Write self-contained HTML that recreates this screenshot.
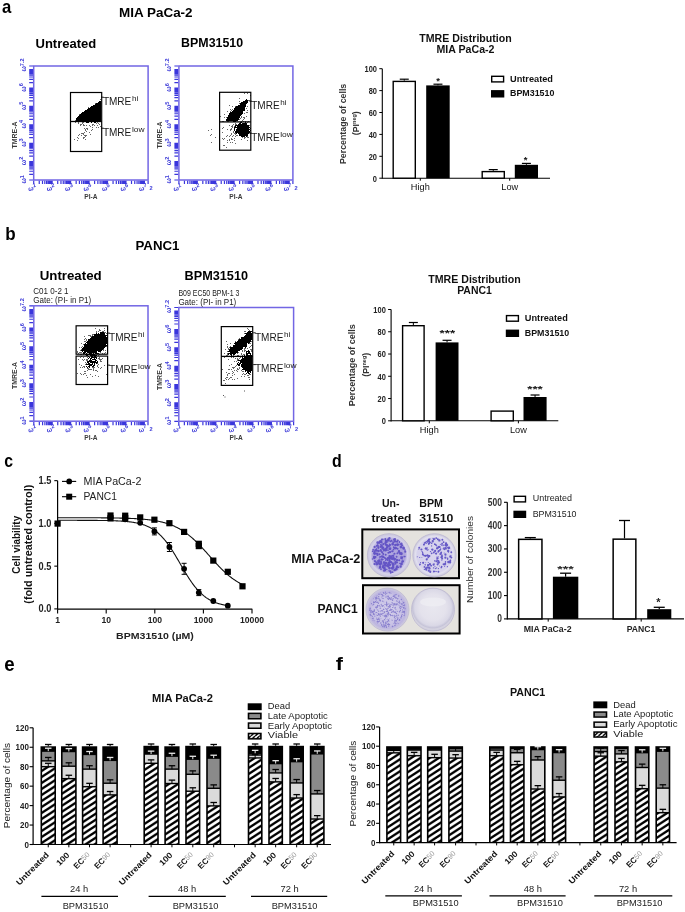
<!DOCTYPE html>
<html><head><meta charset="utf-8"><style>
html,body{margin:0;padding:0;background:#fff;}
svg{display:block;font-family:"Liberation Sans",sans-serif;filter:blur(0.3px);}
</style></head><body>
<svg width="685" height="912" viewBox="0 0 685 912">
<rect width="685" height="912" fill="#fff"/>
<text x="2" y="12.6" font-size="17.7" font-weight="bold" textLength="9.3" lengthAdjust="spacingAndGlyphs">a</text>
<text x="119.1" y="17.4" font-size="12.2" font-weight="bold" textLength="73.5" lengthAdjust="spacingAndGlyphs">MIA PaCa-2</text>
<text x="35.5" y="47.6" font-size="12.5" font-weight="bold" textLength="60.8" lengthAdjust="spacingAndGlyphs">Untreated</text>
<text x="181.1" y="47.4" font-size="12.5" font-weight="bold" textLength="62" lengthAdjust="spacingAndGlyphs">BPM31510</text>
<text x="5.3" y="239.7" font-size="18.6" font-weight="bold" textLength="10.4" lengthAdjust="spacingAndGlyphs">b</text>
<text x="135.5" y="249.7" font-size="12.5" font-weight="bold" textLength="44" lengthAdjust="spacingAndGlyphs">PANC1</text>
<text x="39.7" y="280" font-size="12.5" font-weight="bold" textLength="62" lengthAdjust="spacingAndGlyphs">Untreated</text>
<text x="4.2" y="466.7" font-size="19" font-weight="bold" textLength="8.8" lengthAdjust="spacingAndGlyphs">c</text>
<text x="332" y="467.3" font-size="18" font-weight="bold" textLength="9.7" lengthAdjust="spacingAndGlyphs">d</text>
<text x="4.2" y="670.6" font-size="19.5" font-weight="bold" textLength="10.4" lengthAdjust="spacingAndGlyphs">e</text>
<text x="335.8" y="670.4" font-size="18.8" font-weight="bold" textLength="7.2" lengthAdjust="spacingAndGlyphs">f</text>
<path d="M33.7 180.6v3.4M39.25 180.6v3.4M42.5 180.6v3.4M44.81 180.6v3.4M46.6 180.6v3.4M48.06 180.6v3.4M49.29 180.6v3.4M50.36 180.6v3.4M51.31 180.6v3.4M52.15 180.6v3.4M57.71 180.6v3.4M60.96 180.6v3.4M63.26 180.6v3.4M65.05 180.6v3.4M66.51 180.6v3.4M67.75 180.6v3.4M68.82 180.6v3.4M69.76 180.6v3.4M70.6 180.6v3.4M76.16 180.6v3.4M79.41 180.6v3.4M81.71 180.6v3.4M83.5 180.6v3.4M84.96 180.6v3.4M86.2 180.6v3.4M87.27 180.6v3.4M88.21 180.6v3.4M89.05 180.6v3.4M94.61 180.6v3.4M97.86 180.6v3.4M100.16 180.6v3.4M101.95 180.6v3.4M103.41 180.6v3.4M104.65 180.6v3.4M105.72 180.6v3.4M106.66 180.6v3.4M107.51 180.6v3.4M113.06 180.6v3.4M116.31 180.6v3.4M118.62 180.6v3.4M120.4 180.6v3.4M121.86 180.6v3.4M123.1 180.6v3.4M124.17 180.6v3.4M125.11 180.6v3.4M125.96 180.6v3.4M131.51 180.6v3.4M134.76 180.6v3.4M137.07 180.6v3.4M138.86 180.6v3.4M140.32 180.6v3.4M141.55 180.6v3.4M142.62 180.6v3.4M143.57 180.6v3.4M144.41 180.6v3.4M148.1 180.6v3.4M33.1 180h-3.9M33.1 174.46h-3.9M33.1 171.23h-3.9M33.1 168.93h-3.9M33.1 167.15h-3.9M33.1 165.69h-3.9M33.1 164.46h-3.9M33.1 163.39h-3.9M33.1 162.45h-3.9M33.1 161.61h-3.9M33.1 156.08h-3.9M33.1 152.84h-3.9M33.1 150.54h-3.9M33.1 148.76h-3.9M33.1 147.3h-3.9M33.1 146.07h-3.9M33.1 145.01h-3.9M33.1 144.07h-3.9M33.1 143.23h-3.9M33.1 137.69h-3.9M33.1 134.45h-3.9M33.1 132.16h-3.9M33.1 130.37h-3.9M33.1 128.92h-3.9M33.1 127.69h-3.9M33.1 126.62h-3.9M33.1 125.68h-3.9M33.1 124.84h-3.9M33.1 119.3h-3.9M33.1 116.07h-3.9M33.1 113.77h-3.9M33.1 111.99h-3.9M33.1 110.53h-3.9M33.1 109.3h-3.9M33.1 108.23h-3.9M33.1 107.29h-3.9M33.1 106.45h-3.9M33.1 100.92h-3.9M33.1 97.68h-3.9M33.1 95.38h-3.9M33.1 93.6h-3.9M33.1 92.14h-3.9M33.1 90.91h-3.9M33.1 89.85h-3.9M33.1 88.91h-3.9M33.1 88.06h-3.9M33.1 82.53h-3.9M33.1 79.29h-3.9M33.1 76.99h-3.9M33.1 75.21h-3.9M33.1 73.76h-3.9M33.1 72.53h-3.9M33.1 71.46h-3.9M33.1 70.52h-3.9M33.1 69.68h-3.9M33.1 66h-3.9" fill="none" stroke="#3a36dc" stroke-width="1.2"/>
<rect x="33.7" y="66" width="114.4" height="114" fill="none" stroke="#7266e4" stroke-width="1.5"/>
<text x="28.7" y="191.3" font-size="6.4" font-weight="bold" fill="#3c3ad8" transform="rotate(-15 28.7 191.3)">&#969;<tspan dy="-2.6" font-size="5.6">1</tspan></text>
<text x="26.1" y="183.6" font-size="6.4" font-weight="bold" fill="#3c3ad8" transform="rotate(-90 26.1 183.6)">&#969;<tspan dy="-2.6" font-size="5.6">1</tspan></text>
<text x="47.15" y="191.3" font-size="6.4" font-weight="bold" fill="#3c3ad8" transform="rotate(-15 47.15 191.3)">&#969;<tspan dy="-2.6" font-size="5.6">2</tspan></text>
<text x="26.1" y="165.21" font-size="6.4" font-weight="bold" fill="#3c3ad8" transform="rotate(-90 26.1 165.21)">&#969;<tspan dy="-2.6" font-size="5.6">2</tspan></text>
<text x="65.6" y="191.3" font-size="6.4" font-weight="bold" fill="#3c3ad8" transform="rotate(-15 65.6 191.3)">&#969;<tspan dy="-2.6" font-size="5.6">3</tspan></text>
<text x="26.1" y="146.83" font-size="6.4" font-weight="bold" fill="#3c3ad8" transform="rotate(-90 26.1 146.83)">&#969;<tspan dy="-2.6" font-size="5.6">3</tspan></text>
<text x="84.05" y="191.3" font-size="6.4" font-weight="bold" fill="#3c3ad8" transform="rotate(-15 84.05 191.3)">&#969;<tspan dy="-2.6" font-size="5.6">4</tspan></text>
<text x="26.1" y="128.44" font-size="6.4" font-weight="bold" fill="#3c3ad8" transform="rotate(-90 26.1 128.44)">&#969;<tspan dy="-2.6" font-size="5.6">4</tspan></text>
<text x="102.51" y="191.3" font-size="6.4" font-weight="bold" fill="#3c3ad8" transform="rotate(-15 102.51 191.3)">&#969;<tspan dy="-2.6" font-size="5.6">5</tspan></text>
<text x="26.1" y="110.05" font-size="6.4" font-weight="bold" fill="#3c3ad8" transform="rotate(-90 26.1 110.05)">&#969;<tspan dy="-2.6" font-size="5.6">5</tspan></text>
<text x="120.96" y="191.3" font-size="6.4" font-weight="bold" fill="#3c3ad8" transform="rotate(-15 120.96 191.3)">&#969;<tspan dy="-2.6" font-size="5.6">6</tspan></text>
<text x="26.1" y="91.66" font-size="6.4" font-weight="bold" fill="#3c3ad8" transform="rotate(-90 26.1 91.66)">&#969;<tspan dy="-2.6" font-size="5.6">6</tspan></text>
<text x="139.41" y="191.3" font-size="6.4" font-weight="bold" fill="#3c3ad8" transform="rotate(-15 139.41 191.3)">&#969;<tspan dy="-2.6" font-size="5.6">7</tspan></text>
<text x="149.6" y="189.8" font-size="5.6" font-weight="bold" fill="#3c3ad8">2</text>
<text x="26.1" y="71.6" font-size="6.4" font-weight="bold" fill="#3c3ad8" transform="rotate(-90 26.1 71.6)">&#969;<tspan dy="-2.6" font-size="5.6">7.2</tspan></text>
<text x="90.9" y="198.8" font-size="7.2" font-weight="bold" text-anchor="middle" fill="#3a3a3a" textLength="13.2" lengthAdjust="spacingAndGlyphs">PI-A</text>
<text x="17.2" y="135" font-size="7.2" font-weight="bold" text-anchor="middle" fill="#3a3a3a" textLength="27" lengthAdjust="spacingAndGlyphs" transform="rotate(-90 17.2 135)">TMRE-A</text>
<path d="M99 101.5h2M98 102.5h3M96 103.5h5M95 104.5h6M93 105.5h8M91 106.5h10M90 107.5h11M88 108.5h13M87 109.5h14M85 110.5h16M84 111.5h17M82 112.5h19M81 113.5h20M80 114.5h21M79 115.5h22M78 116.5h23M77 117.5h24M76 118.5h25M76 119.5h25M76 120.5h25M76 121.5h25M86 122.5h3M91 122.5h1M94 122.5h2" fill="none" stroke="#000" stroke-width="1"/>
<path d="M100 99.5h1M95 103.5h1M88 107.5h1M79 114.5h1M75 120.5h1M75 122.5h1M78 122.5h1M82 122.5h2M97 122.5h1M78 123.5h1M82 123.5h1M96 123.5h1M98 123.5h1M80 124.5h2M83 124.5h1M92 124.5h2M99 124.5h1M80 125.5h1M83 125.5h2M86 125.5h1M89 125.5h1M92 125.5h1M94 125.5h1M97 125.5h1M90 126.5h1M100 126.5h1M92 127.5h1M96 127.5h1M98 127.5h1M84 128.5h1M86 128.5h2M85 129.5h1M87 129.5h1M92 129.5h1M85 130.5h1M91 130.5h1M86 131.5h1M84 132.5h1M89 132.5h1M81 133.5h3M79 134.5h1M83 134.5h1M90 134.5h1M78 135.5h1M81 135.5h1M84 135.5h3M85 136.5h1M77 137.5h1M83 137.5h2M78 138.5h1M83 138.5h1M74 139.5h1M85 139.5h1M77 140.5h1" fill="none" stroke="#666" stroke-width="1"/>
<rect x="70.5" y="92.5" width="31.2" height="59" fill="none" stroke="#000" stroke-width="1.2"/>
<line x1="70.5" y1="121.5" x2="101.7" y2="121.5" stroke="#000" stroke-width="1.3"/>
<text x="102.9" y="105.1" font-size="11" fill="#1a1a1a" textLength="28.4" lengthAdjust="spacingAndGlyphs">TMRE</text>
<text x="131.9" y="101" font-size="8" fill="#1a1a1a" textLength="6.3" lengthAdjust="spacingAndGlyphs">hi</text>
<text x="102.9" y="135.6" font-size="11" fill="#1a1a1a" textLength="28.4" lengthAdjust="spacingAndGlyphs">TMRE</text>
<text x="131.9" y="131.7" font-size="8" fill="#1a1a1a" textLength="12.6" lengthAdjust="spacingAndGlyphs">low</text>
<line x1="101.1" y1="97.2" x2="103.6" y2="97.2" stroke="#000" stroke-width="0.9"/>
<line x1="101.1" y1="128.2" x2="103.6" y2="128.2" stroke="#000" stroke-width="0.9"/>
<path d="M178.9 180.6v3.4M184.44 180.6v3.4M187.67 180.6v3.4M189.97 180.6v3.4M191.75 180.6v3.4M193.21 180.6v3.4M194.44 180.6v3.4M195.51 180.6v3.4M196.45 180.6v3.4M197.29 180.6v3.4M202.82 180.6v3.4M206.06 180.6v3.4M208.36 180.6v3.4M210.14 180.6v3.4M211.6 180.6v3.4M212.83 180.6v3.4M213.89 180.6v3.4M214.83 180.6v3.4M215.67 180.6v3.4M221.21 180.6v3.4M224.45 180.6v3.4M226.74 180.6v3.4M228.53 180.6v3.4M229.98 180.6v3.4M231.21 180.6v3.4M232.28 180.6v3.4M233.22 180.6v3.4M234.06 180.6v3.4M239.6 180.6v3.4M242.83 180.6v3.4M245.13 180.6v3.4M246.91 180.6v3.4M248.37 180.6v3.4M249.6 180.6v3.4M250.67 180.6v3.4M251.61 180.6v3.4M252.45 180.6v3.4M257.98 180.6v3.4M261.22 180.6v3.4M263.52 180.6v3.4M265.3 180.6v3.4M266.76 180.6v3.4M267.99 180.6v3.4M269.05 180.6v3.4M269.99 180.6v3.4M270.84 180.6v3.4M276.37 180.6v3.4M279.61 180.6v3.4M281.91 180.6v3.4M283.69 180.6v3.4M285.14 180.6v3.4M286.37 180.6v3.4M287.44 180.6v3.4M288.38 180.6v3.4M289.22 180.6v3.4M292.9 180.6v3.4M178.3 180h-3.9M178.3 174.46h-3.9M178.3 171.23h-3.9M178.3 168.93h-3.9M178.3 167.15h-3.9M178.3 165.69h-3.9M178.3 164.46h-3.9M178.3 163.39h-3.9M178.3 162.45h-3.9M178.3 161.61h-3.9M178.3 156.08h-3.9M178.3 152.84h-3.9M178.3 150.54h-3.9M178.3 148.76h-3.9M178.3 147.3h-3.9M178.3 146.07h-3.9M178.3 145.01h-3.9M178.3 144.07h-3.9M178.3 143.23h-3.9M178.3 137.69h-3.9M178.3 134.45h-3.9M178.3 132.16h-3.9M178.3 130.37h-3.9M178.3 128.92h-3.9M178.3 127.69h-3.9M178.3 126.62h-3.9M178.3 125.68h-3.9M178.3 124.84h-3.9M178.3 119.3h-3.9M178.3 116.07h-3.9M178.3 113.77h-3.9M178.3 111.99h-3.9M178.3 110.53h-3.9M178.3 109.3h-3.9M178.3 108.23h-3.9M178.3 107.29h-3.9M178.3 106.45h-3.9M178.3 100.92h-3.9M178.3 97.68h-3.9M178.3 95.38h-3.9M178.3 93.6h-3.9M178.3 92.14h-3.9M178.3 90.91h-3.9M178.3 89.85h-3.9M178.3 88.91h-3.9M178.3 88.06h-3.9M178.3 82.53h-3.9M178.3 79.29h-3.9M178.3 76.99h-3.9M178.3 75.21h-3.9M178.3 73.76h-3.9M178.3 72.53h-3.9M178.3 71.46h-3.9M178.3 70.52h-3.9M178.3 69.68h-3.9M178.3 66h-3.9" fill="none" stroke="#3a36dc" stroke-width="1.2"/>
<rect x="178.9" y="66" width="114" height="114" fill="none" stroke="#7266e4" stroke-width="1.5"/>
<text x="173.9" y="191.3" font-size="6.4" font-weight="bold" fill="#3c3ad8" transform="rotate(-15 173.9 191.3)">&#969;<tspan dy="-2.6" font-size="5.6">1</tspan></text>
<text x="171.3" y="183.6" font-size="6.4" font-weight="bold" fill="#3c3ad8" transform="rotate(-90 171.3 183.6)">&#969;<tspan dy="-2.6" font-size="5.6">1</tspan></text>
<text x="192.29" y="191.3" font-size="6.4" font-weight="bold" fill="#3c3ad8" transform="rotate(-15 192.29 191.3)">&#969;<tspan dy="-2.6" font-size="5.6">2</tspan></text>
<text x="171.3" y="165.21" font-size="6.4" font-weight="bold" fill="#3c3ad8" transform="rotate(-90 171.3 165.21)">&#969;<tspan dy="-2.6" font-size="5.6">2</tspan></text>
<text x="210.67" y="191.3" font-size="6.4" font-weight="bold" fill="#3c3ad8" transform="rotate(-15 210.67 191.3)">&#969;<tspan dy="-2.6" font-size="5.6">3</tspan></text>
<text x="171.3" y="146.83" font-size="6.4" font-weight="bold" fill="#3c3ad8" transform="rotate(-90 171.3 146.83)">&#969;<tspan dy="-2.6" font-size="5.6">3</tspan></text>
<text x="229.06" y="191.3" font-size="6.4" font-weight="bold" fill="#3c3ad8" transform="rotate(-15 229.06 191.3)">&#969;<tspan dy="-2.6" font-size="5.6">4</tspan></text>
<text x="171.3" y="128.44" font-size="6.4" font-weight="bold" fill="#3c3ad8" transform="rotate(-90 171.3 128.44)">&#969;<tspan dy="-2.6" font-size="5.6">4</tspan></text>
<text x="247.45" y="191.3" font-size="6.4" font-weight="bold" fill="#3c3ad8" transform="rotate(-15 247.45 191.3)">&#969;<tspan dy="-2.6" font-size="5.6">5</tspan></text>
<text x="171.3" y="110.05" font-size="6.4" font-weight="bold" fill="#3c3ad8" transform="rotate(-90 171.3 110.05)">&#969;<tspan dy="-2.6" font-size="5.6">5</tspan></text>
<text x="265.84" y="191.3" font-size="6.4" font-weight="bold" fill="#3c3ad8" transform="rotate(-15 265.84 191.3)">&#969;<tspan dy="-2.6" font-size="5.6">6</tspan></text>
<text x="171.3" y="91.66" font-size="6.4" font-weight="bold" fill="#3c3ad8" transform="rotate(-90 171.3 91.66)">&#969;<tspan dy="-2.6" font-size="5.6">6</tspan></text>
<text x="284.22" y="191.3" font-size="6.4" font-weight="bold" fill="#3c3ad8" transform="rotate(-15 284.22 191.3)">&#969;<tspan dy="-2.6" font-size="5.6">7</tspan></text>
<text x="294.4" y="189.8" font-size="5.6" font-weight="bold" fill="#3c3ad8">2</text>
<text x="171.3" y="71.6" font-size="6.4" font-weight="bold" fill="#3c3ad8" transform="rotate(-90 171.3 71.6)">&#969;<tspan dy="-2.6" font-size="5.6">7.2</tspan></text>
<text x="235.9" y="198.8" font-size="7.2" font-weight="bold" text-anchor="middle" fill="#3a3a3a" textLength="13.2" lengthAdjust="spacingAndGlyphs">PI-A</text>
<text x="162.4" y="135" font-size="7.2" font-weight="bold" text-anchor="middle" fill="#3a3a3a" textLength="27" lengthAdjust="spacingAndGlyphs" transform="rotate(-90 162.4 135)">TMRE-A</text>
<path d="M246 99.5h1M245 100.5h3M243 101.5h5M241 102.5h7M240 103.5h7M240 104.5h6M238 105.5h8M236 106.5h10M235 107.5h10M234 108.5h11M234 109.5h11M233 110.5h12M232 111.5h11M230 112.5h13M229 113.5h14M229 114.5h13M228 115.5h13M228 116.5h12M227 117.5h13M227 118.5h12M226 119.5h13M226 120.5h12M233 121.5h3M240 122.5h2M245 122.5h1M239 123.5h2M242 123.5h5M238 124.5h9M235 125.5h14M235 126.5h1M237 126.5h12M234 127.5h16M234 128.5h1M237 128.5h12M250 128.5h1M234 129.5h1M236 129.5h14M234 130.5h1M236 130.5h13M250 130.5h1M235 131.5h15M235 132.5h15M236 133.5h1M238 133.5h11M239 134.5h9M239 135.5h9M241 136.5h4M246 136.5h1" fill="none" stroke="#000" stroke-width="1"/>
<path d="M244 93.5h1M247 93.5h1M250 95.5h1M239 98.5h1M248 100.5h2M239 101.5h1M239 103.5h1M229 105.5h1M232 106.5h1M235 106.5h1M247 106.5h1M246 108.5h1M230 109.5h1M232 109.5h1M231 110.5h1M247 110.5h1M227 111.5h1M230 111.5h1M246 112.5h2M244 113.5h1M224 114.5h1M220 116.5h1M241 116.5h1M246 116.5h1M224 117.5h1M226 117.5h1M241 117.5h1M243 117.5h2M240 118.5h1M244 118.5h1M239 119.5h1M243 119.5h1M242 120.5h1M222 121.5h2M227 121.5h2M241 121.5h1M243 121.5h1M245 121.5h1M248 121.5h1M247 122.5h1M235 123.5h1M233 124.5h1M235 124.5h2M229 125.5h1M232 125.5h1M249 125.5h1M231 126.5h2M234 126.5h1M223 127.5h1M232 127.5h1M222 128.5h1M231 128.5h1M211 129.5h1M227 129.5h1M230 129.5h2M208 130.5h1M230 130.5h1M233 131.5h1M222 132.5h1M233 132.5h1M231 133.5h1M234 133.5h2M250 133.5h1M211 134.5h1M231 134.5h1M235 134.5h1M210 135.5h1M227 135.5h1M230 135.5h1M233 135.5h1M236 135.5h2M226 136.5h1M229 136.5h1M232 136.5h1M235 136.5h1M247 136.5h1M215 137.5h1M242 137.5h1M244 137.5h2M247 137.5h2M222 138.5h1M224 138.5h1M231 138.5h1M234 138.5h1M244 138.5h1M223 139.5h1M229 139.5h1M231 139.5h2M241 139.5h1M227 140.5h1M229 140.5h1M234 140.5h1M247 140.5h1M211 142.5h1M227 142.5h1M230 142.5h1M232 142.5h1M235 143.5h1M223 145.5h2M226 147.5h1" fill="none" stroke="#666" stroke-width="1"/>
<rect x="219.6" y="92.3" width="31.2" height="57.9" fill="none" stroke="#000" stroke-width="1.2"/>
<line x1="219.6" y1="121.9" x2="250.8" y2="121.9" stroke="#000" stroke-width="1.3"/>
<text x="251.2" y="109.1" font-size="11" fill="#1a1a1a" textLength="28.4" lengthAdjust="spacingAndGlyphs">TMRE</text>
<text x="280.2" y="105" font-size="8" fill="#1a1a1a" textLength="6.3" lengthAdjust="spacingAndGlyphs">hi</text>
<text x="251.2" y="140.6" font-size="11" fill="#1a1a1a" textLength="28.4" lengthAdjust="spacingAndGlyphs">TMRE</text>
<text x="280.2" y="136.7" font-size="8" fill="#1a1a1a" textLength="12.6" lengthAdjust="spacingAndGlyphs">low</text>
<line x1="249.4" y1="101.2" x2="251.9" y2="101.2" stroke="#000" stroke-width="0.9"/>
<line x1="249.4" y1="133.2" x2="251.9" y2="133.2" stroke="#000" stroke-width="0.9"/>
<path d="M33.8 421.8v3.4M39.34 421.8v3.4M42.59 421.8v3.4M44.89 421.8v3.4M46.67 421.8v3.4M48.13 421.8v3.4M49.37 421.8v3.4M50.43 421.8v3.4M51.38 421.8v3.4M52.22 421.8v3.4M57.76 421.8v3.4M61.01 421.8v3.4M63.31 421.8v3.4M65.09 421.8v3.4M66.55 421.8v3.4M67.79 421.8v3.4M68.85 421.8v3.4M69.8 421.8v3.4M70.64 421.8v3.4M76.18 421.8v3.4M79.43 421.8v3.4M81.73 421.8v3.4M83.51 421.8v3.4M84.97 421.8v3.4M86.2 421.8v3.4M87.27 421.8v3.4M88.22 421.8v3.4M89.06 421.8v3.4M94.6 421.8v3.4M97.85 421.8v3.4M100.15 421.8v3.4M101.93 421.8v3.4M103.39 421.8v3.4M104.62 421.8v3.4M105.69 421.8v3.4M106.63 421.8v3.4M107.48 421.8v3.4M113.02 421.8v3.4M116.27 421.8v3.4M118.57 421.8v3.4M120.35 421.8v3.4M121.81 421.8v3.4M123.04 421.8v3.4M124.11 421.8v3.4M125.05 421.8v3.4M125.9 421.8v3.4M131.44 421.8v3.4M134.69 421.8v3.4M136.99 421.8v3.4M138.77 421.8v3.4M140.23 421.8v3.4M141.46 421.8v3.4M142.53 421.8v3.4M143.47 421.8v3.4M144.32 421.8v3.4M148 421.8v3.4M33.2 421.2h-3.9M33.2 415.6h-3.9M33.2 412.32h-3.9M33.2 409.99h-3.9M33.2 408.19h-3.9M33.2 406.72h-3.9M33.2 405.47h-3.9M33.2 404.39h-3.9M33.2 403.44h-3.9M33.2 402.59h-3.9M33.2 396.98h-3.9M33.2 393.71h-3.9M33.2 391.38h-3.9M33.2 389.58h-3.9M33.2 388.1h-3.9M33.2 386.86h-3.9M33.2 385.78h-3.9M33.2 384.83h-3.9M33.2 383.97h-3.9M33.2 378.37h-3.9M33.2 375.09h-3.9M33.2 372.77h-3.9M33.2 370.96h-3.9M33.2 369.49h-3.9M33.2 368.24h-3.9M33.2 367.17h-3.9M33.2 366.21h-3.9M33.2 365.36h-3.9M33.2 359.76h-3.9M33.2 356.48h-3.9M33.2 354.16h-3.9M33.2 352.35h-3.9M33.2 350.88h-3.9M33.2 349.63h-3.9M33.2 348.55h-3.9M33.2 347.6h-3.9M33.2 346.75h-3.9M33.2 341.15h-3.9M33.2 337.87h-3.9M33.2 335.54h-3.9M33.2 333.74h-3.9M33.2 332.26h-3.9M33.2 331.02h-3.9M33.2 329.94h-3.9M33.2 328.99h-3.9M33.2 328.14h-3.9M33.2 322.53h-3.9M33.2 319.25h-3.9M33.2 316.93h-3.9M33.2 315.13h-3.9M33.2 313.65h-3.9M33.2 312.41h-3.9M33.2 311.33h-3.9M33.2 310.37h-3.9M33.2 309.52h-3.9M33.2 305.8h-3.9" fill="none" stroke="#3a36dc" stroke-width="1.2"/>
<rect x="33.8" y="305.8" width="114.2" height="115.4" fill="none" stroke="#7266e4" stroke-width="1.5"/>
<text x="28.8" y="432.5" font-size="6.4" font-weight="bold" fill="#3c3ad8" transform="rotate(-15 28.8 432.5)">&#969;<tspan dy="-2.6" font-size="5.6">1</tspan></text>
<text x="26.2" y="424.8" font-size="6.4" font-weight="bold" fill="#3c3ad8" transform="rotate(-90 26.2 424.8)">&#969;<tspan dy="-2.6" font-size="5.6">1</tspan></text>
<text x="47.22" y="432.5" font-size="6.4" font-weight="bold" fill="#3c3ad8" transform="rotate(-15 47.22 432.5)">&#969;<tspan dy="-2.6" font-size="5.6">2</tspan></text>
<text x="26.2" y="406.19" font-size="6.4" font-weight="bold" fill="#3c3ad8" transform="rotate(-90 26.2 406.19)">&#969;<tspan dy="-2.6" font-size="5.6">2</tspan></text>
<text x="65.64" y="432.5" font-size="6.4" font-weight="bold" fill="#3c3ad8" transform="rotate(-15 65.64 432.5)">&#969;<tspan dy="-2.6" font-size="5.6">3</tspan></text>
<text x="26.2" y="387.57" font-size="6.4" font-weight="bold" fill="#3c3ad8" transform="rotate(-90 26.2 387.57)">&#969;<tspan dy="-2.6" font-size="5.6">3</tspan></text>
<text x="84.06" y="432.5" font-size="6.4" font-weight="bold" fill="#3c3ad8" transform="rotate(-15 84.06 432.5)">&#969;<tspan dy="-2.6" font-size="5.6">4</tspan></text>
<text x="26.2" y="368.96" font-size="6.4" font-weight="bold" fill="#3c3ad8" transform="rotate(-90 26.2 368.96)">&#969;<tspan dy="-2.6" font-size="5.6">4</tspan></text>
<text x="102.48" y="432.5" font-size="6.4" font-weight="bold" fill="#3c3ad8" transform="rotate(-15 102.48 432.5)">&#969;<tspan dy="-2.6" font-size="5.6">5</tspan></text>
<text x="26.2" y="350.35" font-size="6.4" font-weight="bold" fill="#3c3ad8" transform="rotate(-90 26.2 350.35)">&#969;<tspan dy="-2.6" font-size="5.6">5</tspan></text>
<text x="120.9" y="432.5" font-size="6.4" font-weight="bold" fill="#3c3ad8" transform="rotate(-15 120.9 432.5)">&#969;<tspan dy="-2.6" font-size="5.6">6</tspan></text>
<text x="26.2" y="331.74" font-size="6.4" font-weight="bold" fill="#3c3ad8" transform="rotate(-90 26.2 331.74)">&#969;<tspan dy="-2.6" font-size="5.6">6</tspan></text>
<text x="139.32" y="432.5" font-size="6.4" font-weight="bold" fill="#3c3ad8" transform="rotate(-15 139.32 432.5)">&#969;<tspan dy="-2.6" font-size="5.6">7</tspan></text>
<text x="149.5" y="431" font-size="5.6" font-weight="bold" fill="#3c3ad8">2</text>
<text x="26.2" y="311.4" font-size="6.4" font-weight="bold" fill="#3c3ad8" transform="rotate(-90 26.2 311.4)">&#969;<tspan dy="-2.6" font-size="5.6">7.2</tspan></text>
<text x="90.9" y="440" font-size="7.2" font-weight="bold" text-anchor="middle" fill="#3a3a3a" textLength="13.2" lengthAdjust="spacingAndGlyphs">PI-A</text>
<text x="17.3" y="375.5" font-size="7.2" font-weight="bold" text-anchor="middle" fill="#3a3a3a" textLength="27" lengthAdjust="spacingAndGlyphs" transform="rotate(-90 17.3 375.5)">TMRE-A</text>
<path d="M100 332.5h4M96 333.5h1M98 333.5h1M100 333.5h5M94 334.5h11M94 335.5h13M92 336.5h14M91 337.5h16M90 338.5h17M88 339.5h19M88 340.5h19M87 341.5h20M86 342.5h21M85 343.5h1M87 343.5h20M84 344.5h22M84 345.5h23M84 346.5h22M83 347.5h22M82 348.5h22M82 349.5h21M81 350.5h21M82 351.5h1M84 351.5h13M98 351.5h3M83 352.5h3M87 352.5h10M83 353.5h2M86 353.5h1M89 353.5h3M93 353.5h1M95 353.5h4M85 354.5h10M86 355.5h2M90 355.5h7M88 356.5h1M91 356.5h2M94 356.5h2M89 357.5h1M91 357.5h6M88 358.5h1M90 358.5h2M94 358.5h1M96 358.5h1M90 359.5h1M92 359.5h4M89 360.5h3M95 360.5h2M87 361.5h9M97 361.5h1M87 362.5h2M90 362.5h8M88 363.5h2M92 363.5h1M94 363.5h1M96 363.5h1M86 364.5h7M94 364.5h1M89 365.5h3M93 365.5h2M86 366.5h1M88 366.5h2M92 366.5h2M87 367.5h1M89 367.5h1" fill="none" stroke="#000" stroke-width="1"/>
<path d="M95 328.5h1M104 328.5h1M99 329.5h1M99 330.5h2M104 330.5h1M96 331.5h1M98 331.5h1M102 331.5h2M96 332.5h1M104 332.5h2M106 333.5h1M92 334.5h2M88 335.5h3M92 335.5h1M84 336.5h1M90 336.5h2M85 338.5h1M84 339.5h1M86 339.5h1M86 340.5h1M84 341.5h2M81 343.5h1M83 344.5h1M82 346.5h1M106 346.5h1M79 347.5h1M81 347.5h1M81 349.5h1M103 349.5h1M80 350.5h1M103 350.5h1M105 350.5h1M77 351.5h1M77 352.5h1M79 352.5h3M100 352.5h1M105 352.5h1M78 353.5h1M102 353.5h1M104 353.5h1M80 354.5h2M83 354.5h1M99 354.5h1M98 355.5h1M81 356.5h1M80 357.5h1M83 357.5h1M87 357.5h1M99 357.5h1M98 358.5h2M102 358.5h1M78 359.5h1M82 359.5h1M84 359.5h1M86 359.5h2M99 359.5h3M83 360.5h1M86 360.5h2M100 360.5h1M100 361.5h2M85 362.5h1M86 363.5h1M97 363.5h1M79 364.5h1M85 364.5h1M98 364.5h1M81 365.5h1M97 365.5h1M104 365.5h1M83 366.5h2M97 366.5h1M80 367.5h1M82 367.5h1M84 367.5h1M92 367.5h3M98 367.5h1M101 367.5h1M87 368.5h2M93 368.5h1M100 368.5h1M88 369.5h4M93 369.5h1M87 370.5h1M93 370.5h1M95 370.5h2M84 371.5h2M97 371.5h1M77 373.5h1M80 373.5h1M84 373.5h2M81 374.5h1M83 374.5h1M90 374.5h1M106 374.5h1M86 375.5h1M95 375.5h1M92 376.5h1M98 376.5h1M87 377.5h1" fill="none" stroke="#666" stroke-width="1"/>
<rect x="76.1" y="325.8" width="31.5" height="28.4" fill="none" stroke="#000" stroke-width="1.2"/>
<rect x="76.1" y="356.1" width="31.5" height="28.4" fill="none" stroke="#000" stroke-width="1.2"/>
<text x="109.1" y="341" font-size="11" fill="#1a1a1a" textLength="28.4" lengthAdjust="spacingAndGlyphs">TMRE</text>
<text x="138.1" y="336.9" font-size="8" fill="#1a1a1a" textLength="6.3" lengthAdjust="spacingAndGlyphs">hi</text>
<text x="109.1" y="372.5" font-size="11" fill="#1a1a1a" textLength="28.4" lengthAdjust="spacingAndGlyphs">TMRE</text>
<text x="138.1" y="368.6" font-size="8" fill="#1a1a1a" textLength="12.6" lengthAdjust="spacingAndGlyphs">low</text>
<line x1="107.3" y1="333.1" x2="109.8" y2="333.1" stroke="#000" stroke-width="0.9"/>
<line x1="107.3" y1="365.1" x2="109.8" y2="365.1" stroke="#000" stroke-width="0.9"/>
<path d="M178.8 421.9v3.4M184.37 421.9v3.4M187.63 421.9v3.4M189.95 421.9v3.4M191.74 421.9v3.4M193.21 421.9v3.4M194.45 421.9v3.4M195.52 421.9v3.4M196.47 421.9v3.4M197.32 421.9v3.4M202.89 421.9v3.4M206.15 421.9v3.4M208.46 421.9v3.4M210.26 421.9v3.4M211.72 421.9v3.4M212.96 421.9v3.4M214.04 421.9v3.4M214.99 421.9v3.4M215.83 421.9v3.4M221.41 421.9v3.4M224.67 421.9v3.4M226.98 421.9v3.4M228.77 421.9v3.4M230.24 421.9v3.4M231.48 421.9v3.4M232.55 421.9v3.4M233.5 421.9v3.4M234.35 421.9v3.4M239.92 421.9v3.4M243.18 421.9v3.4M245.5 421.9v3.4M247.29 421.9v3.4M248.76 421.9v3.4M250 421.9v3.4M251.07 421.9v3.4M252.02 421.9v3.4M252.86 421.9v3.4M258.44 421.9v3.4M261.7 421.9v3.4M264.01 421.9v3.4M265.81 421.9v3.4M267.27 421.9v3.4M268.51 421.9v3.4M269.59 421.9v3.4M270.53 421.9v3.4M271.38 421.9v3.4M276.95 421.9v3.4M280.22 421.9v3.4M282.53 421.9v3.4M284.32 421.9v3.4M285.79 421.9v3.4M287.03 421.9v3.4M288.1 421.9v3.4M289.05 421.9v3.4M289.9 421.9v3.4M293.6 421.9v3.4M178.2 421.3h-3.9M178.2 415.77h-3.9M178.2 412.54h-3.9M178.2 410.25h-3.9M178.2 408.47h-3.9M178.2 407.02h-3.9M178.2 405.79h-3.9M178.2 404.72h-3.9M178.2 403.79h-3.9M178.2 402.95h-3.9M178.2 397.42h-3.9M178.2 394.19h-3.9M178.2 391.89h-3.9M178.2 390.12h-3.9M178.2 388.66h-3.9M178.2 387.43h-3.9M178.2 386.37h-3.9M178.2 385.43h-3.9M178.2 384.59h-3.9M178.2 379.06h-3.9M178.2 375.83h-3.9M178.2 373.54h-3.9M178.2 371.76h-3.9M178.2 370.31h-3.9M178.2 369.08h-3.9M178.2 368.01h-3.9M178.2 367.08h-3.9M178.2 366.24h-3.9M178.2 360.71h-3.9M178.2 357.48h-3.9M178.2 355.18h-3.9M178.2 353.41h-3.9M178.2 351.95h-3.9M178.2 350.72h-3.9M178.2 349.66h-3.9M178.2 348.72h-3.9M178.2 347.88h-3.9M178.2 342.36h-3.9M178.2 339.12h-3.9M178.2 336.83h-3.9M178.2 335.05h-3.9M178.2 333.6h-3.9M178.2 332.37h-3.9M178.2 331.3h-3.9M178.2 330.37h-3.9M178.2 329.53h-3.9M178.2 324h-3.9M178.2 320.77h-3.9M178.2 318.48h-3.9M178.2 316.7h-3.9M178.2 315.24h-3.9M178.2 314.01h-3.9M178.2 312.95h-3.9M178.2 312.01h-3.9M178.2 311.17h-3.9M178.2 307.5h-3.9" fill="none" stroke="#3a36dc" stroke-width="1.2"/>
<rect x="178.8" y="307.5" width="114.8" height="113.8" fill="none" stroke="#7266e4" stroke-width="1.5"/>
<text x="173.8" y="432.6" font-size="6.4" font-weight="bold" fill="#3c3ad8" transform="rotate(-15 173.8 432.6)">&#969;<tspan dy="-2.6" font-size="5.6">1</tspan></text>
<text x="171.2" y="424.9" font-size="6.4" font-weight="bold" fill="#3c3ad8" transform="rotate(-90 171.2 424.9)">&#969;<tspan dy="-2.6" font-size="5.6">1</tspan></text>
<text x="192.32" y="432.6" font-size="6.4" font-weight="bold" fill="#3c3ad8" transform="rotate(-15 192.32 432.6)">&#969;<tspan dy="-2.6" font-size="5.6">2</tspan></text>
<text x="171.2" y="406.55" font-size="6.4" font-weight="bold" fill="#3c3ad8" transform="rotate(-90 171.2 406.55)">&#969;<tspan dy="-2.6" font-size="5.6">2</tspan></text>
<text x="210.83" y="432.6" font-size="6.4" font-weight="bold" fill="#3c3ad8" transform="rotate(-15 210.83 432.6)">&#969;<tspan dy="-2.6" font-size="5.6">3</tspan></text>
<text x="171.2" y="388.19" font-size="6.4" font-weight="bold" fill="#3c3ad8" transform="rotate(-90 171.2 388.19)">&#969;<tspan dy="-2.6" font-size="5.6">3</tspan></text>
<text x="229.35" y="432.6" font-size="6.4" font-weight="bold" fill="#3c3ad8" transform="rotate(-15 229.35 432.6)">&#969;<tspan dy="-2.6" font-size="5.6">4</tspan></text>
<text x="171.2" y="369.84" font-size="6.4" font-weight="bold" fill="#3c3ad8" transform="rotate(-90 171.2 369.84)">&#969;<tspan dy="-2.6" font-size="5.6">4</tspan></text>
<text x="247.86" y="432.6" font-size="6.4" font-weight="bold" fill="#3c3ad8" transform="rotate(-15 247.86 432.6)">&#969;<tspan dy="-2.6" font-size="5.6">5</tspan></text>
<text x="171.2" y="351.48" font-size="6.4" font-weight="bold" fill="#3c3ad8" transform="rotate(-90 171.2 351.48)">&#969;<tspan dy="-2.6" font-size="5.6">5</tspan></text>
<text x="266.38" y="432.6" font-size="6.4" font-weight="bold" fill="#3c3ad8" transform="rotate(-15 266.38 432.6)">&#969;<tspan dy="-2.6" font-size="5.6">6</tspan></text>
<text x="171.2" y="333.13" font-size="6.4" font-weight="bold" fill="#3c3ad8" transform="rotate(-90 171.2 333.13)">&#969;<tspan dy="-2.6" font-size="5.6">6</tspan></text>
<text x="284.9" y="432.6" font-size="6.4" font-weight="bold" fill="#3c3ad8" transform="rotate(-15 284.9 432.6)">&#969;<tspan dy="-2.6" font-size="5.6">7</tspan></text>
<text x="295.1" y="431.1" font-size="5.6" font-weight="bold" fill="#3c3ad8">2</text>
<text x="171.2" y="313.1" font-size="6.4" font-weight="bold" fill="#3c3ad8" transform="rotate(-90 171.2 313.1)">&#969;<tspan dy="-2.6" font-size="5.6">7.2</tspan></text>
<text x="236.2" y="440.1" font-size="7.2" font-weight="bold" text-anchor="middle" fill="#3a3a3a" textLength="13.2" lengthAdjust="spacingAndGlyphs">PI-A</text>
<text x="162.3" y="376.4" font-size="7.2" font-weight="bold" text-anchor="middle" fill="#3a3a3a" textLength="27" lengthAdjust="spacingAndGlyphs" transform="rotate(-90 162.3 376.4)">TMRE-A</text>
<path d="M248 331.5h4M247 332.5h4M245 333.5h7M246 334.5h6M245 335.5h7M244 336.5h8M241 337.5h11M241 338.5h11M239 339.5h13M238 340.5h13M237 341.5h14M235 342.5h15M234 343.5h13M248 343.5h1M235 344.5h12M233 345.5h14M233 346.5h14M230 347.5h13M245 347.5h1M230 348.5h13M229 349.5h13M229 350.5h11M248 350.5h1M228 351.5h10M246 351.5h4M230 352.5h8M246 352.5h1M248 352.5h2M228 353.5h8M246 353.5h5M228 354.5h1M230 354.5h2M233 354.5h2M246 354.5h2M250 354.5h1M231 355.5h1M244 355.5h1M246 355.5h6M243 356.5h8M242 357.5h1M244 357.5h8M242 358.5h10M241 359.5h11M238 360.5h14M240 361.5h12M238 362.5h1M240 362.5h12M237 363.5h1M239 363.5h2M242 363.5h10M237 364.5h3M241 364.5h11M238 365.5h2M241 365.5h11M241 366.5h11M242 367.5h10M243 368.5h9M242 369.5h10M245 370.5h7M245 371.5h1M247 371.5h4M247 372.5h2M250 372.5h1M246 373.5h1M248 373.5h2" fill="none" stroke="#000" stroke-width="1"/>
<path d="M247 328.5h1M248 329.5h1M249 330.5h1M244 331.5h2M244 333.5h1M239 338.5h1M238 339.5h1M226 341.5h1M235 341.5h1M251 341.5h1M230 343.5h1M249 343.5h2M227 344.5h1M251 345.5h1M227 346.5h1M230 346.5h1M250 346.5h1M227 347.5h1M229 347.5h1M249 347.5h1M228 348.5h1M244 348.5h2M247 348.5h1M225 349.5h1M228 349.5h1M244 349.5h1M250 349.5h2M242 350.5h1M244 350.5h2M251 350.5h1M227 351.5h1M242 351.5h1M244 351.5h1M251 351.5h1M238 352.5h1M224 353.5h1M227 353.5h1M237 353.5h1M241 353.5h1M227 354.5h1M241 354.5h1M243 354.5h2M226 355.5h2M233 355.5h1M237 355.5h2M242 355.5h1M226 356.5h1M229 356.5h2M238 356.5h1M241 356.5h1M224 357.5h1M231 357.5h1M233 357.5h1M240 357.5h1M235 358.5h1M237 358.5h1M239 358.5h1M228 359.5h1M237 359.5h2M237 360.5h1M234 361.5h1M236 361.5h1M231 364.5h1M229 365.5h1M236 365.5h1M235 366.5h1M232 367.5h3M239 367.5h1M233 368.5h1M237 368.5h1M239 368.5h1M222 369.5h1M228 369.5h2M231 369.5h1M237 369.5h2M234 370.5h1M236 370.5h1M241 370.5h1M232 371.5h1M237 371.5h1M242 371.5h2M226 372.5h1M233 372.5h1M228 373.5h2M232 373.5h1M243 373.5h1M227 374.5h1M234 374.5h1M242 374.5h1M244 374.5h2M249 374.5h2M227 375.5h1M232 375.5h1M247 375.5h2M241 376.5h1M244 376.5h1M226 377.5h2M230 377.5h2M248 377.5h2M225 378.5h1M229 378.5h1M237 378.5h1M226 379.5h1M228 379.5h1M232 379.5h1M234 379.5h1M249 379.5h1M223 380.5h2M225 383.5h1" fill="none" stroke="#666" stroke-width="1"/>
<path d="M223 395.5h1M224.5 397h1M244 391h1" stroke="#555" stroke-width="1"/>
<rect x="221.3" y="326.6" width="31.4" height="58.8" fill="none" stroke="#000" stroke-width="1.2"/>
<line x1="221.3" y1="356.4" x2="252.7" y2="356.4" stroke="#000" stroke-width="1.3"/>
<text x="255" y="340.7" font-size="11" fill="#1a1a1a" textLength="28.4" lengthAdjust="spacingAndGlyphs">TMRE</text>
<text x="284" y="336.6" font-size="8" fill="#1a1a1a" textLength="6.3" lengthAdjust="spacingAndGlyphs">hi</text>
<text x="255" y="372" font-size="11" fill="#1a1a1a" textLength="28.4" lengthAdjust="spacingAndGlyphs">TMRE</text>
<text x="284" y="368.1" font-size="8" fill="#1a1a1a" textLength="12.6" lengthAdjust="spacingAndGlyphs">low</text>
<line x1="253.2" y1="332.8" x2="255.7" y2="332.8" stroke="#000" stroke-width="0.9"/>
<line x1="253.2" y1="364.6" x2="255.7" y2="364.6" stroke="#000" stroke-width="0.9"/>
<text x="33.3" y="294.3" font-size="8.2" fill="#222" textLength="35.3" lengthAdjust="spacingAndGlyphs">C01 0-2 1</text>
<text x="33.3" y="303.4" font-size="8.2" fill="#222" textLength="57.9" lengthAdjust="spacingAndGlyphs">Gate: (PI- in P1)</text>
<text x="178.4" y="296.3" font-size="8.2" fill="#222" textLength="61" lengthAdjust="spacingAndGlyphs">B09 EC50 BPM-1 3</text>
<text x="178.4" y="304.8" font-size="8.2" fill="#222" textLength="57.9" lengthAdjust="spacingAndGlyphs">Gate: (PI- in P1)</text>
<text x="184.6" y="280" font-size="12.5" font-weight="bold" textLength="63.4" lengthAdjust="spacingAndGlyphs">BPM31510</text>
<line x1="382.3" y1="68.7" x2="382.3" y2="178.8" stroke="#000" stroke-width="1.1"/>
<line x1="382.3" y1="178.2" x2="550" y2="178.2" stroke="#000" stroke-width="1.1"/>
<line x1="379.3" y1="178.2" x2="382.3" y2="178.2" stroke="#000" stroke-width="1"/>
<text x="377" y="181.6" font-size="9.6" font-weight="bold" text-anchor="end" fill="#222" textLength="4.15" lengthAdjust="spacingAndGlyphs">0</text>
<line x1="379.3" y1="156.3" x2="382.3" y2="156.3" stroke="#000" stroke-width="1"/>
<text x="377" y="159.7" font-size="9.6" font-weight="bold" text-anchor="end" fill="#222" textLength="8.3" lengthAdjust="spacingAndGlyphs">20</text>
<line x1="379.3" y1="134.4" x2="382.3" y2="134.4" stroke="#000" stroke-width="1"/>
<text x="377" y="137.8" font-size="9.6" font-weight="bold" text-anchor="end" fill="#222" textLength="8.3" lengthAdjust="spacingAndGlyphs">40</text>
<line x1="379.3" y1="112.5" x2="382.3" y2="112.5" stroke="#000" stroke-width="1"/>
<text x="377" y="115.9" font-size="9.6" font-weight="bold" text-anchor="end" fill="#222" textLength="8.3" lengthAdjust="spacingAndGlyphs">60</text>
<line x1="379.3" y1="90.6" x2="382.3" y2="90.6" stroke="#000" stroke-width="1"/>
<text x="377" y="94" font-size="9.6" font-weight="bold" text-anchor="end" fill="#222" textLength="8.3" lengthAdjust="spacingAndGlyphs">80</text>
<line x1="379.3" y1="68.7" x2="382.3" y2="68.7" stroke="#000" stroke-width="1"/>
<text x="377" y="72.1" font-size="9.6" font-weight="bold" text-anchor="end" fill="#222" textLength="12.45" lengthAdjust="spacingAndGlyphs">100</text>
<line x1="404.25" y1="79.2" x2="404.25" y2="80.7" stroke="#000" stroke-width="1"/>
<line x1="399.75" y1="79.2" x2="408.75" y2="79.2" stroke="#000" stroke-width="1.2"/>
<rect x="393.2" y="81.4" width="22.1" height="96.8" fill="#fff" stroke="#000" stroke-width="1.4"/>
<line x1="437.95" y1="84.2" x2="437.95" y2="85.4" stroke="#000" stroke-width="1"/>
<line x1="433.45" y1="84.2" x2="442.45" y2="84.2" stroke="#000" stroke-width="1.2"/>
<rect x="426.2" y="85.4" width="23.5" height="92.8" fill="#000"/>
<line x1="493.25" y1="169.6" x2="493.25" y2="170.9" stroke="#000" stroke-width="1"/>
<line x1="488.75" y1="169.6" x2="497.75" y2="169.6" stroke="#000" stroke-width="1.2"/>
<rect x="482.2" y="171.6" width="22.1" height="6.6" fill="#fff" stroke="#000" stroke-width="1.4"/>
<line x1="526.4" y1="163.4" x2="526.4" y2="164.8" stroke="#000" stroke-width="1"/>
<line x1="521.9" y1="163.4" x2="530.9" y2="163.4" stroke="#000" stroke-width="1.2"/>
<rect x="514.8" y="164.8" width="23.2" height="13.4" fill="#000"/>
<text x="438.2" y="83.6" font-size="9.5" font-weight="bold" text-anchor="middle" fill="#111">*</text>
<text x="525.6" y="162.6" font-size="9.5" font-weight="bold" text-anchor="middle" fill="#111">*</text>
<line x1="420.3" y1="178.2" x2="420.3" y2="180.7" stroke="#000" stroke-width="1"/>
<text x="420.3" y="190.2" font-size="9.2" text-anchor="middle" fill="#111">High</text>
<line x1="509.7" y1="178.2" x2="509.7" y2="180.7" stroke="#000" stroke-width="1"/>
<text x="509.7" y="190.2" font-size="9.2" text-anchor="middle" fill="#111">Low</text>
<text x="465.5" y="41.5" font-size="10.6" font-weight="bold" text-anchor="middle" fill="#111" textLength="92.4" lengthAdjust="spacingAndGlyphs">TMRE Distribution</text>
<text x="465.5" y="53.2" font-size="10.6" font-weight="bold" text-anchor="middle" fill="#111" textLength="58" lengthAdjust="spacingAndGlyphs">MIA PaCa-2</text>
<rect x="491.7" y="76.3" width="11.9" height="5.6" fill="#fff" stroke="#000" stroke-width="1.4"/>
<rect x="491" y="90.1" width="13.3" height="7.4" fill="#000"/>
<text x="510" y="81.5" font-size="8.5" font-weight="bold" fill="#111" textLength="43" lengthAdjust="spacingAndGlyphs">Untreated</text>
<text x="510" y="96.2" font-size="8.5" font-weight="bold" fill="#111" textLength="44.4" lengthAdjust="spacingAndGlyphs">BPM31510</text>
<text x="346.2" y="123.9" font-size="8.8" font-weight="bold" text-anchor="middle" fill="#333" textLength="80.3" lengthAdjust="spacingAndGlyphs" transform="rotate(-90 346.2 123.9)">Percentage of cells</text>
<text transform="translate(358.6 123.2) rotate(-90)" font-size="8.8" font-weight="bold" text-anchor="middle" fill="#333">(PI<tspan font-size="5.5" dy="-3">neg</tspan><tspan dy="3">)</tspan></text>
<line x1="391.1" y1="309.5" x2="391.1" y2="421.4" stroke="#000" stroke-width="1.1"/>
<line x1="391.1" y1="420.8" x2="558.3" y2="420.8" stroke="#000" stroke-width="1.1"/>
<line x1="388.1" y1="420.8" x2="391.1" y2="420.8" stroke="#000" stroke-width="1"/>
<text x="385.8" y="424.2" font-size="9.6" font-weight="bold" text-anchor="end" fill="#222" textLength="4.15" lengthAdjust="spacingAndGlyphs">0</text>
<line x1="388.1" y1="398.54" x2="391.1" y2="398.54" stroke="#000" stroke-width="1"/>
<text x="385.8" y="401.94" font-size="9.6" font-weight="bold" text-anchor="end" fill="#222" textLength="8.3" lengthAdjust="spacingAndGlyphs">20</text>
<line x1="388.1" y1="376.28" x2="391.1" y2="376.28" stroke="#000" stroke-width="1"/>
<text x="385.8" y="379.68" font-size="9.6" font-weight="bold" text-anchor="end" fill="#222" textLength="8.3" lengthAdjust="spacingAndGlyphs">40</text>
<line x1="388.1" y1="354.02" x2="391.1" y2="354.02" stroke="#000" stroke-width="1"/>
<text x="385.8" y="357.42" font-size="9.6" font-weight="bold" text-anchor="end" fill="#222" textLength="8.3" lengthAdjust="spacingAndGlyphs">60</text>
<line x1="388.1" y1="331.76" x2="391.1" y2="331.76" stroke="#000" stroke-width="1"/>
<text x="385.8" y="335.16" font-size="9.6" font-weight="bold" text-anchor="end" fill="#222" textLength="8.3" lengthAdjust="spacingAndGlyphs">80</text>
<line x1="388.1" y1="309.5" x2="391.1" y2="309.5" stroke="#000" stroke-width="1"/>
<text x="385.8" y="312.9" font-size="9.6" font-weight="bold" text-anchor="end" fill="#222" textLength="12.45" lengthAdjust="spacingAndGlyphs">100</text>
<line x1="413.35" y1="322.5" x2="413.35" y2="325" stroke="#000" stroke-width="1"/>
<line x1="408.85" y1="322.5" x2="417.85" y2="322.5" stroke="#000" stroke-width="1.2"/>
<rect x="402.6" y="325.7" width="21.5" height="95.1" fill="#fff" stroke="#000" stroke-width="1.4"/>
<line x1="447.05" y1="340.3" x2="447.05" y2="342.4" stroke="#000" stroke-width="1"/>
<line x1="442.55" y1="340.3" x2="451.55" y2="340.3" stroke="#000" stroke-width="1.2"/>
<rect x="435.6" y="342.4" width="22.9" height="78.4" fill="#000"/>
<rect x="491.1" y="411.1" width="22.2" height="9.7" fill="#fff" stroke="#000" stroke-width="1.4"/>
<line x1="535.05" y1="395" x2="535.05" y2="397" stroke="#000" stroke-width="1"/>
<line x1="530.55" y1="395" x2="539.55" y2="395" stroke="#000" stroke-width="1.2"/>
<rect x="523.5" y="397" width="23.1" height="23.8" fill="#000"/>
<text x="447.3" y="336.2" font-size="9.5" font-weight="bold" text-anchor="middle" fill="#111" textLength="15.5" lengthAdjust="spacingAndGlyphs">***</text>
<text x="535" y="392.1" font-size="9.5" font-weight="bold" text-anchor="middle" fill="#111" textLength="15.5" lengthAdjust="spacingAndGlyphs">***</text>
<line x1="429.3" y1="420.8" x2="429.3" y2="423.3" stroke="#000" stroke-width="1"/>
<text x="429.3" y="432.8" font-size="9.2" text-anchor="middle" fill="#111">High</text>
<line x1="518.4" y1="420.8" x2="518.4" y2="423.3" stroke="#000" stroke-width="1"/>
<text x="518.4" y="432.8" font-size="9.2" text-anchor="middle" fill="#111">Low</text>
<text x="474.5" y="282.5" font-size="10.6" font-weight="bold" text-anchor="middle" fill="#111" textLength="92.4" lengthAdjust="spacingAndGlyphs">TMRE Distribution</text>
<text x="474.5" y="294.2" font-size="10.6" font-weight="bold" text-anchor="middle" fill="#111" textLength="34.7" lengthAdjust="spacingAndGlyphs">PANC1</text>
<rect x="506.5" y="315.6" width="11.9" height="5.6" fill="#fff" stroke="#000" stroke-width="1.4"/>
<rect x="505.8" y="329.6" width="13.3" height="7.4" fill="#000"/>
<text x="524.8" y="320.8" font-size="8.5" font-weight="bold" fill="#111" textLength="43" lengthAdjust="spacingAndGlyphs">Untreated</text>
<text x="524.8" y="335.7" font-size="8.5" font-weight="bold" fill="#111" textLength="44.4" lengthAdjust="spacingAndGlyphs">BPM31510</text>
<text x="355.2" y="365.2" font-size="8.8" font-weight="bold" text-anchor="middle" fill="#333" textLength="82" lengthAdjust="spacingAndGlyphs" transform="rotate(-90 355.2 365.2)">Percentage of cells</text>
<text transform="translate(368.8 364.8) rotate(-90)" font-size="8.8" font-weight="bold" text-anchor="middle" fill="#333">(PI<tspan font-size="5.5" dy="-3">neg</tspan><tspan dy="3">)</tspan></text>
<path d="M57.6 520.31L58.17 520.31L58.73 520.31L59.3 520.31L59.87 520.31L60.44 520.31L61 520.31L61.57 520.31L62.14 520.31L62.7 520.31L63.27 520.31L63.84 520.31L64.4 520.31L64.97 520.31L65.54 520.31L66.11 520.31L66.67 520.31L67.24 520.31L67.81 520.31L68.37 520.31L68.94 520.31L69.51 520.31L70.07 520.31L70.64 520.31L71.21 520.32L71.78 520.32L72.34 520.32L72.91 520.32L73.48 520.32L74.04 520.32L74.61 520.32L75.18 520.32L75.74 520.32L76.31 520.32L76.88 520.32L77.44 520.33L78.01 520.33L78.58 520.33L79.15 520.33L79.71 520.33L80.28 520.33L80.85 520.33L81.41 520.33L81.98 520.34L82.55 520.34L83.12 520.34L83.68 520.34L84.25 520.34L84.82 520.35L85.38 520.35L85.95 520.35L86.52 520.35L87.08 520.35L87.65 520.36L88.22 520.36L88.78 520.36L89.35 520.37L89.92 520.37L90.49 520.37L91.05 520.37L91.62 520.38L92.19 520.38L92.75 520.39L93.32 520.39L93.89 520.39L94.46 520.4L95.02 520.4L95.59 520.41L96.16 520.41L96.72 520.42L97.29 520.42L97.86 520.43L98.42 520.43L98.99 520.44L99.56 520.45L100.12 520.45L100.69 520.46L101.26 520.47L101.83 520.47L102.39 520.48L102.96 520.49L103.53 520.5L104.09 520.51L104.66 520.52L105.23 520.53L105.8 520.54L106.36 520.55L106.93 520.56L107.5 520.57L108.06 520.59L108.63 520.6L109.2 520.61L109.76 520.63L110.33 520.64L110.9 520.66L111.47 520.67L112.03 520.69L112.6 520.71L113.17 520.73L113.73 520.75L114.3 520.77L114.87 520.79L115.43 520.81L116 520.83L116.57 520.86L117.14 520.88L117.7 520.91L118.27 520.94L118.84 520.97L119.4 521L119.97 521.03L120.54 521.06L121.1 521.1L121.67 521.13L122.24 521.17L122.81 521.21L123.37 521.25L123.94 521.29L124.51 521.34L125.07 521.39L125.64 521.44L126.21 521.49L126.77 521.54L127.34 521.6L127.91 521.66L128.48 521.72L129.04 521.78L129.61 521.85L130.18 521.92L130.74 521.99L131.31 522.07L131.88 522.15L132.44 522.23L133.01 522.31L133.58 522.4L134.15 522.5L134.71 522.6L135.28 522.7L135.85 522.81L136.41 522.92L136.98 523.03L137.55 523.16L138.11 523.28L138.68 523.41L139.25 523.55L139.81 523.7L140.38 523.85L140.95 524L141.52 524.16L142.08 524.33L142.65 524.51L143.22 524.69L143.78 524.88L144.35 525.08L144.92 525.29L145.49 525.5L146.05 525.73L146.62 525.96L147.19 526.2L147.75 526.46L148.32 526.72L148.89 526.99L149.45 527.27L150.02 527.57L150.59 527.87L151.16 528.19L151.72 528.51L152.29 528.85L152.86 529.21L153.42 529.57L153.99 529.95L154.56 530.34L155.12 530.75L155.69 531.17L156.26 531.6L156.83 532.05L157.39 532.52L157.96 532.99L158.53 533.49L159.09 534L159.66 534.53L160.23 535.07L160.79 535.63L161.36 536.2L161.93 536.8L162.5 537.4L163.06 538.03L163.63 538.67L164.2 539.33L164.76 540.01L165.33 540.7L165.9 541.41L166.46 542.14L167.03 542.88L167.6 543.64L168.16 544.42L168.73 545.21L169.3 546.01L169.87 546.84L170.43 547.67L171 548.52L171.57 549.39L172.13 550.26L172.7 551.15L173.27 552.05L173.84 552.97L174.4 553.89L174.97 554.82L175.54 555.76L176.1 556.71L176.67 557.67L177.24 558.63L177.8 559.6L178.37 560.57L178.94 561.55L179.5 562.52L180.07 563.5L180.64 564.48L181.21 565.46L181.77 566.44L182.34 567.41L182.91 568.39L183.47 569.35L184.04 570.32L184.61 571.27L185.18 572.22L185.74 573.16L186.31 574.09L186.88 575.01L187.44 575.93L188.01 576.83L188.58 577.71L189.14 578.59L189.71 579.45L190.28 580.3L190.84 581.14L191.41 581.96L191.98 582.77L192.55 583.56L193.11 584.33L193.68 585.09L194.25 585.83L194.81 586.56L195.38 587.27L195.95 587.96L196.52 588.63L197.08 589.29L197.65 589.93L198.22 590.56L198.78 591.17L199.35 591.76L199.92 592.33L200.48 592.89L201.05 593.43L201.62 593.96L202.19 594.47L202.75 594.96L203.32 595.44L203.89 595.9L204.45 596.35L205.02 596.78L205.59 597.2L206.15 597.61L206.72 598L207.29 598.38L207.86 598.74L208.42 599.09L208.99 599.43L209.56 599.76L210.12 600.07L210.69 600.38L211.26 600.67L211.82 600.95L212.39 601.22L212.96 601.48L213.53 601.74L214.09 601.98L214.66 602.21L215.23 602.43L215.79 602.65L216.36 602.86L216.93 603.05L217.49 603.24L218.06 603.43L218.63 603.6L219.2 603.77L219.76 603.93L220.33 604.09L220.9 604.24L221.46 604.38L222.03 604.52L222.6 604.65L223.16 604.78L223.73 604.9L224.3 605.01L224.87 605.13L225.43 605.23L226 605.33L226.57 605.43L227.13 605.53L227.7 605.62" fill="none" stroke="#111" stroke-width="1.1"/>
<path d="M57.6 517.71L58.22 517.71L58.83 517.71L59.45 517.71L60.06 517.71L60.68 517.71L61.29 517.71L61.91 517.71L62.52 517.71L63.14 517.71L63.76 517.71L64.37 517.71L64.99 517.72L65.6 517.72L66.22 517.72L66.83 517.72L67.45 517.72L68.07 517.72L68.68 517.72L69.3 517.72L69.91 517.72L70.53 517.72L71.14 517.72L71.76 517.72L72.37 517.72L72.99 517.72L73.61 517.73L74.22 517.73L74.84 517.73L75.45 517.73L76.07 517.73L76.68 517.73L77.3 517.73L77.91 517.73L78.53 517.73L79.15 517.73L79.76 517.74L80.38 517.74L80.99 517.74L81.61 517.74L82.22 517.74L82.84 517.74L83.46 517.74L84.07 517.75L84.69 517.75L85.3 517.75L85.92 517.75L86.53 517.75L87.15 517.76L87.76 517.76L88.38 517.76L89 517.76L89.61 517.76L90.23 517.77L90.84 517.77L91.46 517.77L92.07 517.77L92.69 517.78L93.3 517.78L93.92 517.78L94.54 517.79L95.15 517.79L95.77 517.79L96.38 517.8L97 517.8L97.61 517.8L98.23 517.81L98.85 517.81L99.46 517.82L100.08 517.82L100.69 517.82L101.31 517.83L101.92 517.83L102.54 517.84L103.15 517.84L103.77 517.85L104.39 517.85L105 517.86L105.62 517.87L106.23 517.87L106.85 517.88L107.46 517.88L108.08 517.89L108.69 517.9L109.31 517.91L109.93 517.91L110.54 517.92L111.16 517.93L111.77 517.94L112.39 517.95L113 517.96L113.62 517.97L114.24 517.98L114.85 517.99L115.47 518L116.08 518.01L116.7 518.02L117.31 518.03L117.93 518.04L118.54 518.05L119.16 518.07L119.78 518.08L120.39 518.1L121.01 518.11L121.62 518.13L122.24 518.14L122.85 518.16L123.47 518.17L124.08 518.19L124.7 518.21L125.32 518.23L125.93 518.25L126.55 518.27L127.16 518.29L127.78 518.31L128.39 518.33L129.01 518.36L129.63 518.38L130.24 518.4L130.86 518.43L131.47 518.46L132.09 518.49L132.7 518.51L133.32 518.54L133.93 518.57L134.55 518.61L135.17 518.64L135.78 518.67L136.4 518.71L137.01 518.75L137.63 518.78L138.24 518.82L138.86 518.87L139.47 518.91L140.09 518.95L140.71 519L141.32 519.04L141.94 519.09L142.55 519.14L143.17 519.2L143.78 519.25L144.4 519.31L145.02 519.37L145.63 519.43L146.25 519.49L146.86 519.55L147.48 519.62L148.09 519.69L148.71 519.76L149.32 519.83L149.94 519.91L150.56 519.99L151.17 520.07L151.79 520.16L152.4 520.25L153.02 520.34L153.63 520.43L154.25 520.53L154.86 520.63L155.48 520.73L156.1 520.84L156.71 520.95L157.33 521.07L157.94 521.19L158.56 521.31L159.17 521.44L159.79 521.57L160.41 521.7L161.02 521.84L161.64 521.99L162.25 522.14L162.87 522.29L163.48 522.45L164.1 522.62L164.71 522.79L165.33 522.96L165.95 523.14L166.56 523.33L167.18 523.52L167.79 523.72L168.41 523.92L169.02 524.13L169.64 524.35L170.25 524.58L170.87 524.81L171.49 525.04L172.1 525.29L172.72 525.54L173.33 525.8L173.95 526.07L174.56 526.34L175.18 526.63L175.8 526.92L176.41 527.22L177.03 527.52L177.64 527.84L178.26 528.16L178.87 528.49L179.49 528.84L180.1 529.19L180.72 529.54L181.34 529.91L181.95 530.29L182.57 530.68L183.18 531.07L183.8 531.48L184.41 531.89L185.03 532.32L185.64 532.75L186.26 533.2L186.88 533.65L187.49 534.12L188.11 534.59L188.72 535.07L189.34 535.57L189.95 536.07L190.57 536.58L191.19 537.1L191.8 537.63L192.42 538.17L193.03 538.72L193.65 539.28L194.26 539.85L194.88 540.42L195.49 541.01L196.11 541.6L196.73 542.2L197.34 542.81L197.96 543.43L198.57 544.05L199.19 544.68L199.8 545.32L200.42 545.96L201.03 546.61L201.65 547.27L202.27 547.93L202.88 548.59L203.5 549.27L204.11 549.94L204.73 550.62L205.34 551.3L205.96 551.99L206.58 552.68L207.19 553.37L207.81 554.06L208.42 554.75L209.04 555.44L209.65 556.14L210.27 556.83L210.88 557.52L211.5 558.22L212.12 558.91L212.73 559.6L213.35 560.28L213.96 560.96L214.58 561.64L215.19 562.32L215.81 562.99L216.42 563.66L217.04 564.32L217.66 564.98L218.27 565.63L218.89 566.28L219.5 566.92L220.12 567.55L220.73 568.17L221.35 568.79L221.97 569.4L222.58 570.01L223.2 570.6L223.81 571.19L224.43 571.76L225.04 572.33L225.66 572.89L226.27 573.45L226.89 573.99L227.51 574.52L228.12 575.04L228.74 575.56L229.35 576.06L229.97 576.56L230.58 577.04L231.2 577.52L231.81 577.99L232.43 578.44L233.05 578.89L233.66 579.33L234.28 579.75L234.89 580.17L235.51 580.58L236.12 580.98L236.74 581.37L237.36 581.75L237.97 582.12L238.59 582.48L239.2 582.83L239.82 583.17L240.43 583.51L241.05 583.83L241.66 584.15L242.28 584.46" fill="none" stroke="#111" stroke-width="1.1"/>
<line x1="57.6" y1="480.7" x2="57.6" y2="609.5" stroke="#000" stroke-width="1.2"/>
<line x1="57.6" y1="609.2" x2="252.3" y2="609.2" stroke="#000" stroke-width="1.2"/>
<line x1="54.3" y1="480.65" x2="57.6" y2="480.65" stroke="#000" stroke-width="1.1"/>
<text x="51.4" y="484.1" font-size="10" font-weight="bold" text-anchor="end" fill="#222" textLength="12.8" lengthAdjust="spacingAndGlyphs">1.5</text>
<line x1="54.3" y1="523.4" x2="57.6" y2="523.4" stroke="#000" stroke-width="1.1"/>
<text x="51.4" y="526.85" font-size="10" font-weight="bold" text-anchor="end" fill="#222" textLength="12.8" lengthAdjust="spacingAndGlyphs">1.0</text>
<line x1="54.3" y1="566.15" x2="57.6" y2="566.15" stroke="#000" stroke-width="1.1"/>
<text x="51.4" y="569.6" font-size="10" font-weight="bold" text-anchor="end" fill="#222" textLength="12.8" lengthAdjust="spacingAndGlyphs">0.5</text>
<line x1="54.3" y1="608.9" x2="57.6" y2="608.9" stroke="#000" stroke-width="1.1"/>
<text x="51.4" y="612.35" font-size="10" font-weight="bold" text-anchor="end" fill="#222" textLength="12.8" lengthAdjust="spacingAndGlyphs">0.0</text>
<line x1="57.6" y1="609.2" x2="57.6" y2="613.4" stroke="#000" stroke-width="1.1"/>
<text x="57.6" y="623.4" font-size="8.6" font-weight="bold" text-anchor="middle" fill="#222">1</text>
<line x1="106.2" y1="609.2" x2="106.2" y2="613.4" stroke="#000" stroke-width="1.1"/>
<text x="106.2" y="623.4" font-size="8.6" font-weight="bold" text-anchor="middle" fill="#222">10</text>
<line x1="154.8" y1="609.2" x2="154.8" y2="613.4" stroke="#000" stroke-width="1.1"/>
<text x="154.8" y="623.4" font-size="8.6" font-weight="bold" text-anchor="middle" fill="#222">100</text>
<line x1="203.4" y1="609.2" x2="203.4" y2="613.4" stroke="#000" stroke-width="1.1"/>
<text x="203.4" y="623.4" font-size="8.6" font-weight="bold" text-anchor="middle" fill="#222">1000</text>
<line x1="252" y1="609.2" x2="252" y2="613.4" stroke="#000" stroke-width="1.1"/>
<text x="252" y="623.4" font-size="8.6" font-weight="bold" text-anchor="middle" fill="#222">10000</text>
<text x="116.1" y="638.9" font-size="8.7" font-weight="bold" fill="#222" textLength="77.7" lengthAdjust="spacingAndGlyphs">BPM31510 (&#181;M)</text>
<text x="19.6" y="544.8" font-size="10.2" font-weight="bold" text-anchor="middle" fill="#111" textLength="58" lengthAdjust="spacingAndGlyphs" transform="rotate(-90 19.6 544.8)">Cell viability</text>
<text x="31.7" y="544.2" font-size="10.2" font-weight="bold" text-anchor="middle" fill="#111" textLength="119" lengthAdjust="spacingAndGlyphs" transform="rotate(-90 31.7 544.2)">(fold untreated control)</text>
<circle cx="110.5" cy="517.9" r="2.9" fill="#000"/>
<circle cx="125.2" cy="519.3" r="2.9" fill="#000"/>
<circle cx="140.2" cy="522.8" r="2.9" fill="#000"/>
<line x1="154.4" y1="527.9" x2="154.4" y2="534.9" stroke="#000" stroke-width="1"/>
<line x1="151.9" y1="527.9" x2="156.9" y2="527.9" stroke="#000" stroke-width="1"/>
<line x1="151.9" y1="534.9" x2="156.9" y2="534.9" stroke="#000" stroke-width="1"/>
<circle cx="154.4" cy="531.4" r="2.9" fill="#000"/>
<line x1="169.4" y1="542.5" x2="169.4" y2="551.5" stroke="#000" stroke-width="1"/>
<line x1="166.9" y1="542.5" x2="171.9" y2="542.5" stroke="#000" stroke-width="1"/>
<line x1="166.9" y1="551.5" x2="171.9" y2="551.5" stroke="#000" stroke-width="1"/>
<circle cx="169.4" cy="547" r="2.9" fill="#000"/>
<line x1="184.1" y1="563.3" x2="184.1" y2="574.3" stroke="#000" stroke-width="1"/>
<line x1="181.6" y1="563.3" x2="186.6" y2="563.3" stroke="#000" stroke-width="1"/>
<line x1="181.6" y1="574.3" x2="186.6" y2="574.3" stroke="#000" stroke-width="1"/>
<circle cx="184.1" cy="568.8" r="2.9" fill="#000"/>
<line x1="198.8" y1="589.6" x2="198.8" y2="595.6" stroke="#000" stroke-width="1"/>
<line x1="196.3" y1="589.6" x2="201.3" y2="589.6" stroke="#000" stroke-width="1"/>
<line x1="196.3" y1="595.6" x2="201.3" y2="595.6" stroke="#000" stroke-width="1"/>
<circle cx="198.8" cy="592.6" r="2.9" fill="#000"/>
<circle cx="213.3" cy="601" r="2.9" fill="#000"/>
<circle cx="227.8" cy="605.7" r="2.9" fill="#000"/>
<rect x="107.4" y="512.4" width="6.2" height="6.2" fill="#000"/>
<rect x="122.1" y="512.6" width="6.2" height="6.2" fill="#000"/>
<rect x="137.1" y="514.3" width="6.2" height="6.2" fill="#000"/>
<rect x="151.3" y="516.6" width="6.2" height="6.2" fill="#000"/>
<rect x="166.3" y="520.1" width="6.2" height="6.2" fill="#000"/>
<rect x="181" y="528.8" width="6.2" height="6.2" fill="#000"/>
<rect x="195.7" y="543" width="6.2" height="6.2" fill="#000"/>
<rect x="210.2" y="557.5" width="6.2" height="6.2" fill="#000"/>
<rect x="224.7" y="568.7" width="6.2" height="6.2" fill="#000"/>
<rect x="239.4" y="583.2" width="6.2" height="6.2" fill="#000"/>
<rect x="107.4" y="515.2" width="6.2" height="6.2" fill="#000"/>
<rect x="122.1" y="515.1" width="6.2" height="6.2" fill="#000"/>
<rect x="195.7" y="540.7" width="6.2" height="6.2" fill="#000"/>
<rect x="54.5" y="520.5" width="6.2" height="6.2" fill="#000"/>
<line x1="62" y1="481.4" x2="76.2" y2="481.4" stroke="#000" stroke-width="1.1"/>
<circle cx="69.2" cy="481.4" r="2.9" fill="#000"/>
<line x1="62" y1="496.7" x2="76.2" y2="496.7" stroke="#000" stroke-width="1.1"/>
<rect x="66.2" y="493.7" width="6" height="6" fill="#000"/>
<text x="83.5" y="484.6" font-size="10" fill="#222" textLength="57.9" lengthAdjust="spacingAndGlyphs">MIA PaCa-2</text>
<text x="83.5" y="499.9" font-size="10" fill="#222" textLength="33.5" lengthAdjust="spacingAndGlyphs">PANC1</text>
<text x="382" y="506.5" font-size="11" font-weight="bold" fill="#111" textLength="17.5" lengthAdjust="spacingAndGlyphs">Un-</text>
<text x="419.3" y="506.5" font-size="11" font-weight="bold" fill="#111" textLength="23.7" lengthAdjust="spacingAndGlyphs">BPM</text>
<text x="371.4" y="521.7" font-size="11" font-weight="bold" fill="#111" textLength="40" lengthAdjust="spacingAndGlyphs">treated</text>
<text x="419.3" y="521.7" font-size="11" font-weight="bold" fill="#111" textLength="34.1" lengthAdjust="spacingAndGlyphs">31510</text>
<text x="291.3" y="562.6" font-size="13" font-weight="bold" fill="#111" textLength="69.1" lengthAdjust="spacingAndGlyphs">MIA PaCa-2</text>
<text x="317.6" y="613.3" font-size="13" font-weight="bold" fill="#111" textLength="40.2" lengthAdjust="spacingAndGlyphs">PANC1</text>
<defs>
<radialGradient id="wb1" cx="50%" cy="50%" r="50%"><stop offset="0" stop-color="#b0a8e0"/><stop offset="0.75" stop-color="#ada4dc"/><stop offset="0.86" stop-color="#d6d2ea"/><stop offset="1" stop-color="#c9c5dd"/></radialGradient>
<radialGradient id="wb2" cx="50%" cy="50%" r="50%"><stop offset="0" stop-color="#d9d5ee"/><stop offset="0.8" stop-color="#d6d2ec"/><stop offset="0.88" stop-color="#e2e0ee"/><stop offset="1" stop-color="#c8c5dc"/></radialGradient>
<radialGradient id="wb3" cx="50%" cy="50%" r="50%"><stop offset="0" stop-color="#d4cfea"/><stop offset="0.7" stop-color="#c9c3e6"/><stop offset="0.86" stop-color="#bdb5e0"/><stop offset="1" stop-color="#d0cde0"/></radialGradient>
<radialGradient id="wb4" cx="50%" cy="45%" r="50%"><stop offset="0" stop-color="#e8e7ef"/><stop offset="0.6" stop-color="#e4e2ec"/><stop offset="0.85" stop-color="#dad8e6"/><stop offset="0.95" stop-color="#c6c4d8"/><stop offset="1" stop-color="#d4d2e0"/></radialGradient>
</defs>
<rect x="362.3" y="529.4" width="96.7" height="48.8" fill="#e4e2de" stroke="#000" stroke-width="2"/>
<circle cx="389" cy="555.3" r="21.6" fill="url(#wb1)" stroke="#bcb8d0" stroke-width="0.8"/>
<path d="M389.09 568.17a0.88 0.88 0 1 0 1.77 0a0.88 0.88 0 1 0 -1.77 0M377.4 546.89a0.61 0.61 0 1 0 1.22 0a0.61 0.61 0 1 0 -1.22 0M404.18 556.62a0.78 0.78 0 1 0 1.57 0a0.78 0.78 0 1 0 -1.57 0M389.74 572.68a0.97 0.97 0 1 0 1.95 0a0.97 0.97 0 1 0 -1.95 0M394.12 544.96a1.13 1.13 0 1 0 2.25 0a1.13 1.13 0 1 0 -2.25 0M395.82 566.61a1.33 1.33 0 1 0 2.66 0a1.33 1.33 0 1 0 -2.66 0M372.94 553.11a1.15 1.15 0 1 0 2.31 0a1.15 1.15 0 1 0 -2.31 0M401.94 561.27a1.08 1.08 0 1 0 2.16 0a1.08 1.08 0 1 0 -2.16 0M386.7 558.22a1.33 1.33 0 1 0 2.66 0a1.33 1.33 0 1 0 -2.66 0M373.04 557.83a1.34 1.34 0 1 0 2.68 0a1.34 1.34 0 1 0 -2.68 0M384.34 538.93a0.91 0.91 0 1 0 1.81 0a0.91 0.91 0 1 0 -1.81 0M391.28 544.22a1.39 1.39 0 1 0 2.78 0a1.39 1.39 0 1 0 -2.78 0M392.28 551.53a0.67 0.67 0 1 0 1.34 0a0.67 0.67 0 1 0 -1.34 0M391.6 572.13a0.94 0.94 0 1 0 1.89 0a0.94 0.94 0 1 0 -1.89 0M381.27 548.44a1.01 1.01 0 1 0 2.01 0a1.01 1.01 0 1 0 -2.01 0M380.11 562.11a1.08 1.08 0 1 0 2.15 0a1.08 1.08 0 1 0 -2.15 0M373.47 546.9a1.16 1.16 0 1 0 2.33 0a1.16 1.16 0 1 0 -2.33 0M402.17 548.31a1.44 1.44 0 1 0 2.88 0a1.44 1.44 0 1 0 -2.88 0M384.32 549.08a1.32 1.32 0 1 0 2.65 0a1.32 1.32 0 1 0 -2.65 0M404.17 551.63a1.06 1.06 0 1 0 2.12 0a1.06 1.06 0 1 0 -2.12 0M385.89 547.47a1.3 1.3 0 1 0 2.6 0a1.3 1.3 0 1 0 -2.6 0M380.03 551.14a0.61 0.61 0 1 0 1.21 0a0.61 0.61 0 1 0 -1.21 0M398.95 541.47a0.63 0.63 0 1 0 1.26 0a0.63 0.63 0 1 0 -1.26 0M391.82 544.65a0.69 0.69 0 1 0 1.37 0a0.69 0.69 0 1 0 -1.37 0M383.49 570.06a1.34 1.34 0 1 0 2.67 0a1.34 1.34 0 1 0 -2.67 0M401.6 559.06a0.59 0.59 0 1 0 1.18 0a0.59 0.59 0 1 0 -1.18 0M385.67 545.43a1.34 1.34 0 1 0 2.69 0a1.34 1.34 0 1 0 -2.69 0M399.9 553.79a1.45 1.45 0 1 0 2.9 0a1.45 1.45 0 1 0 -2.9 0M386.13 559.82a1.09 1.09 0 1 0 2.18 0a1.09 1.09 0 1 0 -2.18 0M395.71 556.82a0.92 0.92 0 1 0 1.83 0a0.92 0.92 0 1 0 -1.83 0M383.1 550.88a0.59 0.59 0 1 0 1.18 0a0.59 0.59 0 1 0 -1.18 0M394.2 548.06a1.41 1.41 0 1 0 2.83 0a1.41 1.41 0 1 0 -2.83 0M396.6 548.8a0.96 0.96 0 1 0 1.93 0a0.96 0.96 0 1 0 -1.93 0M373.98 553.53a1.09 1.09 0 1 0 2.17 0a1.09 1.09 0 1 0 -2.17 0M374.77 550.29a1.4 1.4 0 1 0 2.79 0a1.4 1.4 0 1 0 -2.79 0M376.32 554.79a1.2 1.2 0 1 0 2.4 0a1.2 1.2 0 1 0 -2.4 0M388.32 564.87a1.43 1.43 0 1 0 2.86 0a1.43 1.43 0 1 0 -2.86 0M375.59 553.58a0.56 0.56 0 1 0 1.12 0a0.56 0.56 0 1 0 -1.12 0M376.95 562.07a0.57 0.57 0 1 0 1.14 0a0.57 0.57 0 1 0 -1.14 0M378 546.05a0.6 0.6 0 1 0 1.21 0a0.6 0.6 0 1 0 -1.21 0M379.51 546.73a1.16 1.16 0 1 0 2.32 0a1.16 1.16 0 1 0 -2.32 0M378.95 567.06a1.21 1.21 0 1 0 2.43 0a1.21 1.21 0 1 0 -2.43 0M392.11 555.9a1.16 1.16 0 1 0 2.32 0a1.16 1.16 0 1 0 -2.32 0M396.58 553.3a0.96 0.96 0 1 0 1.92 0a0.96 0.96 0 1 0 -1.92 0M379.85 549.86a0.88 0.88 0 1 0 1.76 0a0.88 0.88 0 1 0 -1.76 0M383.83 565.12a1.09 1.09 0 1 0 2.17 0a1.09 1.09 0 1 0 -2.17 0M384.41 565.51a1.25 1.25 0 1 0 2.49 0a1.25 1.25 0 1 0 -2.49 0M400.8 557.52a1.21 1.21 0 1 0 2.42 0a1.21 1.21 0 1 0 -2.42 0M384.69 562.98a1.27 1.27 0 1 0 2.55 0a1.27 1.27 0 1 0 -2.55 0M388.6 562.86a0.94 0.94 0 1 0 1.88 0a0.94 0.94 0 1 0 -1.88 0M386.37 550.01a0.84 0.84 0 1 0 1.68 0a0.84 0.84 0 1 0 -1.68 0M380.03 569.12a0.94 0.94 0 1 0 1.89 0a0.94 0.94 0 1 0 -1.89 0M392.58 549.63a0.85 0.85 0 1 0 1.71 0a0.85 0.85 0 1 0 -1.71 0M378.39 541.97a0.96 0.96 0 1 0 1.91 0a0.96 0.96 0 1 0 -1.91 0M388.92 561.31a1.03 1.03 0 1 0 2.05 0a1.03 1.03 0 1 0 -2.05 0M393.41 569.94a1.3 1.3 0 1 0 2.61 0a1.3 1.3 0 1 0 -2.61 0M391.47 563.74a1.28 1.28 0 1 0 2.55 0a1.28 1.28 0 1 0 -2.55 0M378.27 543.07a0.86 0.86 0 1 0 1.72 0a0.86 0.86 0 1 0 -1.72 0M394.22 562.18a1.26 1.26 0 1 0 2.53 0a1.26 1.26 0 1 0 -2.53 0M386.71 565.51a0.93 0.93 0 1 0 1.85 0a0.93 0.93 0 1 0 -1.85 0M377.82 560.71a1.38 1.38 0 1 0 2.76 0a1.38 1.38 0 1 0 -2.76 0M388.27 556.29a1.4 1.4 0 1 0 2.8 0a1.4 1.4 0 1 0 -2.8 0M400.73 543.4a0.94 0.94 0 1 0 1.88 0a0.94 0.94 0 1 0 -1.88 0M404.28 550.11a0.75 0.75 0 1 0 1.5 0a0.75 0.75 0 1 0 -1.5 0M387.4 539.3a1.15 1.15 0 1 0 2.29 0a1.15 1.15 0 1 0 -2.29 0M378.8 554.18a0.86 0.86 0 1 0 1.71 0a0.86 0.86 0 1 0 -1.71 0M388.56 559.82a1.08 1.08 0 1 0 2.16 0a1.08 1.08 0 1 0 -2.16 0M384.78 570.63a0.59 0.59 0 1 0 1.18 0a0.59 0.59 0 1 0 -1.18 0M399.6 547a1.38 1.38 0 1 0 2.76 0a1.38 1.38 0 1 0 -2.76 0M401.15 545.26a1.07 1.07 0 1 0 2.14 0a1.07 1.07 0 1 0 -2.14 0M403.35 556.55a0.7 0.7 0 1 0 1.41 0a0.7 0.7 0 1 0 -1.41 0M383.58 568.85a1.02 1.02 0 1 0 2.04 0a1.02 1.02 0 1 0 -2.04 0M373.37 564.05a1.1 1.1 0 1 0 2.2 0a1.1 1.1 0 1 0 -2.2 0M382.9 562.68a1.33 1.33 0 1 0 2.65 0a1.33 1.33 0 1 0 -2.65 0M372.81 557.51a0.87 0.87 0 1 0 1.73 0a0.87 0.87 0 1 0 -1.73 0M391.87 567.4a1.29 1.29 0 1 0 2.57 0a1.29 1.29 0 1 0 -2.57 0M395.01 569.01a1.38 1.38 0 1 0 2.76 0a1.38 1.38 0 1 0 -2.76 0M393.92 540.39a0.56 0.56 0 1 0 1.11 0a0.56 0.56 0 1 0 -1.11 0M377.18 543.55a0.59 0.59 0 1 0 1.19 0a0.59 0.59 0 1 0 -1.19 0M386.76 564.29a1.02 1.02 0 1 0 2.05 0a1.02 1.02 0 1 0 -2.05 0M377.1 560.9a1.25 1.25 0 1 0 2.5 0a1.25 1.25 0 1 0 -2.5 0M392.43 555.35a0.66 0.66 0 1 0 1.33 0a0.66 0.66 0 1 0 -1.33 0M390.82 558.53a1.43 1.43 0 1 0 2.85 0a1.43 1.43 0 1 0 -2.85 0M391.13 551.23a1 1 0 1 0 2 0a1 1 0 1 0 -2 0M384.19 564.29a0.87 0.87 0 1 0 1.73 0a0.87 0.87 0 1 0 -1.73 0M380.04 544.61a0.87 0.87 0 1 0 1.75 0a0.87 0.87 0 1 0 -1.75 0M391.97 564.65a0.66 0.66 0 1 0 1.32 0a0.66 0.66 0 1 0 -1.32 0M374.19 550.24a0.89 0.89 0 1 0 1.78 0a0.89 0.89 0 1 0 -1.78 0M394.6 558.86a0.89 0.89 0 1 0 1.77 0a0.89 0.89 0 1 0 -1.77 0M375.84 545.85a0.89 0.89 0 1 0 1.78 0a0.89 0.89 0 1 0 -1.78 0M392.43 542.2a0.94 0.94 0 1 0 1.88 0a0.94 0.94 0 1 0 -1.88 0M379.24 564.16a1.18 1.18 0 1 0 2.37 0a1.18 1.18 0 1 0 -2.37 0M375.24 562.28a0.96 0.96 0 1 0 1.93 0a0.96 0.96 0 1 0 -1.93 0M388.22 568.1a1.18 1.18 0 1 0 2.35 0a1.18 1.18 0 1 0 -2.35 0M398.34 560.26a0.93 0.93 0 1 0 1.87 0a0.93 0.93 0 1 0 -1.87 0M400.43 543.68a0.89 0.89 0 1 0 1.77 0a0.89 0.89 0 1 0 -1.77 0M400.68 545.98a0.79 0.79 0 1 0 1.57 0a0.79 0.79 0 1 0 -1.57 0M381.73 556.67a1.28 1.28 0 1 0 2.56 0a1.28 1.28 0 1 0 -2.56 0M379.1 541.26a1.26 1.26 0 1 0 2.53 0a1.26 1.26 0 1 0 -2.53 0M380.52 542.28a1.06 1.06 0 1 0 2.11 0a1.06 1.06 0 1 0 -2.11 0M399.14 563.4a0.55 0.55 0 1 0 1.11 0a0.55 0.55 0 1 0 -1.11 0M397.96 567.38a0.59 0.59 0 1 0 1.18 0a0.59 0.59 0 1 0 -1.18 0M392.28 558.31a1.34 1.34 0 1 0 2.68 0a1.34 1.34 0 1 0 -2.68 0M388.85 557.72a1.31 1.31 0 1 0 2.61 0a1.31 1.31 0 1 0 -2.61 0M399.47 566.4a1.16 1.16 0 1 0 2.31 0a1.16 1.16 0 1 0 -2.31 0M396.73 540.66a1.07 1.07 0 1 0 2.14 0a1.07 1.07 0 1 0 -2.14 0M388.76 552.12a1.24 1.24 0 1 0 2.48 0a1.24 1.24 0 1 0 -2.48 0M373.59 554.25a0.65 0.65 0 1 0 1.29 0a0.65 0.65 0 1 0 -1.29 0M388.28 538.38a0.61 0.61 0 1 0 1.21 0a0.61 0.61 0 1 0 -1.21 0M381.79 567.04a1.3 1.3 0 1 0 2.59 0a1.3 1.3 0 1 0 -2.59 0M388.59 562.71a0.77 0.77 0 1 0 1.55 0a0.77 0.77 0 1 0 -1.55 0M376.76 545.18a0.9 0.9 0 1 0 1.81 0a0.9 0.9 0 1 0 -1.81 0M380.72 563.45a0.87 0.87 0 1 0 1.73 0a0.87 0.87 0 1 0 -1.73 0M383.6 557.78a1 1 0 1 0 2 0a1 1 0 1 0 -2 0M398.86 553.41a1.22 1.22 0 1 0 2.45 0a1.22 1.22 0 1 0 -2.45 0M395.52 567.61a1.23 1.23 0 1 0 2.46 0a1.23 1.23 0 1 0 -2.46 0M382.22 544.13a0.99 0.99 0 1 0 1.97 0a0.99 0.99 0 1 0 -1.97 0M377.99 542.33a0.68 0.68 0 1 0 1.37 0a0.68 0.68 0 1 0 -1.37 0M400.1 563.88a1.37 1.37 0 1 0 2.75 0a1.37 1.37 0 1 0 -2.75 0M376.22 554.04a1.2 1.2 0 1 0 2.39 0a1.2 1.2 0 1 0 -2.39 0M391.81 563.63a0.73 0.73 0 1 0 1.46 0a0.73 0.73 0 1 0 -1.46 0M379.81 550.27a0.76 0.76 0 1 0 1.52 0a0.76 0.76 0 1 0 -1.52 0M382.01 539.37a0.82 0.82 0 1 0 1.63 0a0.82 0.82 0 1 0 -1.63 0M384.57 544.49a1.32 1.32 0 1 0 2.64 0a1.32 1.32 0 1 0 -2.64 0M380.46 550.71a0.75 0.75 0 1 0 1.49 0a0.75 0.75 0 1 0 -1.49 0M400.1 557.05a0.89 0.89 0 1 0 1.79 0a0.89 0.89 0 1 0 -1.79 0M393.09 564.58a0.84 0.84 0 1 0 1.68 0a0.84 0.84 0 1 0 -1.68 0M388.56 548.74a1.44 1.44 0 1 0 2.88 0a1.44 1.44 0 1 0 -2.88 0M374.6 557.03a0.97 0.97 0 1 0 1.94 0a0.97 0.97 0 1 0 -1.94 0M395.99 541.63a1.05 1.05 0 1 0 2.1 0a1.05 1.05 0 1 0 -2.1 0M372.92 557.04a1.32 1.32 0 1 0 2.64 0a1.32 1.32 0 1 0 -2.64 0M375.45 564.09a1.41 1.41 0 1 0 2.83 0a1.41 1.41 0 1 0 -2.83 0M380.03 557.01a0.76 0.76 0 1 0 1.52 0a0.76 0.76 0 1 0 -1.52 0M384.69 541.21a1.41 1.41 0 1 0 2.83 0a1.41 1.41 0 1 0 -2.83 0M393.51 548.46a0.72 0.72 0 1 0 1.44 0a0.72 0.72 0 1 0 -1.44 0M387.41 562.86a1.18 1.18 0 1 0 2.37 0a1.18 1.18 0 1 0 -2.37 0M398.69 542.42a0.78 0.78 0 1 0 1.56 0a0.78 0.78 0 1 0 -1.56 0M394.55 547.96a0.93 0.93 0 1 0 1.86 0a0.93 0.93 0 1 0 -1.86 0M387.69 550.21a0.63 0.63 0 1 0 1.27 0a0.63 0.63 0 1 0 -1.27 0M392.89 547.13a0.87 0.87 0 1 0 1.74 0a0.87 0.87 0 1 0 -1.74 0M375.85 548.35a0.56 0.56 0 1 0 1.11 0a0.56 0.56 0 1 0 -1.11 0M382.14 565.26a0.99 0.99 0 1 0 1.97 0a0.99 0.99 0 1 0 -1.97 0M390.91 568.27a1.41 1.41 0 1 0 2.82 0a1.41 1.41 0 1 0 -2.82 0M378.35 563.47a0.66 0.66 0 1 0 1.31 0a0.66 0.66 0 1 0 -1.31 0M386.14 569.4a0.65 0.65 0 1 0 1.3 0a0.65 0.65 0 1 0 -1.3 0M401.03 544.44a0.64 0.64 0 1 0 1.27 0a0.64 0.64 0 1 0 -1.27 0M397.74 551.44a1.25 1.25 0 1 0 2.49 0a1.25 1.25 0 1 0 -2.49 0M388.28 545.8a1.16 1.16 0 1 0 2.32 0a1.16 1.16 0 1 0 -2.32 0M379.3 542.36a0.79 0.79 0 1 0 1.58 0a0.79 0.79 0 1 0 -1.58 0M388.3 538.15a1.16 1.16 0 1 0 2.31 0a1.16 1.16 0 1 0 -2.31 0M382.27 553.97a0.99 0.99 0 1 0 1.99 0a0.99 0.99 0 1 0 -1.99 0M378.96 567.18a1.16 1.16 0 1 0 2.32 0a1.16 1.16 0 1 0 -2.32 0M381.04 552.28a1.13 1.13 0 1 0 2.26 0a1.13 1.13 0 1 0 -2.26 0M382.61 549.87a1.35 1.35 0 1 0 2.7 0a1.35 1.35 0 1 0 -2.7 0M384.17 550.21a1.39 1.39 0 1 0 2.78 0a1.39 1.39 0 1 0 -2.78 0M394.16 563.12a1.2 1.2 0 1 0 2.4 0a1.2 1.2 0 1 0 -2.4 0M377.2 547.81a1.13 1.13 0 1 0 2.27 0a1.13 1.13 0 1 0 -2.27 0M378.85 557.87a0.71 0.71 0 1 0 1.42 0a0.71 0.71 0 1 0 -1.42 0M401.22 561.49a1.23 1.23 0 1 0 2.46 0a1.23 1.23 0 1 0 -2.46 0M373.63 551.27a0.87 0.87 0 1 0 1.75 0a0.87 0.87 0 1 0 -1.75 0M386.59 566.08a1.34 1.34 0 1 0 2.67 0a1.34 1.34 0 1 0 -2.67 0M400.23 558.55a0.77 0.77 0 1 0 1.54 0a0.77 0.77 0 1 0 -1.54 0M389.38 544.96a0.85 0.85 0 1 0 1.7 0a0.85 0.85 0 1 0 -1.7 0M377.18 562.65a1.24 1.24 0 1 0 2.49 0a1.24 1.24 0 1 0 -2.49 0M378.65 568.16a0.65 0.65 0 1 0 1.3 0a0.65 0.65 0 1 0 -1.3 0M387.64 560.78a0.65 0.65 0 1 0 1.3 0a0.65 0.65 0 1 0 -1.3 0M390.99 540.62a0.72 0.72 0 1 0 1.43 0a0.72 0.72 0 1 0 -1.43 0M391.99 565.78a1.22 1.22 0 1 0 2.44 0a1.22 1.22 0 1 0 -2.44 0M394 541.43a1.08 1.08 0 1 0 2.17 0a1.08 1.08 0 1 0 -2.17 0M394.96 564.09a0.72 0.72 0 1 0 1.45 0a0.72 0.72 0 1 0 -1.45 0M375.27 553.02a0.73 0.73 0 1 0 1.46 0a0.73 0.73 0 1 0 -1.46 0M388.41 570.77a0.58 0.58 0 1 0 1.15 0a0.58 0.58 0 1 0 -1.15 0M393.01 539.69a1.4 1.4 0 1 0 2.81 0a1.4 1.4 0 1 0 -2.81 0M378.27 564.02a1.07 1.07 0 1 0 2.15 0a1.07 1.07 0 1 0 -2.15 0M376.28 542.42a1.17 1.17 0 1 0 2.34 0a1.17 1.17 0 1 0 -2.34 0M383.06 570.75a0.99 0.99 0 1 0 1.97 0a0.99 0.99 0 1 0 -1.97 0M376.45 546.43a0.55 0.55 0 1 0 1.1 0a0.55 0.55 0 1 0 -1.1 0M389.83 541.18a0.99 0.99 0 1 0 1.99 0a0.99 0.99 0 1 0 -1.99 0M376.53 553.54a0.72 0.72 0 1 0 1.45 0a0.72 0.72 0 1 0 -1.45 0M384.69 554.68a1 1 0 1 0 2 0a1 1 0 1 0 -2 0M380.85 546.04a1.06 1.06 0 1 0 2.12 0a1.06 1.06 0 1 0 -2.12 0M404.31 551.09a0.67 0.67 0 1 0 1.34 0a0.67 0.67 0 1 0 -1.34 0M392.04 541.97a0.6 0.6 0 1 0 1.19 0a0.6 0.6 0 1 0 -1.19 0M382.99 561.82a0.62 0.62 0 1 0 1.24 0a0.62 0.62 0 1 0 -1.24 0M371.79 551.22a0.84 0.84 0 1 0 1.68 0a0.84 0.84 0 1 0 -1.68 0M398.35 544.7a0.67 0.67 0 1 0 1.34 0a0.67 0.67 0 1 0 -1.34 0M396.15 544.75a1.38 1.38 0 1 0 2.77 0a1.38 1.38 0 1 0 -2.77 0M384.95 540.59a0.86 0.86 0 1 0 1.72 0a0.86 0.86 0 1 0 -1.72 0M393.56 539.47a1.33 1.33 0 1 0 2.65 0a1.33 1.33 0 1 0 -2.65 0M373.97 561.17a0.99 0.99 0 1 0 1.97 0a0.99 0.99 0 1 0 -1.97 0M391.18 557.59a0.62 0.62 0 1 0 1.24 0a0.62 0.62 0 1 0 -1.24 0M390.16 561.98a1 1 0 1 0 1.99 0a1 1 0 1 0 -1.99 0M384.05 543.12a0.93 0.93 0 1 0 1.86 0a0.93 0.93 0 1 0 -1.86 0M382.32 547.51a0.97 0.97 0 1 0 1.94 0a0.97 0.97 0 1 0 -1.94 0M388.78 544.22a0.71 0.71 0 1 0 1.43 0a0.71 0.71 0 1 0 -1.43 0M400.1 546.53a0.88 0.88 0 1 0 1.76 0a0.88 0.88 0 1 0 -1.76 0M379.14 564.53a1.09 1.09 0 1 0 2.17 0a1.09 1.09 0 1 0 -2.17 0M388.41 556.2a0.74 0.74 0 1 0 1.48 0a0.74 0.74 0 1 0 -1.48 0M389.41 548.81a0.96 0.96 0 1 0 1.93 0a0.96 0.96 0 1 0 -1.93 0M390.99 562.84a0.7 0.7 0 1 0 1.41 0a0.7 0.7 0 1 0 -1.41 0M382.52 559.38a0.57 0.57 0 1 0 1.15 0a0.57 0.57 0 1 0 -1.15 0M393.54 559.88a0.99 0.99 0 1 0 1.98 0a0.99 0.99 0 1 0 -1.98 0M390.49 556.26a0.95 0.95 0 1 0 1.91 0a0.95 0.95 0 1 0 -1.91 0M376.12 563.34a0.6 0.6 0 1 0 1.19 0a0.6 0.6 0 1 0 -1.19 0M379.38 561.59a0.57 0.57 0 1 0 1.15 0a0.57 0.57 0 1 0 -1.15 0M396.36 553.54a0.63 0.63 0 1 0 1.27 0a0.63 0.63 0 1 0 -1.27 0M380.88 556.43a1.11 1.11 0 1 0 2.22 0a1.11 1.11 0 1 0 -2.22 0M384.9 560.37a0.6 0.6 0 1 0 1.19 0a0.6 0.6 0 1 0 -1.19 0M386.46 546.21a1.26 1.26 0 1 0 2.52 0a1.26 1.26 0 1 0 -2.52 0M371.67 558.95a0.82 0.82 0 1 0 1.64 0a0.82 0.82 0 1 0 -1.64 0M387.72 564.32a1.28 1.28 0 1 0 2.57 0a1.28 1.28 0 1 0 -2.57 0M381.29 547.85a0.63 0.63 0 1 0 1.27 0a0.63 0.63 0 1 0 -1.27 0M380.82 539.6a1.08 1.08 0 1 0 2.17 0a1.08 1.08 0 1 0 -2.17 0M391.41 555.37a0.63 0.63 0 1 0 1.26 0a0.63 0.63 0 1 0 -1.26 0M390.01 558.24a0.6 0.6 0 1 0 1.2 0a0.6 0.6 0 1 0 -1.2 0M378.88 541.61a0.73 0.73 0 1 0 1.46 0a0.73 0.73 0 1 0 -1.46 0M399.65 553.32a1.27 1.27 0 1 0 2.55 0a1.27 1.27 0 1 0 -2.55 0M403.15 546.88a0.58 0.58 0 1 0 1.16 0a0.58 0.58 0 1 0 -1.16 0M383 568.14a1.4 1.4 0 1 0 2.8 0a1.4 1.4 0 1 0 -2.8 0M395.76 560.27a1.31 1.31 0 1 0 2.63 0a1.31 1.31 0 1 0 -2.63 0M396.36 562.51a0.85 0.85 0 1 0 1.7 0a0.85 0.85 0 1 0 -1.7 0M381.12 540.04a0.71 0.71 0 1 0 1.41 0a0.71 0.71 0 1 0 -1.41 0M386.74 540.34a1.3 1.3 0 1 0 2.6 0a1.3 1.3 0 1 0 -2.6 0M372.24 549.77a0.88 0.88 0 1 0 1.75 0a0.88 0.88 0 1 0 -1.75 0M380.54 559.58a1.25 1.25 0 1 0 2.5 0a1.25 1.25 0 1 0 -2.5 0M379.28 556.4a0.7 0.7 0 1 0 1.41 0a0.7 0.7 0 1 0 -1.41 0M385.31 541.91a1.19 1.19 0 1 0 2.38 0a1.19 1.19 0 1 0 -2.38 0M379.06 563.27a0.69 0.69 0 1 0 1.38 0a0.69 0.69 0 1 0 -1.38 0M387.38 552.73a0.97 0.97 0 1 0 1.94 0a0.97 0.97 0 1 0 -1.94 0M389.13 540.92a0.64 0.64 0 1 0 1.27 0a0.64 0.64 0 1 0 -1.27 0M389.17 571.32a1.13 1.13 0 1 0 2.26 0a1.13 1.13 0 1 0 -2.26 0M399.86 544a0.95 0.95 0 1 0 1.91 0a0.95 0.95 0 1 0 -1.91 0M400.1 546.26a0.85 0.85 0 1 0 1.7 0a0.85 0.85 0 1 0 -1.7 0M384.87 558.72a0.91 0.91 0 1 0 1.82 0a0.91 0.91 0 1 0 -1.82 0M393.39 553.74a1.06 1.06 0 1 0 2.12 0a1.06 1.06 0 1 0 -2.12 0M391.7 558.48a1.13 1.13 0 1 0 2.27 0a1.13 1.13 0 1 0 -2.27 0M388.54 559.16a0.69 0.69 0 1 0 1.37 0a0.69 0.69 0 1 0 -1.37 0M380.2 544.74a0.56 0.56 0 1 0 1.12 0a0.56 0.56 0 1 0 -1.12 0M390.42 572.37a0.75 0.75 0 1 0 1.5 0a0.75 0.75 0 1 0 -1.5 0M377.27 550.97a1.25 1.25 0 1 0 2.51 0a1.25 1.25 0 1 0 -2.51 0" fill="#5141bf" fill-opacity="0.8"/>
<circle cx="434.4" cy="555.3" r="21.6" fill="url(#wb2)" stroke="#bcb8d0" stroke-width="0.8"/>
<path d="M434.16 560.9a0.73 0.73 0 1 0 1.45 0a0.73 0.73 0 1 0 -1.45 0M436.21 559.03a0.73 0.73 0 1 0 1.46 0a0.73 0.73 0 1 0 -1.46 0M447.04 547.58a0.99 0.99 0 1 0 1.97 0a0.99 0.99 0 1 0 -1.97 0M436.01 567.92a0.64 0.64 0 1 0 1.29 0a0.64 0.64 0 1 0 -1.29 0M436.46 560.34a0.6 0.6 0 1 0 1.2 0a0.6 0.6 0 1 0 -1.2 0M447.69 548.29a1.01 1.01 0 1 0 2.03 0a1.01 1.01 0 1 0 -2.03 0M436.13 547.99a0.67 0.67 0 1 0 1.33 0a0.67 0.67 0 1 0 -1.33 0M422.9 544.58a1.05 1.05 0 1 0 2.1 0a1.05 1.05 0 1 0 -2.1 0M437.28 551.77a0.87 0.87 0 1 0 1.75 0a0.87 0.87 0 1 0 -1.75 0M427.95 544.33a0.57 0.57 0 1 0 1.15 0a0.57 0.57 0 1 0 -1.15 0M428.14 556.16a1.1 1.1 0 1 0 2.21 0a1.1 1.1 0 1 0 -2.21 0M442.33 545.61a0.66 0.66 0 1 0 1.32 0a0.66 0.66 0 1 0 -1.32 0M444.46 548.13a1.07 1.07 0 1 0 2.14 0a1.07 1.07 0 1 0 -2.14 0M440.87 545.12a0.74 0.74 0 1 0 1.48 0a0.74 0.74 0 1 0 -1.48 0M424.5 548.61a0.56 0.56 0 1 0 1.13 0a0.56 0.56 0 1 0 -1.13 0M428.57 570.14a0.48 0.48 0 1 0 0.96 0a0.48 0.48 0 1 0 -0.96 0M447.02 559.27a0.65 0.65 0 1 0 1.29 0a0.65 0.65 0 1 0 -1.29 0M421.98 552.71a0.69 0.69 0 1 0 1.38 0a0.69 0.69 0 1 0 -1.38 0M441.4 555.17a0.74 0.74 0 1 0 1.48 0a0.74 0.74 0 1 0 -1.48 0M437.84 568.61a0.64 0.64 0 1 0 1.29 0a0.64 0.64 0 1 0 -1.29 0M424.39 567.2a0.67 0.67 0 1 0 1.35 0a0.67 0.67 0 1 0 -1.35 0M418.35 549.32a0.52 0.52 0 1 0 1.04 0a0.52 0.52 0 1 0 -1.04 0M441.17 558.46a0.99 0.99 0 1 0 1.97 0a0.99 0.99 0 1 0 -1.97 0M427.34 549.64a0.68 0.68 0 1 0 1.36 0a0.68 0.68 0 1 0 -1.36 0M439.13 565.95a0.48 0.48 0 1 0 0.96 0a0.48 0.48 0 1 0 -0.96 0M427.9 539.64a1.12 1.12 0 1 0 2.24 0a1.12 1.12 0 1 0 -2.24 0M432.31 538.23a0.46 0.46 0 1 0 0.93 0a0.46 0.46 0 1 0 -0.93 0M429.23 571.99a0.99 0.99 0 1 0 1.99 0a0.99 0.99 0 1 0 -1.99 0M419.14 564.37a0.88 0.88 0 1 0 1.77 0a0.88 0.88 0 1 0 -1.77 0M437.74 546.67a0.58 0.58 0 1 0 1.17 0a0.58 0.58 0 1 0 -1.17 0M427.61 557.52a0.72 0.72 0 1 0 1.43 0a0.72 0.72 0 1 0 -1.43 0M443.73 552.91a0.46 0.46 0 1 0 0.91 0a0.46 0.46 0 1 0 -0.91 0M440.32 557.3a1 1 0 1 0 2 0a1 1 0 1 0 -2 0M427.75 562.46a0.52 0.52 0 1 0 1.04 0a0.52 0.52 0 1 0 -1.04 0M445.12 554a0.6 0.6 0 1 0 1.19 0a0.6 0.6 0 1 0 -1.19 0M437.66 556.8a0.57 0.57 0 1 0 1.14 0a0.57 0.57 0 1 0 -1.14 0M430.92 549.23a0.48 0.48 0 1 0 0.96 0a0.48 0.48 0 1 0 -0.96 0M424.53 555.81a1.15 1.15 0 1 0 2.3 0a1.15 1.15 0 1 0 -2.3 0M442.56 564.15a0.99 0.99 0 1 0 1.98 0a0.99 0.99 0 1 0 -1.98 0M418.97 564.68a0.78 0.78 0 1 0 1.57 0a0.78 0.78 0 1 0 -1.57 0M434.5 566.5a0.48 0.48 0 1 0 0.95 0a0.48 0.48 0 1 0 -0.95 0M425.65 559.44a1.07 1.07 0 1 0 2.15 0a1.07 1.07 0 1 0 -2.15 0M439.95 544.51a0.47 0.47 0 1 0 0.94 0a0.47 0.47 0 1 0 -0.94 0M433.57 563.91a0.6 0.6 0 1 0 1.19 0a0.6 0.6 0 1 0 -1.19 0M435.75 571.51a0.55 0.55 0 1 0 1.1 0a0.55 0.55 0 1 0 -1.1 0M449.55 560.64a0.85 0.85 0 1 0 1.69 0a0.85 0.85 0 1 0 -1.69 0M444.41 554.64a1.08 1.08 0 1 0 2.16 0a1.08 1.08 0 1 0 -2.16 0M424.6 542.49a0.97 0.97 0 1 0 1.94 0a0.97 0.97 0 1 0 -1.94 0M428.47 555.49a0.6 0.6 0 1 0 1.2 0a0.6 0.6 0 1 0 -1.2 0M444.95 543.47a1.1 1.1 0 1 0 2.19 0a1.1 1.1 0 1 0 -2.19 0M426.05 567.44a1.01 1.01 0 1 0 2.02 0a1.01 1.01 0 1 0 -2.02 0M423.7 542.97a0.82 0.82 0 1 0 1.64 0a0.82 0.82 0 1 0 -1.64 0M425.6 543.33a0.64 0.64 0 1 0 1.28 0a0.64 0.64 0 1 0 -1.28 0M449.04 547.32a0.5 0.5 0 1 0 1 0a0.5 0.5 0 1 0 -1 0M450.36 552.2a0.92 0.92 0 1 0 1.84 0a0.92 0.92 0 1 0 -1.84 0M449.81 559.88a0.54 0.54 0 1 0 1.08 0a0.54 0.54 0 1 0 -1.08 0M447.92 552.49a0.49 0.49 0 1 0 0.98 0a0.49 0.49 0 1 0 -0.98 0M440.48 567.4a0.85 0.85 0 1 0 1.7 0a0.85 0.85 0 1 0 -1.7 0M433.43 538.45a0.6 0.6 0 1 0 1.21 0a0.6 0.6 0 1 0 -1.21 0M450.74 555.65a0.46 0.46 0 1 0 0.92 0a0.46 0.46 0 1 0 -0.92 0M437.63 551.13a1.02 1.02 0 1 0 2.03 0a1.02 1.02 0 1 0 -2.03 0M436.94 539.25a0.84 0.84 0 1 0 1.67 0a0.84 0.84 0 1 0 -1.67 0M439.16 549.87a0.92 0.92 0 1 0 1.84 0a0.92 0.92 0 1 0 -1.84 0M425.39 569.75a0.99 0.99 0 1 0 1.98 0a0.99 0.99 0 1 0 -1.98 0M421.44 557.56a0.47 0.47 0 1 0 0.94 0a0.47 0.47 0 1 0 -0.94 0M446.79 558.18a0.79 0.79 0 1 0 1.58 0a0.79 0.79 0 1 0 -1.58 0M442.86 545.05a0.55 0.55 0 1 0 1.09 0a0.55 0.55 0 1 0 -1.09 0M423.62 566.95a0.82 0.82 0 1 0 1.63 0a0.82 0.82 0 1 0 -1.63 0M449.35 556.36a1.03 1.03 0 1 0 2.06 0a1.03 1.03 0 1 0 -2.06 0M444.78 561.88a0.72 0.72 0 1 0 1.43 0a0.72 0.72 0 1 0 -1.43 0M436.06 545.81a0.61 0.61 0 1 0 1.23 0a0.61 0.61 0 1 0 -1.23 0M416.74 556.74a0.52 0.52 0 1 0 1.03 0a0.52 0.52 0 1 0 -1.03 0M443.71 564.38a1.07 1.07 0 1 0 2.14 0a1.07 1.07 0 1 0 -2.14 0M421.86 554.4a1.05 1.05 0 1 0 2.1 0a1.05 1.05 0 1 0 -2.1 0M434.09 550.84a1.07 1.07 0 1 0 2.13 0a1.07 1.07 0 1 0 -2.13 0M436.58 564.37a1.04 1.04 0 1 0 2.07 0a1.04 1.04 0 1 0 -2.07 0M420.02 562.62a0.57 0.57 0 1 0 1.13 0a0.57 0.57 0 1 0 -1.13 0M439.02 550.08a0.55 0.55 0 1 0 1.11 0a0.55 0.55 0 1 0 -1.11 0M423.39 555.67a0.83 0.83 0 1 0 1.66 0a0.83 0.83 0 1 0 -1.66 0M446.1 546.94a0.45 0.45 0 1 0 0.91 0a0.45 0.45 0 1 0 -0.91 0M428.72 567.26a0.79 0.79 0 1 0 1.58 0a0.79 0.79 0 1 0 -1.58 0M431.28 543.41a0.5 0.5 0 1 0 1.01 0a0.5 0.5 0 1 0 -1.01 0M434.16 571.4a0.7 0.7 0 1 0 1.4 0a0.7 0.7 0 1 0 -1.4 0M435.33 538.02a0.89 0.89 0 1 0 1.78 0a0.89 0.89 0 1 0 -1.78 0M427.66 543.06a0.67 0.67 0 1 0 1.34 0a0.67 0.67 0 1 0 -1.34 0M443.52 549.07a1.09 1.09 0 1 0 2.18 0a1.09 1.09 0 1 0 -2.18 0M427.82 570.61a1 1 0 1 0 2 0a1 1 0 1 0 -2 0M425.03 547.72a0.55 0.55 0 1 0 1.1 0a0.55 0.55 0 1 0 -1.1 0M434.87 544.86a0.91 0.91 0 1 0 1.83 0a0.91 0.91 0 1 0 -1.83 0M437.22 559.04a0.55 0.55 0 1 0 1.1 0a0.55 0.55 0 1 0 -1.1 0M435.99 548.43a1.08 1.08 0 1 0 2.16 0a1.08 1.08 0 1 0 -2.16 0M424.49 564.87a0.7 0.7 0 1 0 1.39 0a0.7 0.7 0 1 0 -1.39 0M429.79 551.62a0.73 0.73 0 1 0 1.46 0a0.73 0.73 0 1 0 -1.46 0M440.32 552.4a0.91 0.91 0 1 0 1.82 0a0.91 0.91 0 1 0 -1.82 0M429.49 563.8a0.47 0.47 0 1 0 0.93 0a0.47 0.47 0 1 0 -0.93 0M450.28 557.45a1.03 1.03 0 1 0 2.06 0a1.03 1.03 0 1 0 -2.06 0M438.25 540.38a1.12 1.12 0 1 0 2.23 0a1.12 1.12 0 1 0 -2.23 0M440.88 566.52a0.8 0.8 0 1 0 1.59 0a0.8 0.8 0 1 0 -1.59 0M418.26 547.71a0.98 0.98 0 1 0 1.96 0a0.98 0.98 0 1 0 -1.96 0M439.36 554.12a0.91 0.91 0 1 0 1.81 0a0.91 0.91 0 1 0 -1.81 0M426.69 541.82a0.88 0.88 0 1 0 1.77 0a0.88 0.88 0 1 0 -1.77 0M438.01 546.9a1.1 1.1 0 1 0 2.2 0a1.1 1.1 0 1 0 -2.2 0M422.07 562.83a1.08 1.08 0 1 0 2.16 0a1.08 1.08 0 1 0 -2.16 0M430.99 545.97a0.61 0.61 0 1 0 1.22 0a0.61 0.61 0 1 0 -1.22 0M426.84 567.58a1.15 1.15 0 1 0 2.3 0a1.15 1.15 0 1 0 -2.3 0M442.59 548.74a0.73 0.73 0 1 0 1.46 0a0.73 0.73 0 1 0 -1.46 0M437.5 546.8a0.74 0.74 0 1 0 1.48 0a0.74 0.74 0 1 0 -1.48 0M441.05 555.92a0.83 0.83 0 1 0 1.66 0a0.83 0.83 0 1 0 -1.66 0M428.91 542.44a0.71 0.71 0 1 0 1.41 0a0.71 0.71 0 1 0 -1.41 0M447.01 551.12a0.56 0.56 0 1 0 1.12 0a0.56 0.56 0 1 0 -1.12 0M448.99 562.43a1.14 1.14 0 1 0 2.28 0a1.14 1.14 0 1 0 -2.28 0M445.65 548.75a0.67 0.67 0 1 0 1.34 0a0.67 0.67 0 1 0 -1.34 0M441.26 560.12a0.61 0.61 0 1 0 1.21 0a0.61 0.61 0 1 0 -1.21 0M448.29 548.1a0.99 0.99 0 1 0 1.99 0a0.99 0.99 0 1 0 -1.99 0M438.82 562.17a0.66 0.66 0 1 0 1.32 0a0.66 0.66 0 1 0 -1.32 0M440.09 553.03a1 1 0 1 0 2.01 0a1 1 0 1 0 -2.01 0M427.82 543.56a1.12 1.12 0 1 0 2.24 0a1.12 1.12 0 1 0 -2.24 0M432.86 567.93a0.56 0.56 0 1 0 1.12 0a0.56 0.56 0 1 0 -1.12 0M436.29 557.08a0.67 0.67 0 1 0 1.34 0a0.67 0.67 0 1 0 -1.34 0M436.38 558.3a1.14 1.14 0 1 0 2.29 0a1.14 1.14 0 1 0 -2.29 0M429.45 571.32a0.94 0.94 0 1 0 1.88 0a0.94 0.94 0 1 0 -1.88 0M431.63 541.23a1.12 1.12 0 1 0 2.23 0a1.12 1.12 0 1 0 -2.23 0M444.28 545.04a0.84 0.84 0 1 0 1.68 0a0.84 0.84 0 1 0 -1.68 0M428.41 541.33a0.84 0.84 0 1 0 1.67 0a0.84 0.84 0 1 0 -1.67 0M426.49 555.19a1.04 1.04 0 1 0 2.08 0a1.04 1.04 0 1 0 -2.08 0M429.3 555.75a0.57 0.57 0 1 0 1.14 0a0.57 0.57 0 1 0 -1.14 0M439.93 549.03a0.72 0.72 0 1 0 1.45 0a0.72 0.72 0 1 0 -1.45 0M427 540.51a0.68 0.68 0 1 0 1.36 0a0.68 0.68 0 1 0 -1.36 0M425.31 562.73a0.47 0.47 0 1 0 0.94 0a0.47 0.47 0 1 0 -0.94 0M435 553.61a1.12 1.12 0 1 0 2.24 0a1.12 1.12 0 1 0 -2.24 0M437.34 560.97a1.04 1.04 0 1 0 2.09 0a1.04 1.04 0 1 0 -2.09 0M437.31 547.75a0.84 0.84 0 1 0 1.67 0a0.84 0.84 0 1 0 -1.67 0M419.14 557.46a0.58 0.58 0 1 0 1.16 0a0.58 0.58 0 1 0 -1.16 0M441.43 539.76a0.94 0.94 0 1 0 1.89 0a0.94 0.94 0 1 0 -1.89 0M448.59 547.25a0.72 0.72 0 1 0 1.43 0a0.72 0.72 0 1 0 -1.43 0M442.73 542.23a0.86 0.86 0 1 0 1.72 0a0.86 0.86 0 1 0 -1.72 0M444.08 563.89a1.09 1.09 0 1 0 2.18 0a1.09 1.09 0 1 0 -2.18 0M428.54 568.54a1.08 1.08 0 1 0 2.16 0a1.08 1.08 0 1 0 -2.16 0M430.78 553.31a0.89 0.89 0 1 0 1.78 0a0.89 0.89 0 1 0 -1.78 0M432.91 571.5a0.91 0.91 0 1 0 1.83 0a0.91 0.91 0 1 0 -1.83 0M427.67 570.8a0.89 0.89 0 1 0 1.78 0a0.89 0.89 0 1 0 -1.78 0M424.83 568.84a1.07 1.07 0 1 0 2.15 0a1.07 1.07 0 1 0 -2.15 0M446.37 545.07a0.91 0.91 0 1 0 1.82 0a0.91 0.91 0 1 0 -1.82 0M429.27 542.39a0.82 0.82 0 1 0 1.64 0a0.82 0.82 0 1 0 -1.64 0M444.26 554.48a0.51 0.51 0 1 0 1.01 0a0.51 0.51 0 1 0 -1.01 0M430.76 543.27a0.83 0.83 0 1 0 1.66 0a0.83 0.83 0 1 0 -1.66 0M426.66 550.25a0.59 0.59 0 1 0 1.18 0a0.59 0.59 0 1 0 -1.18 0M447.26 562.01a1.09 1.09 0 1 0 2.17 0a1.09 1.09 0 1 0 -2.17 0M431.3 549.65a1.13 1.13 0 1 0 2.27 0a1.13 1.13 0 1 0 -2.27 0M439.74 544.23a0.45 0.45 0 1 0 0.9 0a0.45 0.45 0 1 0 -0.9 0M441.2 543.82a0.89 0.89 0 1 0 1.77 0a0.89 0.89 0 1 0 -1.77 0M448.81 557.02a0.47 0.47 0 1 0 0.95 0a0.47 0.47 0 1 0 -0.95 0M427.1 556.21a0.7 0.7 0 1 0 1.4 0a0.7 0.7 0 1 0 -1.4 0M445.05 545.66a1.02 1.02 0 1 0 2.04 0a1.02 1.02 0 1 0 -2.04 0M430.28 565.71a0.87 0.87 0 1 0 1.75 0a0.87 0.87 0 1 0 -1.75 0M444.25 557.69a1.13 1.13 0 1 0 2.26 0a1.13 1.13 0 1 0 -2.26 0M434.15 539.05a0.66 0.66 0 1 0 1.32 0a0.66 0.66 0 1 0 -1.32 0M427.8 540.82a0.94 0.94 0 1 0 1.89 0a0.94 0.94 0 1 0 -1.89 0M427.18 558.1a0.46 0.46 0 1 0 0.93 0a0.46 0.46 0 1 0 -0.93 0M446.57 544.29a0.64 0.64 0 1 0 1.29 0a0.64 0.64 0 1 0 -1.29 0M433.92 544.14a0.89 0.89 0 1 0 1.78 0a0.89 0.89 0 1 0 -1.78 0M438.93 546.99a0.88 0.88 0 1 0 1.77 0a0.88 0.88 0 1 0 -1.77 0M433.46 567.8a0.47 0.47 0 1 0 0.94 0a0.47 0.47 0 1 0 -0.94 0M432.51 564.64a1.09 1.09 0 1 0 2.18 0a1.09 1.09 0 1 0 -2.18 0M444.15 566.56a0.51 0.51 0 1 0 1.02 0a0.51 0.51 0 1 0 -1.02 0M440.99 554.69a0.51 0.51 0 1 0 1.03 0a0.51 0.51 0 1 0 -1.03 0M437.52 571.71a0.92 0.92 0 1 0 1.84 0a0.92 0.92 0 1 0 -1.84 0M443.42 547.45a0.53 0.53 0 1 0 1.06 0a0.53 0.53 0 1 0 -1.06 0M426.9 565.25a1.14 1.14 0 1 0 2.29 0a1.14 1.14 0 1 0 -2.29 0M437.69 562.78a1.04 1.04 0 1 0 2.08 0a1.04 1.04 0 1 0 -2.08 0M446.75 566.63a0.66 0.66 0 1 0 1.32 0a0.66 0.66 0 1 0 -1.32 0M420.34 549.47a1.08 1.08 0 1 0 2.17 0a1.08 1.08 0 1 0 -2.17 0M448.14 562.68a0.58 0.58 0 1 0 1.15 0a0.58 0.58 0 1 0 -1.15 0M432.84 552.47a0.99 0.99 0 1 0 1.97 0a0.99 0.99 0 1 0 -1.97 0M437.26 562.51a0.47 0.47 0 1 0 0.95 0a0.47 0.47 0 1 0 -0.95 0M428.74 564.25a1.14 1.14 0 1 0 2.28 0a1.14 1.14 0 1 0 -2.28 0M424.99 548.73a1.14 1.14 0 1 0 2.29 0a1.14 1.14 0 1 0 -2.29 0M437.11 562.46a1.12 1.12 0 1 0 2.24 0a1.12 1.12 0 1 0 -2.24 0M447.07 550.95a1.14 1.14 0 1 0 2.27 0a1.14 1.14 0 1 0 -2.27 0M449.02 561.18a0.94 0.94 0 1 0 1.89 0a0.94 0.94 0 1 0 -1.89 0M425.97 541.31a0.52 0.52 0 1 0 1.05 0a0.52 0.52 0 1 0 -1.05 0M435.64 561.47a0.79 0.79 0 1 0 1.57 0a0.79 0.79 0 1 0 -1.57 0M421.37 551.62a0.7 0.7 0 1 0 1.41 0a0.7 0.7 0 1 0 -1.41 0M432.79 539.29a0.98 0.98 0 1 0 1.96 0a0.98 0.98 0 1 0 -1.96 0M440.45 556.91a0.6 0.6 0 1 0 1.21 0a0.6 0.6 0 1 0 -1.21 0M434.79 568.52a0.59 0.59 0 1 0 1.17 0a0.59 0.59 0 1 0 -1.17 0M426.42 548.06a0.7 0.7 0 1 0 1.41 0a0.7 0.7 0 1 0 -1.41 0M429.39 538.88a0.58 0.58 0 1 0 1.17 0a0.58 0.58 0 1 0 -1.17 0M423.77 569.44a0.6 0.6 0 1 0 1.2 0a0.6 0.6 0 1 0 -1.2 0M440.91 556.59a1.03 1.03 0 1 0 2.06 0a1.03 1.03 0 1 0 -2.06 0" fill="#5a4cc2" fill-opacity="0.9"/>
<rect x="363" y="585.2" width="96.6" height="48.3" fill="#e4e2de" stroke="#000" stroke-width="2"/>
<circle cx="387.5" cy="609.6" r="21.5" fill="url(#wb3)" stroke="#bcb8d0" stroke-width="0.8"/>
<path d="M375.69 598.78a0.71 0.71 0 1 0 1.42 0a0.71 0.71 0 1 0 -1.42 0M401.22 604.12a0.77 0.77 0 1 0 1.53 0a0.77 0.77 0 1 0 -1.53 0M398.8 611.83a0.77 0.77 0 1 0 1.55 0a0.77 0.77 0 1 0 -1.55 0M376.97 595.84a0.4 0.4 0 1 0 0.8 0a0.4 0.4 0 1 0 -0.8 0M378.14 611.33a0.59 0.59 0 1 0 1.19 0a0.59 0.59 0 1 0 -1.19 0M385.21 608.68a0.45 0.45 0 1 0 0.9 0a0.45 0.45 0 1 0 -0.9 0M383.63 626.54a0.69 0.69 0 1 0 1.39 0a0.69 0.69 0 1 0 -1.39 0M395.73 623.15a0.41 0.41 0 1 0 0.82 0a0.41 0.41 0 1 0 -0.82 0M382.41 605.29a0.35 0.35 0 1 0 0.7 0a0.35 0.35 0 1 0 -0.7 0M392.75 603.64a0.45 0.45 0 1 0 0.89 0a0.45 0.45 0 1 0 -0.89 0M403.73 607.75a0.48 0.48 0 1 0 0.96 0a0.48 0.48 0 1 0 -0.96 0M399.68 606.43a0.66 0.66 0 1 0 1.31 0a0.66 0.66 0 1 0 -1.31 0M391.73 626.36a0.66 0.66 0 1 0 1.32 0a0.66 0.66 0 1 0 -1.32 0M403.66 606.05a0.48 0.48 0 1 0 0.97 0a0.48 0.48 0 1 0 -0.97 0M382.37 615.21a0.42 0.42 0 1 0 0.83 0a0.42 0.42 0 1 0 -0.83 0M395.94 613.53a0.62 0.62 0 1 0 1.24 0a0.62 0.62 0 1 0 -1.24 0M401.82 609.92a0.5 0.5 0 1 0 1 0a0.5 0.5 0 1 0 -1 0M380.94 624.74a0.57 0.57 0 1 0 1.13 0a0.57 0.57 0 1 0 -1.13 0M381.82 621.03a0.67 0.67 0 1 0 1.33 0a0.67 0.67 0 1 0 -1.33 0M403.79 615.83a0.36 0.36 0 1 0 0.72 0a0.36 0.36 0 1 0 -0.72 0M387.12 593.05a0.36 0.36 0 1 0 0.72 0a0.36 0.36 0 1 0 -0.72 0M389.45 599.01a0.61 0.61 0 1 0 1.22 0a0.61 0.61 0 1 0 -1.22 0M390.95 609.82a0.43 0.43 0 1 0 0.86 0a0.43 0.43 0 1 0 -0.86 0M394.48 607.38a0.69 0.69 0 1 0 1.38 0a0.69 0.69 0 1 0 -1.38 0M402.79 602.13a0.5 0.5 0 1 0 1.01 0a0.5 0.5 0 1 0 -1.01 0M378.82 619.91a0.7 0.7 0 1 0 1.4 0a0.7 0.7 0 1 0 -1.4 0M398.91 619.38a0.71 0.71 0 1 0 1.42 0a0.71 0.71 0 1 0 -1.42 0M388.92 606.94a0.78 0.78 0 1 0 1.55 0a0.78 0.78 0 1 0 -1.55 0M395.7 615.3a0.62 0.62 0 1 0 1.25 0a0.62 0.62 0 1 0 -1.25 0M395.87 604.43a0.77 0.77 0 1 0 1.53 0a0.77 0.77 0 1 0 -1.53 0M377.35 606.78a0.49 0.49 0 1 0 0.99 0a0.49 0.49 0 1 0 -0.99 0M389.3 614.12a0.42 0.42 0 1 0 0.83 0a0.42 0.42 0 1 0 -0.83 0M380.38 592.93a0.42 0.42 0 1 0 0.85 0a0.42 0.42 0 1 0 -0.85 0M403.96 614.97a0.59 0.59 0 1 0 1.18 0a0.59 0.59 0 1 0 -1.18 0M379.6 614.49a0.62 0.62 0 1 0 1.23 0a0.62 0.62 0 1 0 -1.23 0M392.56 598.82a0.54 0.54 0 1 0 1.08 0a0.54 0.54 0 1 0 -1.08 0M403.32 615.51a0.36 0.36 0 1 0 0.73 0a0.36 0.36 0 1 0 -0.73 0M370.62 610.27a0.41 0.41 0 1 0 0.82 0a0.41 0.41 0 1 0 -0.82 0M384.85 592.17a0.63 0.63 0 1 0 1.27 0a0.63 0.63 0 1 0 -1.27 0M388.34 603.89a0.55 0.55 0 1 0 1.09 0a0.55 0.55 0 1 0 -1.09 0M396.8 622.94a0.48 0.48 0 1 0 0.97 0a0.48 0.48 0 1 0 -0.97 0M369.55 614.82a0.73 0.73 0 1 0 1.47 0a0.73 0.73 0 1 0 -1.47 0M398.92 607.78a0.57 0.57 0 1 0 1.14 0a0.57 0.57 0 1 0 -1.14 0M385.42 597.24a0.48 0.48 0 1 0 0.96 0a0.48 0.48 0 1 0 -0.96 0M381.31 613.52a0.52 0.52 0 1 0 1.04 0a0.52 0.52 0 1 0 -1.04 0M404.46 608.31a0.63 0.63 0 1 0 1.26 0a0.63 0.63 0 1 0 -1.26 0M376.64 609.64a0.39 0.39 0 1 0 0.78 0a0.39 0.39 0 1 0 -0.78 0M384.54 625.36a0.74 0.74 0 1 0 1.48 0a0.74 0.74 0 1 0 -1.48 0M376.53 621.81a0.7 0.7 0 1 0 1.4 0a0.7 0.7 0 1 0 -1.4 0M381.8 595.81a0.69 0.69 0 1 0 1.38 0a0.69 0.69 0 1 0 -1.38 0M377.14 621.03a0.48 0.48 0 1 0 0.95 0a0.48 0.48 0 1 0 -0.95 0M371.11 611.02a0.66 0.66 0 1 0 1.32 0a0.66 0.66 0 1 0 -1.32 0M382.1 626.44a0.64 0.64 0 1 0 1.28 0a0.64 0.64 0 1 0 -1.28 0M385.21 608.66a0.6 0.6 0 1 0 1.19 0a0.6 0.6 0 1 0 -1.19 0M386.88 624.35a0.56 0.56 0 1 0 1.12 0a0.56 0.56 0 1 0 -1.12 0M392.68 596.37a0.71 0.71 0 1 0 1.42 0a0.71 0.71 0 1 0 -1.42 0M378.48 621.4a0.68 0.68 0 1 0 1.36 0a0.68 0.68 0 1 0 -1.36 0M391.79 600.21a0.73 0.73 0 1 0 1.46 0a0.73 0.73 0 1 0 -1.46 0M396.93 598.71a0.79 0.79 0 1 0 1.58 0a0.79 0.79 0 1 0 -1.58 0M399.39 606.1a0.59 0.59 0 1 0 1.18 0a0.59 0.59 0 1 0 -1.18 0M395 623.83a0.77 0.77 0 1 0 1.54 0a0.77 0.77 0 1 0 -1.54 0M372.01 611.73a0.67 0.67 0 1 0 1.35 0a0.67 0.67 0 1 0 -1.35 0M385.88 602.2a0.7 0.7 0 1 0 1.4 0a0.7 0.7 0 1 0 -1.4 0M374.13 602.46a0.54 0.54 0 1 0 1.08 0a0.54 0.54 0 1 0 -1.08 0M375.57 598.49a0.64 0.64 0 1 0 1.27 0a0.64 0.64 0 1 0 -1.27 0M386.53 606.66a0.42 0.42 0 1 0 0.84 0a0.42 0.42 0 1 0 -0.84 0M373.52 614.85a0.45 0.45 0 1 0 0.9 0a0.45 0.45 0 1 0 -0.9 0M381.53 596.45a0.37 0.37 0 1 0 0.74 0a0.37 0.37 0 1 0 -0.74 0M378.7 611.12a0.37 0.37 0 1 0 0.75 0a0.37 0.37 0 1 0 -0.75 0M393.84 617.14a0.43 0.43 0 1 0 0.86 0a0.43 0.43 0 1 0 -0.86 0M388.12 612.79a0.56 0.56 0 1 0 1.12 0a0.56 0.56 0 1 0 -1.12 0M376.6 619.22a0.62 0.62 0 1 0 1.23 0a0.62 0.62 0 1 0 -1.23 0M388.45 626.66a0.35 0.35 0 1 0 0.7 0a0.35 0.35 0 1 0 -0.7 0M379.1 614.92a0.53 0.53 0 1 0 1.07 0a0.53 0.53 0 1 0 -1.07 0M399.29 620.46a0.52 0.52 0 1 0 1.04 0a0.52 0.52 0 1 0 -1.04 0M400.85 612.77a0.39 0.39 0 1 0 0.79 0a0.39 0.39 0 1 0 -0.79 0M376.82 606.66a0.61 0.61 0 1 0 1.22 0a0.61 0.61 0 1 0 -1.22 0M402.69 605.38a0.54 0.54 0 1 0 1.08 0a0.54 0.54 0 1 0 -1.08 0M392.55 596.29a0.52 0.52 0 1 0 1.03 0a0.52 0.52 0 1 0 -1.03 0M395.61 620.42a0.6 0.6 0 1 0 1.21 0a0.6 0.6 0 1 0 -1.21 0M403.95 604.9a0.62 0.62 0 1 0 1.25 0a0.62 0.62 0 1 0 -1.25 0M377.05 623.29a0.35 0.35 0 1 0 0.7 0a0.35 0.35 0 1 0 -0.7 0M397.42 618.09a0.63 0.63 0 1 0 1.25 0a0.63 0.63 0 1 0 -1.25 0M395.8 620.64a0.75 0.75 0 1 0 1.5 0a0.75 0.75 0 1 0 -1.5 0M378.64 617.92a0.45 0.45 0 1 0 0.9 0a0.45 0.45 0 1 0 -0.9 0M382.4 626.75a0.52 0.52 0 1 0 1.04 0a0.52 0.52 0 1 0 -1.04 0M403.58 605.44a0.62 0.62 0 1 0 1.24 0a0.62 0.62 0 1 0 -1.24 0M385.83 627.39a0.57 0.57 0 1 0 1.15 0a0.57 0.57 0 1 0 -1.15 0M377.94 614.75a0.79 0.79 0 1 0 1.59 0a0.79 0.79 0 1 0 -1.59 0M377.32 610.1a0.56 0.56 0 1 0 1.13 0a0.56 0.56 0 1 0 -1.13 0M397.18 619.44a0.55 0.55 0 1 0 1.1 0a0.55 0.55 0 1 0 -1.1 0M382.52 624.93a0.72 0.72 0 1 0 1.44 0a0.72 0.72 0 1 0 -1.44 0M400.12 610.69a0.47 0.47 0 1 0 0.95 0a0.47 0.47 0 1 0 -0.95 0M401.66 603.3a0.46 0.46 0 1 0 0.92 0a0.46 0.46 0 1 0 -0.92 0M385.92 616.64a0.79 0.79 0 1 0 1.59 0a0.79 0.79 0 1 0 -1.59 0M383.17 623.12a0.56 0.56 0 1 0 1.13 0a0.56 0.56 0 1 0 -1.13 0M378.23 598.55a0.68 0.68 0 1 0 1.37 0a0.68 0.68 0 1 0 -1.37 0M398.58 620.21a0.49 0.49 0 1 0 0.97 0a0.49 0.49 0 1 0 -0.97 0M376.81 607.42a0.48 0.48 0 1 0 0.97 0a0.48 0.48 0 1 0 -0.97 0M374.94 607.31a0.51 0.51 0 1 0 1.02 0a0.51 0.51 0 1 0 -1.02 0M386.7 595.77a0.37 0.37 0 1 0 0.73 0a0.37 0.37 0 1 0 -0.73 0M386.55 621.75a0.76 0.76 0 1 0 1.52 0a0.76 0.76 0 1 0 -1.52 0M397.28 600.99a0.36 0.36 0 1 0 0.71 0a0.36 0.36 0 1 0 -0.71 0M388.98 598.01a0.61 0.61 0 1 0 1.22 0a0.61 0.61 0 1 0 -1.22 0M383.22 595.78a0.57 0.57 0 1 0 1.13 0a0.57 0.57 0 1 0 -1.13 0M396.47 603.71a0.53 0.53 0 1 0 1.05 0a0.53 0.53 0 1 0 -1.05 0M391.78 603.2a0.48 0.48 0 1 0 0.97 0a0.48 0.48 0 1 0 -0.97 0M389 605.55a0.73 0.73 0 1 0 1.45 0a0.73 0.73 0 1 0 -1.45 0M382.98 598.47a0.48 0.48 0 1 0 0.96 0a0.48 0.48 0 1 0 -0.96 0M390.38 592.74a0.41 0.41 0 1 0 0.83 0a0.41 0.41 0 1 0 -0.83 0M373.71 611.4a0.57 0.57 0 1 0 1.15 0a0.57 0.57 0 1 0 -1.15 0M383.46 615.76a0.61 0.61 0 1 0 1.23 0a0.61 0.61 0 1 0 -1.23 0M388.83 605.24a0.45 0.45 0 1 0 0.91 0a0.45 0.45 0 1 0 -0.91 0M393.63 595.09a0.65 0.65 0 1 0 1.3 0a0.65 0.65 0 1 0 -1.3 0M401.81 612.05a0.79 0.79 0 1 0 1.58 0a0.79 0.79 0 1 0 -1.58 0M402.2 609.44a0.37 0.37 0 1 0 0.74 0a0.37 0.37 0 1 0 -0.74 0M391.47 602.54a0.64 0.64 0 1 0 1.28 0a0.64 0.64 0 1 0 -1.28 0M401.6 605.11a0.41 0.41 0 1 0 0.82 0a0.41 0.41 0 1 0 -0.82 0M382.53 626.24a0.42 0.42 0 1 0 0.83 0a0.42 0.42 0 1 0 -0.83 0M378.18 602.18a0.42 0.42 0 1 0 0.85 0a0.42 0.42 0 1 0 -0.85 0M384.4 606.99a0.4 0.4 0 1 0 0.8 0a0.4 0.4 0 1 0 -0.8 0M383.62 612.92a0.38 0.38 0 1 0 0.75 0a0.38 0.38 0 1 0 -0.75 0M372.95 602.54a0.75 0.75 0 1 0 1.49 0a0.75 0.75 0 1 0 -1.49 0M394.87 618.44a0.49 0.49 0 1 0 0.98 0a0.49 0.49 0 1 0 -0.98 0M376.55 602.18a0.77 0.77 0 1 0 1.54 0a0.77 0.77 0 1 0 -1.54 0M383.85 612.62a0.66 0.66 0 1 0 1.33 0a0.66 0.66 0 1 0 -1.33 0M395.25 621.23a0.58 0.58 0 1 0 1.16 0a0.58 0.58 0 1 0 -1.16 0M398.21 602.45a0.63 0.63 0 1 0 1.26 0a0.63 0.63 0 1 0 -1.26 0M385.92 622.92a0.46 0.46 0 1 0 0.93 0a0.46 0.46 0 1 0 -0.93 0M387.14 596.66a0.41 0.41 0 1 0 0.82 0a0.41 0.41 0 1 0 -0.82 0M387.89 620.51a0.68 0.68 0 1 0 1.36 0a0.68 0.68 0 1 0 -1.36 0M393.39 623.33a0.64 0.64 0 1 0 1.29 0a0.64 0.64 0 1 0 -1.29 0M399.76 617.11a0.39 0.39 0 1 0 0.78 0a0.39 0.39 0 1 0 -0.78 0M396.86 619.4a0.46 0.46 0 1 0 0.91 0a0.46 0.46 0 1 0 -0.91 0M395.93 600.88a0.5 0.5 0 1 0 0.99 0a0.5 0.5 0 1 0 -0.99 0M387.71 606.64a0.68 0.68 0 1 0 1.35 0a0.68 0.68 0 1 0 -1.35 0M393.32 611.91a0.78 0.78 0 1 0 1.56 0a0.78 0.78 0 1 0 -1.56 0M383.53 601.88a0.4 0.4 0 1 0 0.8 0a0.4 0.4 0 1 0 -0.8 0M401.24 607.09a0.72 0.72 0 1 0 1.44 0a0.72 0.72 0 1 0 -1.44 0M396.08 620.55a0.51 0.51 0 1 0 1.02 0a0.51 0.51 0 1 0 -1.02 0M387.85 619.95a0.63 0.63 0 1 0 1.25 0a0.63 0.63 0 1 0 -1.25 0M380.59 618.7a0.41 0.41 0 1 0 0.82 0a0.41 0.41 0 1 0 -0.82 0M393.86 596.95a0.71 0.71 0 1 0 1.42 0a0.71 0.71 0 1 0 -1.42 0M371.74 616.35a0.58 0.58 0 1 0 1.17 0a0.58 0.58 0 1 0 -1.17 0M375.43 602.11a0.68 0.68 0 1 0 1.37 0a0.68 0.68 0 1 0 -1.37 0M382.69 613.02a0.36 0.36 0 1 0 0.73 0a0.36 0.36 0 1 0 -0.73 0M387.8 613.02a0.75 0.75 0 1 0 1.5 0a0.75 0.75 0 1 0 -1.5 0M371.57 611.47a0.35 0.35 0 1 0 0.7 0a0.35 0.35 0 1 0 -0.7 0M370.19 612.76a0.63 0.63 0 1 0 1.26 0a0.63 0.63 0 1 0 -1.26 0M376.04 614.92a0.39 0.39 0 1 0 0.79 0a0.39 0.39 0 1 0 -0.79 0M391.03 615.53a0.52 0.52 0 1 0 1.04 0a0.52 0.52 0 1 0 -1.04 0M374.37 620.72a0.42 0.42 0 1 0 0.84 0a0.42 0.42 0 1 0 -0.84 0M386.84 619.08a0.42 0.42 0 1 0 0.85 0a0.42 0.42 0 1 0 -0.85 0M384.92 618.09a0.57 0.57 0 1 0 1.13 0a0.57 0.57 0 1 0 -1.13 0M403.94 613.07a0.52 0.52 0 1 0 1.03 0a0.52 0.52 0 1 0 -1.03 0M400.65 603.93a0.65 0.65 0 1 0 1.31 0a0.65 0.65 0 1 0 -1.31 0M369.87 612.69a0.4 0.4 0 1 0 0.81 0a0.4 0.4 0 1 0 -0.81 0M382.09 601.13a0.65 0.65 0 1 0 1.31 0a0.65 0.65 0 1 0 -1.31 0M386.12 602.39a0.44 0.44 0 1 0 0.88 0a0.44 0.44 0 1 0 -0.88 0M395.65 610.95a0.39 0.39 0 1 0 0.77 0a0.39 0.39 0 1 0 -0.77 0M372.55 619.94a0.51 0.51 0 1 0 1.03 0a0.51 0.51 0 1 0 -1.03 0M382.36 621a0.48 0.48 0 1 0 0.95 0a0.48 0.48 0 1 0 -0.95 0M385.39 594.44a0.42 0.42 0 1 0 0.85 0a0.42 0.42 0 1 0 -0.85 0M387.6 624.33a0.77 0.77 0 1 0 1.55 0a0.77 0.77 0 1 0 -1.55 0M379.52 600.23a0.79 0.79 0 1 0 1.58 0a0.79 0.79 0 1 0 -1.58 0M391.24 609.77a0.7 0.7 0 1 0 1.4 0a0.7 0.7 0 1 0 -1.4 0M383.68 611.64a0.6 0.6 0 1 0 1.19 0a0.6 0.6 0 1 0 -1.19 0M399.93 608.75a0.51 0.51 0 1 0 1.02 0a0.51 0.51 0 1 0 -1.02 0M390.74 612.27a0.75 0.75 0 1 0 1.51 0a0.75 0.75 0 1 0 -1.51 0M369.74 610.57a0.37 0.37 0 1 0 0.75 0a0.37 0.37 0 1 0 -0.75 0M387.14 613.64a0.53 0.53 0 1 0 1.06 0a0.53 0.53 0 1 0 -1.06 0M395.42 612.96a0.53 0.53 0 1 0 1.07 0a0.53 0.53 0 1 0 -1.07 0M385.73 613.43a0.37 0.37 0 1 0 0.73 0a0.37 0.37 0 1 0 -0.73 0M394.42 608.25a0.58 0.58 0 1 0 1.16 0a0.58 0.58 0 1 0 -1.16 0M376.38 617.15a0.39 0.39 0 1 0 0.78 0a0.39 0.39 0 1 0 -0.78 0M384.6 615.04a0.59 0.59 0 1 0 1.19 0a0.59 0.59 0 1 0 -1.19 0M399.02 602.99a0.74 0.74 0 1 0 1.47 0a0.74 0.74 0 1 0 -1.47 0M387.43 611.92a0.59 0.59 0 1 0 1.19 0a0.59 0.59 0 1 0 -1.19 0M373.42 610.75a0.52 0.52 0 1 0 1.04 0a0.52 0.52 0 1 0 -1.04 0M375.9 598.75a0.76 0.76 0 1 0 1.52 0a0.76 0.76 0 1 0 -1.52 0M382.51 620.88a0.72 0.72 0 1 0 1.44 0a0.72 0.72 0 1 0 -1.44 0M388.01 615.64a0.49 0.49 0 1 0 0.98 0a0.49 0.49 0 1 0 -0.98 0M400.26 617.88a0.72 0.72 0 1 0 1.44 0a0.72 0.72 0 1 0 -1.44 0M384.62 615.59a0.39 0.39 0 1 0 0.77 0a0.39 0.39 0 1 0 -0.77 0M387.13 614.82a0.54 0.54 0 1 0 1.09 0a0.54 0.54 0 1 0 -1.09 0M379.23 605.45a0.38 0.38 0 1 0 0.76 0a0.38 0.38 0 1 0 -0.76 0M385.86 605.84a0.44 0.44 0 1 0 0.88 0a0.44 0.44 0 1 0 -0.88 0M384.64 620.32a0.39 0.39 0 1 0 0.79 0a0.39 0.39 0 1 0 -0.79 0M377.96 614.43a0.69 0.69 0 1 0 1.38 0a0.69 0.69 0 1 0 -1.38 0M370.86 603.72a0.64 0.64 0 1 0 1.29 0a0.64 0.64 0 1 0 -1.29 0M387.78 595.98a0.55 0.55 0 1 0 1.1 0a0.55 0.55 0 1 0 -1.1 0M392.66 596.29a0.78 0.78 0 1 0 1.56 0a0.78 0.78 0 1 0 -1.56 0M384.95 594.67a0.47 0.47 0 1 0 0.94 0a0.47 0.47 0 1 0 -0.94 0M391.32 599.3a0.41 0.41 0 1 0 0.82 0a0.41 0.41 0 1 0 -0.82 0M393.81 612.58a0.47 0.47 0 1 0 0.94 0a0.47 0.47 0 1 0 -0.94 0M382.8 601.01a0.38 0.38 0 1 0 0.76 0a0.38 0.38 0 1 0 -0.76 0M388.3 596.21a0.36 0.36 0 1 0 0.72 0a0.36 0.36 0 1 0 -0.72 0M393.16 611.63a0.51 0.51 0 1 0 1.02 0a0.51 0.51 0 1 0 -1.02 0M398.04 596.07a0.63 0.63 0 1 0 1.25 0a0.63 0.63 0 1 0 -1.25 0M388.38 621.31a0.51 0.51 0 1 0 1.03 0a0.51 0.51 0 1 0 -1.03 0M385.92 611.36a0.61 0.61 0 1 0 1.23 0a0.61 0.61 0 1 0 -1.23 0M394.24 596.01a0.39 0.39 0 1 0 0.79 0a0.39 0.39 0 1 0 -0.79 0M379.52 608.19a0.67 0.67 0 1 0 1.34 0a0.67 0.67 0 1 0 -1.34 0M370.34 615.38a0.71 0.71 0 1 0 1.42 0a0.71 0.71 0 1 0 -1.42 0M394.2 616.45a0.76 0.76 0 1 0 1.52 0a0.76 0.76 0 1 0 -1.52 0M375.45 612.48a0.55 0.55 0 1 0 1.1 0a0.55 0.55 0 1 0 -1.1 0M388.82 592.29a0.59 0.59 0 1 0 1.18 0a0.59 0.59 0 1 0 -1.18 0M400.75 606.97a0.4 0.4 0 1 0 0.79 0a0.4 0.4 0 1 0 -0.79 0M391.71 598.88a0.37 0.37 0 1 0 0.75 0a0.37 0.37 0 1 0 -0.75 0M390.12 609.15a0.61 0.61 0 1 0 1.22 0a0.61 0.61 0 1 0 -1.22 0M370.18 611.51a0.53 0.53 0 1 0 1.05 0a0.53 0.53 0 1 0 -1.05 0M389.09 618.85a0.44 0.44 0 1 0 0.88 0a0.44 0.44 0 1 0 -0.88 0M376.87 605.49a0.69 0.69 0 1 0 1.38 0a0.69 0.69 0 1 0 -1.38 0M387.6 620.26a0.46 0.46 0 1 0 0.92 0a0.46 0.46 0 1 0 -0.92 0M403.17 607.78a0.73 0.73 0 1 0 1.46 0a0.73 0.73 0 1 0 -1.46 0M378.69 601.9a0.41 0.41 0 1 0 0.83 0a0.41 0.41 0 1 0 -0.83 0M393.32 598.62a0.37 0.37 0 1 0 0.73 0a0.37 0.37 0 1 0 -0.73 0M389.57 614.55a0.67 0.67 0 1 0 1.35 0a0.67 0.67 0 1 0 -1.35 0M393.3 604.88a0.71 0.71 0 1 0 1.42 0a0.71 0.71 0 1 0 -1.42 0M380.09 622.89a0.74 0.74 0 1 0 1.48 0a0.74 0.74 0 1 0 -1.48 0M375.46 598.35a0.52 0.52 0 1 0 1.04 0a0.52 0.52 0 1 0 -1.04 0M399.74 610.42a0.61 0.61 0 1 0 1.23 0a0.61 0.61 0 1 0 -1.23 0M391.48 619.9a0.49 0.49 0 1 0 0.99 0a0.49 0.49 0 1 0 -0.99 0M396.89 611.3a0.52 0.52 0 1 0 1.04 0a0.52 0.52 0 1 0 -1.04 0M372.04 611.86a0.53 0.53 0 1 0 1.06 0a0.53 0.53 0 1 0 -1.06 0M402.89 607.8a0.77 0.77 0 1 0 1.53 0a0.77 0.77 0 1 0 -1.53 0M381.73 595.81a0.59 0.59 0 1 0 1.18 0a0.59 0.59 0 1 0 -1.18 0M390.15 599.26a0.62 0.62 0 1 0 1.23 0a0.62 0.62 0 1 0 -1.23 0M381.44 597.85a0.48 0.48 0 1 0 0.96 0a0.48 0.48 0 1 0 -0.96 0M391.69 612.1a0.51 0.51 0 1 0 1.02 0a0.51 0.51 0 1 0 -1.02 0M373.1 602.01a0.67 0.67 0 1 0 1.34 0a0.67 0.67 0 1 0 -1.34 0M380.97 625.86a0.47 0.47 0 1 0 0.95 0a0.47 0.47 0 1 0 -0.95 0M385.79 604.88a0.69 0.69 0 1 0 1.38 0a0.69 0.69 0 1 0 -1.38 0M378.26 594.17a0.75 0.75 0 1 0 1.51 0a0.75 0.75 0 1 0 -1.51 0M380.53 594.37a0.68 0.68 0 1 0 1.36 0a0.68 0.68 0 1 0 -1.36 0M380.61 604.32a0.58 0.58 0 1 0 1.17 0a0.58 0.58 0 1 0 -1.17 0M393.7 604.26a0.79 0.79 0 1 0 1.58 0a0.79 0.79 0 1 0 -1.58 0M376.29 606.52a0.35 0.35 0 1 0 0.7 0a0.35 0.35 0 1 0 -0.7 0M381 614.44a0.64 0.64 0 1 0 1.29 0a0.64 0.64 0 1 0 -1.29 0M400.74 599.47a0.63 0.63 0 1 0 1.25 0a0.63 0.63 0 1 0 -1.25 0M382.34 613.48a0.66 0.66 0 1 0 1.32 0a0.66 0.66 0 1 0 -1.32 0M372.61 604.59a0.52 0.52 0 1 0 1.04 0a0.52 0.52 0 1 0 -1.04 0M393.3 604.18a0.49 0.49 0 1 0 0.98 0a0.49 0.49 0 1 0 -0.98 0M385.17 623.71a0.75 0.75 0 1 0 1.51 0a0.75 0.75 0 1 0 -1.51 0M393.91 622.03a0.69 0.69 0 1 0 1.39 0a0.69 0.69 0 1 0 -1.39 0M387.61 614.05a0.6 0.6 0 1 0 1.21 0a0.6 0.6 0 1 0 -1.21 0M394.98 594.83a0.68 0.68 0 1 0 1.36 0a0.68 0.68 0 1 0 -1.36 0M376.74 615.46a0.59 0.59 0 1 0 1.18 0a0.59 0.59 0 1 0 -1.18 0M395.2 604.02a0.48 0.48 0 1 0 0.95 0a0.48 0.48 0 1 0 -0.95 0M373.11 598.72a0.43 0.43 0 1 0 0.87 0a0.43 0.43 0 1 0 -0.87 0M392.9 610.76a0.6 0.6 0 1 0 1.21 0a0.6 0.6 0 1 0 -1.21 0M380.92 604.93a0.44 0.44 0 1 0 0.87 0a0.44 0.44 0 1 0 -0.87 0M374.85 601.5a0.66 0.66 0 1 0 1.32 0a0.66 0.66 0 1 0 -1.32 0M386.34 605.18a0.57 0.57 0 1 0 1.14 0a0.57 0.57 0 1 0 -1.14 0M395.94 594.42a0.49 0.49 0 1 0 0.99 0a0.49 0.49 0 1 0 -0.99 0M395.26 597.92a0.77 0.77 0 1 0 1.53 0a0.77 0.77 0 1 0 -1.53 0M388.74 624.5a0.73 0.73 0 1 0 1.46 0a0.73 0.73 0 1 0 -1.46 0M381.41 610.43a0.44 0.44 0 1 0 0.87 0a0.44 0.44 0 1 0 -0.87 0M390.12 614.17a0.42 0.42 0 1 0 0.84 0a0.42 0.42 0 1 0 -0.84 0M382.45 605.72a0.69 0.69 0 1 0 1.38 0a0.69 0.69 0 1 0 -1.38 0M385.38 593.4a0.71 0.71 0 1 0 1.42 0a0.71 0.71 0 1 0 -1.42 0M382.74 592.76a0.78 0.78 0 1 0 1.56 0a0.78 0.78 0 1 0 -1.56 0M374.61 597.09a0.4 0.4 0 1 0 0.79 0a0.4 0.4 0 1 0 -0.79 0M390.71 612.35a0.44 0.44 0 1 0 0.89 0a0.44 0.44 0 1 0 -0.89 0M378.25 618.25a0.66 0.66 0 1 0 1.31 0a0.66 0.66 0 1 0 -1.31 0M386.74 604.4a0.53 0.53 0 1 0 1.06 0a0.53 0.53 0 1 0 -1.06 0M376.48 606.63a0.4 0.4 0 1 0 0.81 0a0.4 0.4 0 1 0 -0.81 0M377.81 603.29a0.66 0.66 0 1 0 1.32 0a0.66 0.66 0 1 0 -1.32 0M369.07 610.1a0.78 0.78 0 1 0 1.55 0a0.78 0.78 0 1 0 -1.55 0M400.93 616.48a0.67 0.67 0 1 0 1.35 0a0.67 0.67 0 1 0 -1.35 0M385.18 615.5a0.57 0.57 0 1 0 1.13 0a0.57 0.57 0 1 0 -1.13 0M377.33 621.86a0.76 0.76 0 1 0 1.53 0a0.76 0.76 0 1 0 -1.53 0M379.77 616.15a0.57 0.57 0 1 0 1.15 0a0.57 0.57 0 1 0 -1.15 0M381.65 594.49a0.61 0.61 0 1 0 1.22 0a0.61 0.61 0 1 0 -1.22 0M383.79 619.62a0.73 0.73 0 1 0 1.46 0a0.73 0.73 0 1 0 -1.46 0M382.95 609.11a0.54 0.54 0 1 0 1.08 0a0.54 0.54 0 1 0 -1.08 0M388.24 624.25a0.38 0.38 0 1 0 0.77 0a0.38 0.38 0 1 0 -0.77 0M386.2 615.13a0.56 0.56 0 1 0 1.13 0a0.56 0.56 0 1 0 -1.13 0M400.16 608.32a0.52 0.52 0 1 0 1.05 0a0.52 0.52 0 1 0 -1.05 0M391.98 607.4a0.51 0.51 0 1 0 1.02 0a0.51 0.51 0 1 0 -1.02 0M387.29 608.4a0.69 0.69 0 1 0 1.39 0a0.69 0.69 0 1 0 -1.39 0M385.56 611.37a0.46 0.46 0 1 0 0.93 0a0.46 0.46 0 1 0 -0.93 0M376.16 612.49a0.58 0.58 0 1 0 1.17 0a0.58 0.58 0 1 0 -1.17 0M394.66 612.36a0.79 0.79 0 1 0 1.58 0a0.79 0.79 0 1 0 -1.58 0M375.54 613.96a0.39 0.39 0 1 0 0.78 0a0.39 0.39 0 1 0 -0.78 0M383.64 626.89a0.66 0.66 0 1 0 1.32 0a0.66 0.66 0 1 0 -1.32 0M382.83 609.4a0.53 0.53 0 1 0 1.05 0a0.53 0.53 0 1 0 -1.05 0M388.99 597.92a0.62 0.62 0 1 0 1.23 0a0.62 0.62 0 1 0 -1.23 0M398.68 601.28a0.64 0.64 0 1 0 1.27 0a0.64 0.64 0 1 0 -1.27 0M389.51 610.22a0.7 0.7 0 1 0 1.39 0a0.7 0.7 0 1 0 -1.39 0M372.39 618.33a0.72 0.72 0 1 0 1.44 0a0.72 0.72 0 1 0 -1.44 0M396.25 603.98a0.8 0.8 0 1 0 1.6 0a0.8 0.8 0 1 0 -1.6 0M387.75 592.61a0.42 0.42 0 1 0 0.83 0a0.42 0.42 0 1 0 -0.83 0M388.97 598.13a0.79 0.79 0 1 0 1.57 0a0.79 0.79 0 1 0 -1.57 0M395.33 609.29a0.54 0.54 0 1 0 1.08 0a0.54 0.54 0 1 0 -1.08 0M385.41 621.83a0.48 0.48 0 1 0 0.96 0a0.48 0.48 0 1 0 -0.96 0M383.91 604.13a0.43 0.43 0 1 0 0.85 0a0.43 0.43 0 1 0 -0.85 0M382.26 610.89a0.52 0.52 0 1 0 1.04 0a0.52 0.52 0 1 0 -1.04 0M400.6 599.42a0.44 0.44 0 1 0 0.88 0a0.44 0.44 0 1 0 -0.88 0M402.99 611.5a0.78 0.78 0 1 0 1.56 0a0.78 0.78 0 1 0 -1.56 0M381.64 605.73a0.46 0.46 0 1 0 0.91 0a0.46 0.46 0 1 0 -0.91 0M402.42 601.22a0.36 0.36 0 1 0 0.73 0a0.36 0.36 0 1 0 -0.73 0M391.73 620.41a0.47 0.47 0 1 0 0.94 0a0.47 0.47 0 1 0 -0.94 0M387.07 598.61a0.7 0.7 0 1 0 1.4 0a0.7 0.7 0 1 0 -1.4 0M394.2 620.18a0.79 0.79 0 1 0 1.58 0a0.79 0.79 0 1 0 -1.58 0M385.5 604.44a0.4 0.4 0 1 0 0.8 0a0.4 0.4 0 1 0 -0.8 0M380.15 600.95a0.52 0.52 0 1 0 1.03 0a0.52 0.52 0 1 0 -1.03 0M373.12 611.52a0.78 0.78 0 1 0 1.57 0a0.78 0.78 0 1 0 -1.57 0M387.81 623.15a0.47 0.47 0 1 0 0.94 0a0.47 0.47 0 1 0 -0.94 0M372.32 605.27a0.41 0.41 0 1 0 0.82 0a0.41 0.41 0 1 0 -0.82 0M372.13 611.39a0.35 0.35 0 1 0 0.71 0a0.35 0.35 0 1 0 -0.71 0M388.47 598.05a0.58 0.58 0 1 0 1.15 0a0.58 0.58 0 1 0 -1.15 0M374.81 599.34a0.38 0.38 0 1 0 0.75 0a0.38 0.38 0 1 0 -0.75 0M383.45 609.59a0.52 0.52 0 1 0 1.05 0a0.52 0.52 0 1 0 -1.05 0M385.53 611.77a0.48 0.48 0 1 0 0.97 0a0.48 0.48 0 1 0 -0.97 0M372.88 614.1a0.77 0.77 0 1 0 1.53 0a0.77 0.77 0 1 0 -1.53 0M377.83 619.13a0.67 0.67 0 1 0 1.34 0a0.67 0.67 0 1 0 -1.34 0M402.9 602.87a0.79 0.79 0 1 0 1.59 0a0.79 0.79 0 1 0 -1.59 0M384.38 616.56a0.77 0.77 0 1 0 1.54 0a0.77 0.77 0 1 0 -1.54 0M397.48 615.23a0.68 0.68 0 1 0 1.36 0a0.68 0.68 0 1 0 -1.36 0M375.69 607.58a0.77 0.77 0 1 0 1.53 0a0.77 0.77 0 1 0 -1.53 0M382.71 622.34a0.72 0.72 0 1 0 1.45 0a0.72 0.72 0 1 0 -1.45 0M393.83 617.73a0.57 0.57 0 1 0 1.14 0a0.57 0.57 0 1 0 -1.14 0M379.44 606.3a0.55 0.55 0 1 0 1.11 0a0.55 0.55 0 1 0 -1.11 0M391.96 611.56a0.5 0.5 0 1 0 1.01 0a0.5 0.5 0 1 0 -1.01 0M397.99 623.51a0.47 0.47 0 1 0 0.94 0a0.47 0.47 0 1 0 -0.94 0M384.25 625.33a0.68 0.68 0 1 0 1.37 0a0.68 0.68 0 1 0 -1.37 0M385.62 625.94a0.63 0.63 0 1 0 1.26 0a0.63 0.63 0 1 0 -1.26 0M376.12 618.79a0.46 0.46 0 1 0 0.92 0a0.46 0.46 0 1 0 -0.92 0M385.54 626.39a0.55 0.55 0 1 0 1.09 0a0.55 0.55 0 1 0 -1.09 0M393.14 605.05a0.41 0.41 0 1 0 0.82 0a0.41 0.41 0 1 0 -0.82 0M401.56 614.56a0.6 0.6 0 1 0 1.21 0a0.6 0.6 0 1 0 -1.21 0M390.52 609.83a0.72 0.72 0 1 0 1.44 0a0.72 0.72 0 1 0 -1.44 0M370.34 610.19a0.37 0.37 0 1 0 0.74 0a0.37 0.37 0 1 0 -0.74 0M381.59 606.33a0.67 0.67 0 1 0 1.35 0a0.67 0.67 0 1 0 -1.35 0M376.27 600.53a0.45 0.45 0 1 0 0.9 0a0.45 0.45 0 1 0 -0.9 0M392.81 607.71a0.38 0.38 0 1 0 0.76 0a0.38 0.38 0 1 0 -0.76 0M384.91 604.58a0.38 0.38 0 1 0 0.76 0a0.38 0.38 0 1 0 -0.76 0M372.7 613.18a0.75 0.75 0 1 0 1.5 0a0.75 0.75 0 1 0 -1.5 0M386 604.94a0.64 0.64 0 1 0 1.28 0a0.64 0.64 0 1 0 -1.28 0M390.28 604.4a0.69 0.69 0 1 0 1.38 0a0.69 0.69 0 1 0 -1.38 0M386.61 619.42a0.35 0.35 0 1 0 0.7 0a0.35 0.35 0 1 0 -0.7 0M387.41 596.69a0.76 0.76 0 1 0 1.51 0a0.76 0.76 0 1 0 -1.51 0M380.12 611.12a0.45 0.45 0 1 0 0.89 0a0.45 0.45 0 1 0 -0.89 0M385.59 627.05a0.44 0.44 0 1 0 0.88 0a0.44 0.44 0 1 0 -0.88 0M396.2 615.23a0.39 0.39 0 1 0 0.77 0a0.39 0.39 0 1 0 -0.77 0M374.2 616.03a0.64 0.64 0 1 0 1.29 0a0.64 0.64 0 1 0 -1.29 0M389.98 615.57a0.57 0.57 0 1 0 1.14 0a0.57 0.57 0 1 0 -1.14 0M382.26 598.49a0.61 0.61 0 1 0 1.22 0a0.61 0.61 0 1 0 -1.22 0M392.87 606a0.47 0.47 0 1 0 0.94 0a0.47 0.47 0 1 0 -0.94 0M373.58 610.12a0.76 0.76 0 1 0 1.51 0a0.76 0.76 0 1 0 -1.51 0M373.19 604.61a0.54 0.54 0 1 0 1.08 0a0.54 0.54 0 1 0 -1.08 0M390.54 593.52a0.48 0.48 0 1 0 0.96 0a0.48 0.48 0 1 0 -0.96 0M394.13 615.34a0.51 0.51 0 1 0 1.02 0a0.51 0.51 0 1 0 -1.02 0M393.99 603.68a0.63 0.63 0 1 0 1.27 0a0.63 0.63 0 1 0 -1.27 0M375.93 595.99a0.4 0.4 0 1 0 0.8 0a0.4 0.4 0 1 0 -0.8 0M388.4 599.24a0.4 0.4 0 1 0 0.79 0a0.4 0.4 0 1 0 -0.79 0M375.72 597.4a0.61 0.61 0 1 0 1.22 0a0.61 0.61 0 1 0 -1.22 0M403.86 615.07a0.52 0.52 0 1 0 1.05 0a0.52 0.52 0 1 0 -1.05 0M377 598.03a0.47 0.47 0 1 0 0.93 0a0.47 0.47 0 1 0 -0.93 0M378.44 615.22a0.39 0.39 0 1 0 0.79 0a0.39 0.39 0 1 0 -0.79 0M400.97 615.6a0.53 0.53 0 1 0 1.07 0a0.53 0.53 0 1 0 -1.07 0M390.09 606.31a0.49 0.49 0 1 0 0.97 0a0.49 0.49 0 1 0 -0.97 0M394.22 625.43a0.71 0.71 0 1 0 1.41 0a0.71 0.71 0 1 0 -1.41 0M397.29 601.84a0.4 0.4 0 1 0 0.79 0a0.4 0.4 0 1 0 -0.79 0M379.74 613.9a0.36 0.36 0 1 0 0.72 0a0.36 0.36 0 1 0 -0.72 0M378.21 605.75a0.4 0.4 0 1 0 0.8 0a0.4 0.4 0 1 0 -0.8 0M369.38 608.34a0.78 0.78 0 1 0 1.55 0a0.78 0.78 0 1 0 -1.55 0M381.16 610.82a0.7 0.7 0 1 0 1.39 0a0.7 0.7 0 1 0 -1.39 0M397.02 618.31a0.39 0.39 0 1 0 0.78 0a0.39 0.39 0 1 0 -0.78 0M400.17 608.54a0.55 0.55 0 1 0 1.09 0a0.55 0.55 0 1 0 -1.09 0M384.86 622.83a0.79 0.79 0 1 0 1.58 0a0.79 0.79 0 1 0 -1.58 0M379.52 613.21a0.58 0.58 0 1 0 1.16 0a0.58 0.58 0 1 0 -1.16 0M396.55 604.13a0.64 0.64 0 1 0 1.27 0a0.64 0.64 0 1 0 -1.27 0M395.75 604.58a0.71 0.71 0 1 0 1.43 0a0.71 0.71 0 1 0 -1.43 0M380.51 608.38a0.37 0.37 0 1 0 0.75 0a0.37 0.37 0 1 0 -0.75 0M398.35 605a0.55 0.55 0 1 0 1.1 0a0.55 0.55 0 1 0 -1.1 0M398.77 602.85a0.58 0.58 0 1 0 1.15 0a0.58 0.58 0 1 0 -1.15 0M383.73 624.77a0.47 0.47 0 1 0 0.93 0a0.47 0.47 0 1 0 -0.93 0M371.47 612.49a0.62 0.62 0 1 0 1.24 0a0.62 0.62 0 1 0 -1.24 0M392.23 615.65a0.66 0.66 0 1 0 1.33 0a0.66 0.66 0 1 0 -1.33 0M385.94 603.88a0.8 0.8 0 1 0 1.6 0a0.8 0.8 0 1 0 -1.6 0M392.04 615.08a0.39 0.39 0 1 0 0.78 0a0.39 0.39 0 1 0 -0.78 0M373.39 614.28a0.74 0.74 0 1 0 1.47 0a0.74 0.74 0 1 0 -1.47 0M394.91 622.46a0.4 0.4 0 1 0 0.79 0a0.4 0.4 0 1 0 -0.79 0M379.08 605.23a0.51 0.51 0 1 0 1.02 0a0.51 0.51 0 1 0 -1.02 0M401.55 614.55a0.41 0.41 0 1 0 0.81 0a0.41 0.41 0 1 0 -0.81 0M387.81 599.2a0.62 0.62 0 1 0 1.23 0a0.62 0.62 0 1 0 -1.23 0M378.68 599.95a0.74 0.74 0 1 0 1.49 0a0.74 0.74 0 1 0 -1.49 0M395.36 604.97a0.5 0.5 0 1 0 1 0a0.5 0.5 0 1 0 -1 0M391.66 605.02a0.54 0.54 0 1 0 1.08 0a0.54 0.54 0 1 0 -1.08 0M371.8 618.69a0.41 0.41 0 1 0 0.82 0a0.41 0.41 0 1 0 -0.82 0M378.02 596.64a0.68 0.68 0 1 0 1.36 0a0.68 0.68 0 1 0 -1.36 0M404.49 609.71a0.49 0.49 0 1 0 0.98 0a0.49 0.49 0 1 0 -0.98 0M395.79 597.93a0.54 0.54 0 1 0 1.08 0a0.54 0.54 0 1 0 -1.08 0M394.74 596.99a0.5 0.5 0 1 0 1.01 0a0.5 0.5 0 1 0 -1.01 0M385.37 596.89a0.67 0.67 0 1 0 1.34 0a0.67 0.67 0 1 0 -1.34 0M374.99 599.03a0.42 0.42 0 1 0 0.84 0a0.42 0.42 0 1 0 -0.84 0M386.17 609.62a0.71 0.71 0 1 0 1.41 0a0.71 0.71 0 1 0 -1.41 0M389.35 593.28a0.37 0.37 0 1 0 0.74 0a0.37 0.37 0 1 0 -0.74 0M374.95 606.87a0.4 0.4 0 1 0 0.81 0a0.4 0.4 0 1 0 -0.81 0M391.98 626.58a0.73 0.73 0 1 0 1.47 0a0.73 0.73 0 1 0 -1.47 0M388.07 625.94a0.64 0.64 0 1 0 1.29 0a0.64 0.64 0 1 0 -1.29 0M376.21 619.16a0.45 0.45 0 1 0 0.91 0a0.45 0.45 0 1 0 -0.91 0M386.59 611.39a0.65 0.65 0 1 0 1.29 0a0.65 0.65 0 1 0 -1.29 0M373.39 602a0.58 0.58 0 1 0 1.15 0a0.58 0.58 0 1 0 -1.15 0M377.68 613.56a0.68 0.68 0 1 0 1.36 0a0.68 0.68 0 1 0 -1.36 0M377.11 619.57a0.69 0.69 0 1 0 1.38 0a0.69 0.69 0 1 0 -1.38 0M373.11 614.69a0.38 0.38 0 1 0 0.76 0a0.38 0.38 0 1 0 -0.76 0M386 626.07a0.42 0.42 0 1 0 0.83 0a0.42 0.42 0 1 0 -0.83 0M388.83 610.36a0.69 0.69 0 1 0 1.39 0a0.69 0.69 0 1 0 -1.39 0M396.52 617.15a0.55 0.55 0 1 0 1.09 0a0.55 0.55 0 1 0 -1.09 0M390.97 597.85a0.58 0.58 0 1 0 1.17 0a0.58 0.58 0 1 0 -1.17 0M402.66 612.09a0.7 0.7 0 1 0 1.39 0a0.7 0.7 0 1 0 -1.39 0M375.14 598.08a0.63 0.63 0 1 0 1.25 0a0.63 0.63 0 1 0 -1.25 0M383.35 593.37a0.63 0.63 0 1 0 1.26 0a0.63 0.63 0 1 0 -1.26 0M403.5 611.75a0.8 0.8 0 1 0 1.59 0a0.8 0.8 0 1 0 -1.59 0M388.39 614.01a0.5 0.5 0 1 0 1.01 0a0.5 0.5 0 1 0 -1.01 0M395.95 616.04a0.39 0.39 0 1 0 0.78 0a0.39 0.39 0 1 0 -0.78 0M387.15 610.62a0.54 0.54 0 1 0 1.09 0a0.54 0.54 0 1 0 -1.09 0" fill="#7b70c8" fill-opacity="0.8"/>
<circle cx="433" cy="609.6" r="21.5" fill="url(#wb4)" stroke="#bcb8d0" stroke-width="0.8"/>
<ellipse cx="433" cy="602" rx="13" ry="4.5" fill="#f2f2f6" opacity="0.55"/>
<line x1="507.3" y1="502.3" x2="507.3" y2="619.4" stroke="#000" stroke-width="1.2"/>
<line x1="507.3" y1="618.8" x2="684" y2="618.8" stroke="#000" stroke-width="1.2"/>
<line x1="504" y1="618.9" x2="507.3" y2="618.9" stroke="#000" stroke-width="1.1"/>
<text x="501.9" y="622.4" font-size="10" font-weight="bold" text-anchor="end" fill="#333" textLength="4.7" lengthAdjust="spacingAndGlyphs">0</text>
<line x1="504" y1="595.58" x2="507.3" y2="595.58" stroke="#000" stroke-width="1.1"/>
<text x="501.9" y="599.08" font-size="10" font-weight="bold" text-anchor="end" fill="#333" textLength="14.1" lengthAdjust="spacingAndGlyphs">100</text>
<line x1="504" y1="572.26" x2="507.3" y2="572.26" stroke="#000" stroke-width="1.1"/>
<text x="501.9" y="575.76" font-size="10" font-weight="bold" text-anchor="end" fill="#333" textLength="14.1" lengthAdjust="spacingAndGlyphs">200</text>
<line x1="504" y1="548.94" x2="507.3" y2="548.94" stroke="#000" stroke-width="1.1"/>
<text x="501.9" y="552.44" font-size="10" font-weight="bold" text-anchor="end" fill="#333" textLength="14.1" lengthAdjust="spacingAndGlyphs">300</text>
<line x1="504" y1="525.62" x2="507.3" y2="525.62" stroke="#000" stroke-width="1.1"/>
<text x="501.9" y="529.12" font-size="10" font-weight="bold" text-anchor="end" fill="#333" textLength="14.1" lengthAdjust="spacingAndGlyphs">400</text>
<line x1="504" y1="502.3" x2="507.3" y2="502.3" stroke="#000" stroke-width="1.1"/>
<text x="501.9" y="505.8" font-size="10" font-weight="bold" text-anchor="end" fill="#333" textLength="14.1" lengthAdjust="spacingAndGlyphs">500</text>
<line x1="530.3" y1="537.6" x2="530.3" y2="538.6" stroke="#000" stroke-width="1.2"/>
<line x1="524.8" y1="537.6" x2="535.8" y2="537.6" stroke="#000" stroke-width="1.3"/>
<rect x="518.65" y="539.35" width="23.3" height="79.55" fill="#fff" stroke="#000" stroke-width="1.5"/>
<line x1="565.6" y1="573.2" x2="565.6" y2="576.7" stroke="#000" stroke-width="1.2"/>
<line x1="560.1" y1="573.2" x2="571.1" y2="573.2" stroke="#000" stroke-width="1.3"/>
<rect x="552.9" y="576.7" width="25.4" height="42.2" fill="#000"/>
<line x1="624.5" y1="520.5" x2="624.5" y2="538.4" stroke="#000" stroke-width="1.2"/>
<line x1="619" y1="520.5" x2="630" y2="520.5" stroke="#000" stroke-width="1.3"/>
<rect x="613.15" y="539.15" width="22.7" height="79.75" fill="#fff" stroke="#000" stroke-width="1.5"/>
<line x1="659.25" y1="607.3" x2="659.25" y2="609.2" stroke="#000" stroke-width="1.2"/>
<line x1="653.75" y1="607.3" x2="664.75" y2="607.3" stroke="#000" stroke-width="1.3"/>
<rect x="647.2" y="609.2" width="24.1" height="9.7" fill="#000"/>
<text x="565.5" y="572.2" font-size="9.5" font-weight="bold" text-anchor="middle" fill="#222" textLength="16.5" lengthAdjust="spacingAndGlyphs">***</text>
<text x="658.5" y="605.6" font-size="11" font-weight="bold" text-anchor="middle" fill="#222">*</text>
<line x1="548.2" y1="618.9" x2="548.2" y2="621.6" stroke="#000" stroke-width="1"/>
<text x="547.6" y="631.8" font-size="9.8" font-weight="bold" text-anchor="middle" fill="#222" textLength="47.9" lengthAdjust="spacingAndGlyphs">MIA PaCa-2</text>
<line x1="641.2" y1="618.9" x2="641.2" y2="621.6" stroke="#000" stroke-width="1"/>
<text x="641" y="631.8" font-size="9.8" font-weight="bold" text-anchor="middle" fill="#222" textLength="28.5" lengthAdjust="spacingAndGlyphs">PANC1</text>
<rect x="514.1" y="496.3" width="11.4" height="5.6" fill="#fff" stroke="#000" stroke-width="1.4"/>
<rect x="513.4" y="510.7" width="12.8" height="7.3" fill="#000"/>
<text x="532.7" y="501.4" font-size="8.6" fill="#222" textLength="39.4" lengthAdjust="spacingAndGlyphs">Untreated</text>
<text x="532.7" y="517.2" font-size="8.6" fill="#222" textLength="43.8" lengthAdjust="spacingAndGlyphs">BPM31510</text>
<text x="473.4" y="559.5" font-size="8.4" text-anchor="middle" fill="#333" textLength="87" lengthAdjust="spacingAndGlyphs" transform="rotate(-90 473.4 559.5)">Number of colonies</text>
<defs><pattern id="hatch" patternUnits="userSpaceOnUse" width="9.2" height="6" patternTransform="rotate(0)">
<rect width="9.2" height="6" fill="#fff"/><path d="M-2 7.5L11.2 -1.2M-2 13.5L11.2 4.8M-2 1.5L11.2 -7.2" stroke="#000" stroke-width="2.3"/></pattern>
<pattern id="hatchL" patternUnits="userSpaceOnUse" width="4.4" height="4"><rect width="4.4" height="4" fill="#fff"/><path d="M0 4L4.4 0M-4.4 4L0 0M4.4 4L8.8 0" stroke="#000" stroke-width="1.5"/></pattern></defs>
<line x1="130.65" y1="844.5" x2="130.65" y2="847.3" stroke="#000" stroke-width="1"/>
<line x1="234.5" y1="844.5" x2="234.5" y2="847.3" stroke="#000" stroke-width="1"/>
<line x1="33.1" y1="727.8" x2="33.1" y2="845.1" stroke="#000" stroke-width="1.2"/>
<line x1="33.1" y1="844.5" x2="331" y2="844.5" stroke="#000" stroke-width="1.2"/>
<line x1="29.6" y1="844.5" x2="33.1" y2="844.5" stroke="#000" stroke-width="1.1"/>
<text x="28.9" y="847.6" font-size="9.6" font-weight="bold" text-anchor="end" fill="#222" textLength="4.45" lengthAdjust="spacingAndGlyphs">0</text>
<line x1="29.6" y1="825.05" x2="33.1" y2="825.05" stroke="#000" stroke-width="1.1"/>
<text x="28.9" y="828.15" font-size="9.6" font-weight="bold" text-anchor="end" fill="#222" textLength="8.9" lengthAdjust="spacingAndGlyphs">20</text>
<line x1="29.6" y1="805.6" x2="33.1" y2="805.6" stroke="#000" stroke-width="1.1"/>
<text x="28.9" y="808.7" font-size="9.6" font-weight="bold" text-anchor="end" fill="#222" textLength="8.9" lengthAdjust="spacingAndGlyphs">40</text>
<line x1="29.6" y1="786.15" x2="33.1" y2="786.15" stroke="#000" stroke-width="1.1"/>
<text x="28.9" y="789.25" font-size="9.6" font-weight="bold" text-anchor="end" fill="#222" textLength="8.9" lengthAdjust="spacingAndGlyphs">60</text>
<line x1="29.6" y1="766.7" x2="33.1" y2="766.7" stroke="#000" stroke-width="1.1"/>
<text x="28.9" y="769.8" font-size="9.6" font-weight="bold" text-anchor="end" fill="#222" textLength="8.9" lengthAdjust="spacingAndGlyphs">80</text>
<line x1="29.6" y1="747.25" x2="33.1" y2="747.25" stroke="#000" stroke-width="1.1"/>
<text x="28.9" y="750.35" font-size="9.6" font-weight="bold" text-anchor="end" fill="#222" textLength="13.35" lengthAdjust="spacingAndGlyphs">100</text>
<line x1="29.6" y1="727.8" x2="33.1" y2="727.8" stroke="#000" stroke-width="1.1"/>
<text x="28.9" y="730.9" font-size="9.6" font-weight="bold" text-anchor="end" fill="#222" textLength="13.35" lengthAdjust="spacingAndGlyphs">120</text>
<rect x="40.5" y="746.28" width="15.5" height="98.22" fill="#000"/>
<rect x="42.1" y="751.84" width="12.3" height="8.33" fill="#8a8a8a"/>
<rect x="42.1" y="761.57" width="12.3" height="4.44" fill="#dadada"/>
<rect x="42.1" y="767.4" width="12.3" height="76.4" fill="url(#hatch)"/>
<line x1="48.25" y1="844.5" x2="48.25" y2="847.3" stroke="#000" stroke-width="1"/>
<line x1="48.25" y1="763.3" x2="48.25" y2="766.7" stroke="#000" stroke-width="1"/>
<line x1="45" y1="763.3" x2="51.5" y2="763.3" stroke="#000" stroke-width="1.3"/>
<line x1="48.25" y1="757.46" x2="48.25" y2="760.87" stroke="#000" stroke-width="1"/>
<line x1="45" y1="757.46" x2="51.5" y2="757.46" stroke="#000" stroke-width="1.3"/>
<line x1="48.25" y1="748.22" x2="48.25" y2="751.14" stroke="#e8e8e8" stroke-width="1"/>
<line x1="45" y1="748.22" x2="51.5" y2="748.22" stroke="#e8e8e8" stroke-width="1.3"/>
<line x1="48.25" y1="744.48" x2="48.25" y2="746.28" stroke="#000" stroke-width="1"/>
<line x1="45" y1="744.48" x2="51.5" y2="744.48" stroke="#000" stroke-width="1.3"/>
<rect x="61" y="746.28" width="15.7" height="98.22" fill="#000"/>
<rect x="62.6" y="752.23" width="12.5" height="13.28" fill="#8a8a8a"/>
<rect x="62.6" y="766.91" width="12.5" height="11.05" fill="#dadada"/>
<rect x="62.6" y="779.36" width="12.5" height="64.44" fill="url(#hatch)"/>
<line x1="68.85" y1="844.5" x2="68.85" y2="847.3" stroke="#000" stroke-width="1"/>
<line x1="68.85" y1="775.26" x2="68.85" y2="778.66" stroke="#000" stroke-width="1"/>
<line x1="65.6" y1="775.26" x2="72.1" y2="775.26" stroke="#000" stroke-width="1.3"/>
<line x1="68.85" y1="762.81" x2="68.85" y2="766.21" stroke="#000" stroke-width="1"/>
<line x1="65.6" y1="762.81" x2="72.1" y2="762.81" stroke="#000" stroke-width="1.3"/>
<line x1="68.85" y1="748.61" x2="68.85" y2="751.53" stroke="#e8e8e8" stroke-width="1"/>
<line x1="65.6" y1="748.61" x2="72.1" y2="748.61" stroke="#e8e8e8" stroke-width="1.3"/>
<line x1="68.85" y1="744.48" x2="68.85" y2="746.28" stroke="#000" stroke-width="1"/>
<line x1="65.6" y1="744.48" x2="72.1" y2="744.48" stroke="#000" stroke-width="1.3"/>
<rect x="81.8" y="746.28" width="15.4" height="98.22" fill="#000"/>
<rect x="83.4" y="755.15" width="12.2" height="13.28" fill="#8a8a8a"/>
<rect x="83.4" y="769.83" width="12.2" height="16.2" fill="#dadada"/>
<rect x="83.4" y="787.43" width="12.2" height="56.37" fill="url(#hatch)"/>
<line x1="89.5" y1="844.5" x2="89.5" y2="847.3" stroke="#000" stroke-width="1"/>
<line x1="89.5" y1="783.33" x2="89.5" y2="786.73" stroke="#000" stroke-width="1"/>
<line x1="86.25" y1="783.33" x2="92.75" y2="783.33" stroke="#000" stroke-width="1.3"/>
<line x1="89.5" y1="765.73" x2="89.5" y2="769.13" stroke="#000" stroke-width="1"/>
<line x1="86.25" y1="765.73" x2="92.75" y2="765.73" stroke="#000" stroke-width="1.3"/>
<line x1="89.5" y1="751.53" x2="89.5" y2="754.45" stroke="#e8e8e8" stroke-width="1"/>
<line x1="86.25" y1="751.53" x2="92.75" y2="751.53" stroke="#e8e8e8" stroke-width="1.3"/>
<line x1="89.5" y1="744.48" x2="89.5" y2="746.28" stroke="#000" stroke-width="1"/>
<line x1="86.25" y1="744.48" x2="92.75" y2="744.48" stroke="#000" stroke-width="1.3"/>
<rect x="102.3" y="746.28" width="15.6" height="98.22" fill="#000"/>
<rect x="103.9" y="761.08" width="12.4" height="21.45" fill="#8a8a8a"/>
<rect x="103.9" y="783.93" width="12.4" height="10.27" fill="#dadada"/>
<rect x="103.9" y="795.6" width="12.4" height="48.2" fill="url(#hatch)"/>
<line x1="110.1" y1="844.5" x2="110.1" y2="847.3" stroke="#000" stroke-width="1"/>
<line x1="110.1" y1="791.5" x2="110.1" y2="794.9" stroke="#000" stroke-width="1"/>
<line x1="106.85" y1="791.5" x2="113.35" y2="791.5" stroke="#000" stroke-width="1.3"/>
<line x1="110.1" y1="779.83" x2="110.1" y2="783.23" stroke="#000" stroke-width="1"/>
<line x1="106.85" y1="779.83" x2="113.35" y2="779.83" stroke="#000" stroke-width="1.3"/>
<line x1="110.1" y1="757.46" x2="110.1" y2="760.38" stroke="#e8e8e8" stroke-width="1"/>
<line x1="106.85" y1="757.46" x2="113.35" y2="757.46" stroke="#e8e8e8" stroke-width="1.3"/>
<line x1="110.1" y1="744.48" x2="110.1" y2="746.28" stroke="#000" stroke-width="1"/>
<line x1="106.85" y1="744.48" x2="113.35" y2="744.48" stroke="#000" stroke-width="1.3"/>
<rect x="143.4" y="745.79" width="15.4" height="98.71" fill="#000"/>
<rect x="145" y="754.76" width="12.2" height="7.84" fill="#dadada"/>
<rect x="145" y="764" width="12.2" height="79.8" fill="url(#hatch)"/>
<line x1="151.1" y1="844.5" x2="151.1" y2="847.3" stroke="#000" stroke-width="1"/>
<line x1="151.1" y1="759.89" x2="151.1" y2="763.3" stroke="#000" stroke-width="1"/>
<line x1="147.85" y1="759.89" x2="154.35" y2="759.89" stroke="#000" stroke-width="1.3"/>
<line x1="151.1" y1="751.14" x2="151.1" y2="754.06" stroke="#e8e8e8" stroke-width="1"/>
<line x1="147.85" y1="751.14" x2="154.35" y2="751.14" stroke="#e8e8e8" stroke-width="1.3"/>
<line x1="151.1" y1="743.99" x2="151.1" y2="745.79" stroke="#000" stroke-width="1"/>
<line x1="147.85" y1="743.99" x2="154.35" y2="743.99" stroke="#000" stroke-width="1.3"/>
<rect x="164.3" y="746.28" width="15.3" height="98.22" fill="#000"/>
<rect x="165.9" y="756.9" width="12.1" height="11.53" fill="#8a8a8a"/>
<rect x="165.9" y="769.83" width="12.1" height="12.99" fill="#dadada"/>
<rect x="165.9" y="784.22" width="12.1" height="59.58" fill="url(#hatch)"/>
<line x1="171.95" y1="844.5" x2="171.95" y2="847.3" stroke="#000" stroke-width="1"/>
<line x1="171.95" y1="780.12" x2="171.95" y2="783.52" stroke="#000" stroke-width="1"/>
<line x1="168.7" y1="780.12" x2="175.2" y2="780.12" stroke="#000" stroke-width="1.3"/>
<line x1="171.95" y1="765.73" x2="171.95" y2="769.13" stroke="#000" stroke-width="1"/>
<line x1="168.7" y1="765.73" x2="175.2" y2="765.73" stroke="#000" stroke-width="1.3"/>
<line x1="171.95" y1="753.28" x2="171.95" y2="756.2" stroke="#e8e8e8" stroke-width="1"/>
<line x1="168.7" y1="753.28" x2="175.2" y2="753.28" stroke="#e8e8e8" stroke-width="1.3"/>
<line x1="171.95" y1="744.48" x2="171.95" y2="746.28" stroke="#000" stroke-width="1"/>
<line x1="168.7" y1="744.48" x2="175.2" y2="744.48" stroke="#000" stroke-width="1.3"/>
<rect x="185.2" y="745.79" width="15.2" height="98.71" fill="#000"/>
<rect x="186.8" y="759.91" width="12" height="13.67" fill="#8a8a8a"/>
<rect x="186.8" y="774.99" width="12" height="15.52" fill="#dadada"/>
<rect x="186.8" y="791.91" width="12" height="51.89" fill="url(#hatch)"/>
<line x1="192.8" y1="844.5" x2="192.8" y2="847.3" stroke="#000" stroke-width="1"/>
<line x1="192.8" y1="787.8" x2="192.8" y2="791.21" stroke="#000" stroke-width="1"/>
<line x1="189.55" y1="787.8" x2="196.05" y2="787.8" stroke="#000" stroke-width="1.3"/>
<line x1="192.8" y1="770.88" x2="192.8" y2="774.29" stroke="#000" stroke-width="1"/>
<line x1="189.55" y1="770.88" x2="196.05" y2="770.88" stroke="#000" stroke-width="1.3"/>
<line x1="192.8" y1="756.29" x2="192.8" y2="759.21" stroke="#e8e8e8" stroke-width="1"/>
<line x1="189.55" y1="756.29" x2="196.05" y2="756.29" stroke="#e8e8e8" stroke-width="1.3"/>
<line x1="192.8" y1="743.99" x2="192.8" y2="745.79" stroke="#000" stroke-width="1"/>
<line x1="189.55" y1="743.99" x2="196.05" y2="743.99" stroke="#000" stroke-width="1.3"/>
<rect x="206.2" y="746.28" width="15" height="98.22" fill="#000"/>
<rect x="207.8" y="758.84" width="11.8" height="28.75" fill="#8a8a8a"/>
<rect x="207.8" y="788.99" width="11.8" height="16.2" fill="#dadada"/>
<rect x="207.8" y="806.59" width="11.8" height="37.21" fill="url(#hatch)"/>
<line x1="213.7" y1="844.5" x2="213.7" y2="847.3" stroke="#000" stroke-width="1"/>
<line x1="213.7" y1="802.49" x2="213.7" y2="805.89" stroke="#000" stroke-width="1"/>
<line x1="210.45" y1="802.49" x2="216.95" y2="802.49" stroke="#000" stroke-width="1.3"/>
<line x1="213.7" y1="784.89" x2="213.7" y2="788.29" stroke="#000" stroke-width="1"/>
<line x1="210.45" y1="784.89" x2="216.95" y2="784.89" stroke="#000" stroke-width="1.3"/>
<line x1="213.7" y1="755.22" x2="213.7" y2="758.14" stroke="#e8e8e8" stroke-width="1"/>
<line x1="210.45" y1="755.22" x2="216.95" y2="755.22" stroke="#e8e8e8" stroke-width="1.3"/>
<line x1="213.7" y1="744.48" x2="213.7" y2="746.28" stroke="#000" stroke-width="1"/>
<line x1="210.45" y1="744.48" x2="216.95" y2="744.48" stroke="#000" stroke-width="1.3"/>
<rect x="247.7" y="745.79" width="14.9" height="98.71" fill="#000"/>
<rect x="249.3" y="753.98" width="11.7" height="0.35" fill="#8a8a8a"/>
<rect x="249.3" y="755.73" width="11.7" height="1.52" fill="#dadada"/>
<rect x="249.3" y="758.65" width="11.7" height="85.15" fill="url(#hatch)"/>
<line x1="255.15" y1="844.5" x2="255.15" y2="847.3" stroke="#000" stroke-width="1"/>
<line x1="255.15" y1="754.54" x2="255.15" y2="757.95" stroke="#000" stroke-width="1"/>
<line x1="251.9" y1="754.54" x2="258.4" y2="754.54" stroke="#000" stroke-width="1.3"/>
<line x1="255.15" y1="750.36" x2="255.15" y2="753.28" stroke="#e8e8e8" stroke-width="1"/>
<line x1="251.9" y1="750.36" x2="258.4" y2="750.36" stroke="#e8e8e8" stroke-width="1.3"/>
<line x1="255.15" y1="743.99" x2="255.15" y2="745.79" stroke="#000" stroke-width="1"/>
<line x1="251.9" y1="743.99" x2="258.4" y2="743.99" stroke="#000" stroke-width="1.3"/>
<rect x="268.2" y="745.79" width="14.9" height="98.71" fill="#000"/>
<rect x="269.8" y="764.29" width="11.7" height="7.94" fill="#8a8a8a"/>
<rect x="269.8" y="773.62" width="11.7" height="7.55" fill="#dadada"/>
<rect x="269.8" y="782.57" width="11.7" height="61.23" fill="url(#hatch)"/>
<line x1="275.65" y1="844.5" x2="275.65" y2="847.3" stroke="#000" stroke-width="1"/>
<line x1="275.65" y1="778.47" x2="275.65" y2="781.87" stroke="#000" stroke-width="1"/>
<line x1="272.4" y1="778.47" x2="278.9" y2="778.47" stroke="#000" stroke-width="1.3"/>
<line x1="275.65" y1="769.52" x2="275.65" y2="772.92" stroke="#000" stroke-width="1"/>
<line x1="272.4" y1="769.52" x2="278.9" y2="769.52" stroke="#000" stroke-width="1.3"/>
<line x1="275.65" y1="760.67" x2="275.65" y2="763.59" stroke="#e8e8e8" stroke-width="1"/>
<line x1="272.4" y1="760.67" x2="278.9" y2="760.67" stroke="#e8e8e8" stroke-width="1.3"/>
<line x1="275.65" y1="743.99" x2="275.65" y2="745.79" stroke="#000" stroke-width="1"/>
<line x1="272.4" y1="743.99" x2="278.9" y2="743.99" stroke="#000" stroke-width="1.3"/>
<rect x="289.3" y="745.79" width="14.7" height="98.71" fill="#000"/>
<rect x="290.9" y="762.34" width="11.5" height="19.9" fill="#8a8a8a"/>
<rect x="290.9" y="783.64" width="11.5" height="13.67" fill="#dadada"/>
<rect x="290.9" y="798.71" width="11.5" height="45.09" fill="url(#hatch)"/>
<line x1="296.65" y1="844.5" x2="296.65" y2="847.3" stroke="#000" stroke-width="1"/>
<line x1="296.65" y1="794.61" x2="296.65" y2="798.01" stroke="#000" stroke-width="1"/>
<line x1="293.4" y1="794.61" x2="299.9" y2="794.61" stroke="#000" stroke-width="1.3"/>
<line x1="296.65" y1="779.54" x2="296.65" y2="782.94" stroke="#000" stroke-width="1"/>
<line x1="293.4" y1="779.54" x2="299.9" y2="779.54" stroke="#000" stroke-width="1.3"/>
<line x1="296.65" y1="758.73" x2="296.65" y2="761.64" stroke="#e8e8e8" stroke-width="1"/>
<line x1="293.4" y1="758.73" x2="299.9" y2="758.73" stroke="#e8e8e8" stroke-width="1.3"/>
<line x1="296.65" y1="743.99" x2="296.65" y2="745.79" stroke="#000" stroke-width="1"/>
<line x1="293.4" y1="743.99" x2="299.9" y2="743.99" stroke="#000" stroke-width="1.3"/>
<rect x="309.8" y="745.79" width="14.9" height="98.71" fill="#000"/>
<rect x="311.4" y="754.56" width="11.7" height="38.67" fill="#8a8a8a"/>
<rect x="311.4" y="794.63" width="11.7" height="23.69" fill="#dadada"/>
<rect x="311.4" y="819.72" width="11.7" height="24.08" fill="url(#hatch)"/>
<line x1="317.25" y1="844.5" x2="317.25" y2="847.3" stroke="#000" stroke-width="1"/>
<line x1="317.25" y1="815.62" x2="317.25" y2="819.02" stroke="#000" stroke-width="1"/>
<line x1="314" y1="815.62" x2="320.5" y2="815.62" stroke="#000" stroke-width="1.3"/>
<line x1="317.25" y1="790.53" x2="317.25" y2="793.93" stroke="#000" stroke-width="1"/>
<line x1="314" y1="790.53" x2="320.5" y2="790.53" stroke="#000" stroke-width="1.3"/>
<line x1="317.25" y1="750.95" x2="317.25" y2="753.86" stroke="#e8e8e8" stroke-width="1"/>
<line x1="314" y1="750.95" x2="320.5" y2="750.95" stroke="#e8e8e8" stroke-width="1.3"/>
<line x1="317.25" y1="743.99" x2="317.25" y2="745.79" stroke="#000" stroke-width="1"/>
<line x1="314" y1="743.99" x2="320.5" y2="743.99" stroke="#000" stroke-width="1.3"/>
<text x="182.5" y="702.4" font-size="11.6" font-weight="bold" text-anchor="middle" fill="#111" textLength="60.8" lengthAdjust="spacingAndGlyphs">MIA PaCa-2</text>
<rect x="247.7" y="703.3" width="14" height="6.9" fill="#000"/>
<rect x="247.7" y="712.6" width="14" height="6.9" fill="#000"/>
<rect x="249.3" y="714.1" width="10.8" height="3.9" fill="#8a8a8a"/>
<rect x="247.7" y="722.3" width="14" height="6.7" fill="#000"/>
<rect x="249.3" y="723.8" width="10.8" height="3.7" fill="#dadada"/>
<rect x="247.7" y="732.7" width="14" height="6.9" fill="#000"/>
<rect x="249.3" y="734.2" width="10.8" height="3.9" fill="url(#hatchL)"/>
<text x="267.8" y="709.4" font-size="9" fill="#222" textLength="22.4" lengthAdjust="spacingAndGlyphs">Dead</text>
<text x="267.8" y="718.6" font-size="9" fill="#222" textLength="60" lengthAdjust="spacingAndGlyphs">Late Apoptotic</text>
<text x="267.8" y="728.5" font-size="9" fill="#222" textLength="64.3" lengthAdjust="spacingAndGlyphs">Early Apoptotic</text>
<text x="267.8" y="738.2" font-size="9" fill="#222" textLength="30.2" lengthAdjust="spacingAndGlyphs">Viable</text>
<text x="49.45" y="855.6" font-size="8.2" font-weight="bold" text-anchor="end" fill="#111" textLength="42.5" lengthAdjust="spacingAndGlyphs" transform="rotate(-45 49.45 855.6)">Untreated</text>
<text x="70.05" y="855.6" font-size="8.2" font-weight="bold" text-anchor="end" fill="#111" textLength="15" lengthAdjust="spacingAndGlyphs" transform="rotate(-45 70.05 855.6)">100</text>
<text transform="translate(90.7 855.6) rotate(-45)" font-size="8.2" font-weight="bold" text-anchor="end" fill="#111">EC<tspan font-size="7.4" font-weight="normal" fill="#999" dy="-0.8">50</tspan></text>
<text transform="translate(111.3 855.6) rotate(-45)" font-size="8.2" font-weight="bold" text-anchor="end" fill="#111">EC<tspan font-size="7.4" font-weight="normal" fill="#999" dy="-0.8">90</tspan></text>
<text x="152.3" y="855.6" font-size="8.2" font-weight="bold" text-anchor="end" fill="#111" textLength="42.5" lengthAdjust="spacingAndGlyphs" transform="rotate(-45 152.3 855.6)">Untreated</text>
<text x="173.15" y="855.6" font-size="8.2" font-weight="bold" text-anchor="end" fill="#111" textLength="15" lengthAdjust="spacingAndGlyphs" transform="rotate(-45 173.15 855.6)">100</text>
<text transform="translate(194 855.6) rotate(-45)" font-size="8.2" font-weight="bold" text-anchor="end" fill="#111">EC<tspan font-size="7.4" font-weight="normal" fill="#999" dy="-0.8">50</tspan></text>
<text transform="translate(214.9 855.6) rotate(-45)" font-size="8.2" font-weight="bold" text-anchor="end" fill="#111">EC<tspan font-size="7.4" font-weight="normal" fill="#999" dy="-0.8">90</tspan></text>
<text x="256.35" y="855.6" font-size="8.2" font-weight="bold" text-anchor="end" fill="#111" textLength="42.5" lengthAdjust="spacingAndGlyphs" transform="rotate(-45 256.35 855.6)">Untreated</text>
<text x="276.85" y="855.6" font-size="8.2" font-weight="bold" text-anchor="end" fill="#111" textLength="15" lengthAdjust="spacingAndGlyphs" transform="rotate(-45 276.85 855.6)">100</text>
<text transform="translate(297.85 855.6) rotate(-45)" font-size="8.2" font-weight="bold" text-anchor="end" fill="#111">EC<tspan font-size="7.4" font-weight="normal" fill="#999" dy="-0.8">50</tspan></text>
<text transform="translate(318.45 855.6) rotate(-45)" font-size="8.2" font-weight="bold" text-anchor="end" fill="#111">EC<tspan font-size="7.4" font-weight="normal" fill="#999" dy="-0.8">90</tspan></text>
<text x="79.2" y="892.4" font-size="9" text-anchor="middle" fill="#222" textLength="18.2" lengthAdjust="spacingAndGlyphs">24 h</text>
<line x1="41.4" y1="896.3" x2="118" y2="896.3" stroke="#000" stroke-width="1.2"/>
<text x="85.6" y="909.3" font-size="9" text-anchor="middle" fill="#222" textLength="45.8" lengthAdjust="spacingAndGlyphs">BPM31510</text>
<text x="187.2" y="892.4" font-size="9" text-anchor="middle" fill="#222" textLength="18.2" lengthAdjust="spacingAndGlyphs">48 h</text>
<line x1="148.6" y1="896.3" x2="225.8" y2="896.3" stroke="#000" stroke-width="1.2"/>
<text x="195.6" y="909.3" font-size="9" text-anchor="middle" fill="#222" textLength="45.8" lengthAdjust="spacingAndGlyphs">BPM31510</text>
<text x="289.6" y="892.4" font-size="9" text-anchor="middle" fill="#222" textLength="18.2" lengthAdjust="spacingAndGlyphs">72 h</text>
<line x1="251" y1="896.3" x2="327.2" y2="896.3" stroke="#000" stroke-width="1.2"/>
<text x="294.6" y="909.3" font-size="9" text-anchor="middle" fill="#222" textLength="45.8" lengthAdjust="spacingAndGlyphs">BPM31510</text>
<text x="10.2" y="785.6" font-size="9.2" text-anchor="middle" fill="#222" textLength="85.2" lengthAdjust="spacingAndGlyphs" transform="rotate(-90 10.2 785.6)">Percentage of cells</text>
<line x1="476" y1="842.6" x2="476" y2="845.4" stroke="#000" stroke-width="1"/>
<line x1="579.9" y1="842.6" x2="579.9" y2="845.4" stroke="#000" stroke-width="1"/>
<line x1="379.6" y1="726.92" x2="379.6" y2="843.2" stroke="#000" stroke-width="1.2"/>
<line x1="379.6" y1="842.6" x2="676.6" y2="842.6" stroke="#000" stroke-width="1.2"/>
<line x1="376.1" y1="842.6" x2="379.6" y2="842.6" stroke="#000" stroke-width="1.1"/>
<text x="375.4" y="845.7" font-size="9.6" font-weight="bold" text-anchor="end" fill="#222" textLength="4.45" lengthAdjust="spacingAndGlyphs">0</text>
<line x1="376.1" y1="823.32" x2="379.6" y2="823.32" stroke="#000" stroke-width="1.1"/>
<text x="375.4" y="826.42" font-size="9.6" font-weight="bold" text-anchor="end" fill="#222" textLength="8.9" lengthAdjust="spacingAndGlyphs">20</text>
<line x1="376.1" y1="804.04" x2="379.6" y2="804.04" stroke="#000" stroke-width="1.1"/>
<text x="375.4" y="807.14" font-size="9.6" font-weight="bold" text-anchor="end" fill="#222" textLength="8.9" lengthAdjust="spacingAndGlyphs">40</text>
<line x1="376.1" y1="784.76" x2="379.6" y2="784.76" stroke="#000" stroke-width="1.1"/>
<text x="375.4" y="787.86" font-size="9.6" font-weight="bold" text-anchor="end" fill="#222" textLength="8.9" lengthAdjust="spacingAndGlyphs">60</text>
<line x1="376.1" y1="765.48" x2="379.6" y2="765.48" stroke="#000" stroke-width="1.1"/>
<text x="375.4" y="768.58" font-size="9.6" font-weight="bold" text-anchor="end" fill="#222" textLength="8.9" lengthAdjust="spacingAndGlyphs">80</text>
<line x1="376.1" y1="746.2" x2="379.6" y2="746.2" stroke="#000" stroke-width="1.1"/>
<text x="375.4" y="749.3" font-size="9.6" font-weight="bold" text-anchor="end" fill="#222" textLength="13.35" lengthAdjust="spacingAndGlyphs">100</text>
<line x1="376.1" y1="726.92" x2="379.6" y2="726.92" stroke="#000" stroke-width="1.1"/>
<text x="375.4" y="730.02" font-size="9.6" font-weight="bold" text-anchor="end" fill="#222" textLength="13.35" lengthAdjust="spacingAndGlyphs">120</text>
<rect x="386.1" y="746.2" width="15.3" height="96.4" fill="#000"/>
<rect x="387.7" y="749.79" width="12.1" height="-0.15" fill="#8a8a8a"/>
<rect x="387.7" y="751.05" width="12.1" height="1.11" fill="#dadada"/>
<rect x="387.7" y="753.55" width="12.1" height="88.35" fill="url(#hatch)"/>
<line x1="393.75" y1="842.6" x2="393.75" y2="845.4" stroke="#000" stroke-width="1"/>
<line x1="393.75" y1="749.48" x2="393.75" y2="752.85" stroke="#000" stroke-width="1"/>
<line x1="390.5" y1="749.48" x2="397" y2="749.48" stroke="#000" stroke-width="1.3"/>
<rect x="406.5" y="746.2" width="15.3" height="96.4" fill="#000"/>
<rect x="408.1" y="749.31" width="12.1" height="0.05" fill="#8a8a8a"/>
<rect x="408.1" y="750.76" width="12.1" height="4.29" fill="#dadada"/>
<rect x="408.1" y="756.44" width="12.1" height="85.46" fill="url(#hatch)"/>
<line x1="414.15" y1="842.6" x2="414.15" y2="845.4" stroke="#000" stroke-width="1"/>
<line x1="414.15" y1="752.37" x2="414.15" y2="755.74" stroke="#000" stroke-width="1"/>
<line x1="410.9" y1="752.37" x2="417.4" y2="752.37" stroke="#000" stroke-width="1.3"/>
<rect x="426.9" y="746.2" width="15.4" height="96.4" fill="#000"/>
<rect x="428.5" y="749.31" width="12.2" height="0.05" fill="#8a8a8a"/>
<rect x="428.5" y="750.76" width="12.2" height="6.22" fill="#dadada"/>
<rect x="428.5" y="758.37" width="12.2" height="83.53" fill="url(#hatch)"/>
<line x1="434.6" y1="842.6" x2="434.6" y2="845.4" stroke="#000" stroke-width="1"/>
<line x1="434.6" y1="754.3" x2="434.6" y2="757.67" stroke="#000" stroke-width="1"/>
<line x1="431.35" y1="754.3" x2="437.85" y2="754.3" stroke="#000" stroke-width="1.3"/>
<rect x="448.1" y="746.2" width="15" height="96.4" fill="#000"/>
<rect x="449.7" y="749.31" width="11.8" height="1.11" fill="#8a8a8a"/>
<rect x="449.7" y="751.82" width="11.8" height="5.54" fill="#dadada"/>
<rect x="449.7" y="758.76" width="11.8" height="83.14" fill="url(#hatch)"/>
<line x1="455.6" y1="842.6" x2="455.6" y2="845.4" stroke="#000" stroke-width="1"/>
<line x1="455.6" y1="754.68" x2="455.6" y2="758.06" stroke="#000" stroke-width="1"/>
<line x1="452.35" y1="754.68" x2="458.85" y2="754.68" stroke="#000" stroke-width="1.3"/>
<line x1="455.6" y1="747.74" x2="455.6" y2="751.12" stroke="#000" stroke-width="1"/>
<line x1="452.35" y1="747.74" x2="458.85" y2="747.74" stroke="#000" stroke-width="1.3"/>
<rect x="489" y="746.2" width="15.3" height="96.4" fill="#000"/>
<rect x="490.6" y="748.83" width="12.1" height="0.53" fill="#8a8a8a"/>
<rect x="490.6" y="750.76" width="12.1" height="4.29" fill="#dadada"/>
<rect x="490.6" y="756.44" width="12.1" height="85.46" fill="url(#hatch)"/>
<line x1="496.65" y1="842.6" x2="496.65" y2="845.4" stroke="#000" stroke-width="1"/>
<line x1="496.65" y1="752.37" x2="496.65" y2="755.74" stroke="#000" stroke-width="1"/>
<line x1="493.4" y1="752.37" x2="499.9" y2="752.37" stroke="#000" stroke-width="1.3"/>
<rect x="509.7" y="746.2" width="15" height="96.4" fill="#000"/>
<rect x="511.3" y="749.12" width="11.8" height="2.94" fill="#8a8a8a"/>
<rect x="511.3" y="753.46" width="11.8" height="10.55" fill="#dadada"/>
<rect x="511.3" y="765.41" width="11.8" height="76.49" fill="url(#hatch)"/>
<line x1="517.2" y1="842.6" x2="517.2" y2="845.4" stroke="#000" stroke-width="1"/>
<line x1="517.2" y1="761.33" x2="517.2" y2="764.71" stroke="#000" stroke-width="1"/>
<line x1="513.95" y1="761.33" x2="520.45" y2="761.33" stroke="#000" stroke-width="1.3"/>
<line x1="517.2" y1="749.38" x2="517.2" y2="752.76" stroke="#000" stroke-width="1"/>
<line x1="513.95" y1="749.38" x2="520.45" y2="749.38" stroke="#000" stroke-width="1.3"/>
<rect x="530.1" y="746.2" width="15.5" height="96.4" fill="#000"/>
<rect x="531.7" y="750.27" width="12.3" height="9.01" fill="#8a8a8a"/>
<rect x="531.7" y="760.69" width="12.3" height="27.62" fill="#dadada"/>
<rect x="531.7" y="789.7" width="12.3" height="52.2" fill="url(#hatch)"/>
<line x1="537.85" y1="842.6" x2="537.85" y2="845.4" stroke="#000" stroke-width="1"/>
<line x1="537.85" y1="785.63" x2="537.85" y2="789" stroke="#000" stroke-width="1"/>
<line x1="534.6" y1="785.63" x2="541.1" y2="785.63" stroke="#000" stroke-width="1.3"/>
<line x1="537.85" y1="756.61" x2="537.85" y2="759.99" stroke="#000" stroke-width="1"/>
<line x1="534.6" y1="756.61" x2="541.1" y2="756.61" stroke="#000" stroke-width="1.3"/>
<line x1="537.85" y1="746.68" x2="537.85" y2="749.57" stroke="#e8e8e8" stroke-width="1"/>
<line x1="534.6" y1="746.68" x2="541.1" y2="746.68" stroke="#e8e8e8" stroke-width="1.3"/>
<rect x="551.8" y="746.2" width="14.6" height="96.4" fill="#000"/>
<rect x="553.4" y="753.26" width="11.4" height="26.27" fill="#8a8a8a"/>
<rect x="553.4" y="780.93" width="11.4" height="15.28" fill="#dadada"/>
<rect x="553.4" y="797.61" width="11.4" height="44.29" fill="url(#hatch)"/>
<line x1="559.1" y1="842.6" x2="559.1" y2="845.4" stroke="#000" stroke-width="1"/>
<line x1="559.1" y1="793.53" x2="559.1" y2="796.91" stroke="#000" stroke-width="1"/>
<line x1="555.85" y1="793.53" x2="562.35" y2="793.53" stroke="#000" stroke-width="1.3"/>
<line x1="559.1" y1="776.86" x2="559.1" y2="780.23" stroke="#000" stroke-width="1"/>
<line x1="555.85" y1="776.86" x2="562.35" y2="776.86" stroke="#000" stroke-width="1.3"/>
<line x1="559.1" y1="749.67" x2="559.1" y2="752.56" stroke="#e8e8e8" stroke-width="1"/>
<line x1="555.85" y1="749.67" x2="562.35" y2="749.67" stroke="#e8e8e8" stroke-width="1.3"/>
<rect x="593.3" y="746.2" width="14.9" height="96.4" fill="#000"/>
<rect x="594.9" y="748.83" width="11.7" height="2.07" fill="#8a8a8a"/>
<rect x="594.9" y="752.3" width="11.7" height="3.13" fill="#dadada"/>
<rect x="594.9" y="756.83" width="11.7" height="85.07" fill="url(#hatch)"/>
<line x1="600.75" y1="842.6" x2="600.75" y2="845.4" stroke="#000" stroke-width="1"/>
<line x1="600.75" y1="752.76" x2="600.75" y2="756.13" stroke="#000" stroke-width="1"/>
<line x1="597.5" y1="752.76" x2="604" y2="752.76" stroke="#000" stroke-width="1.3"/>
<line x1="600.75" y1="748.22" x2="600.75" y2="751.6" stroke="#000" stroke-width="1"/>
<line x1="597.5" y1="748.22" x2="604" y2="748.22" stroke="#000" stroke-width="1.3"/>
<rect x="614.2" y="746.2" width="14.5" height="96.4" fill="#000"/>
<rect x="615.8" y="749.12" width="11.3" height="4.09" fill="#8a8a8a"/>
<rect x="615.8" y="754.61" width="11.3" height="6.5" fill="#dadada"/>
<rect x="615.8" y="762.52" width="11.3" height="79.38" fill="url(#hatch)"/>
<line x1="621.45" y1="842.6" x2="621.45" y2="845.4" stroke="#000" stroke-width="1"/>
<line x1="621.45" y1="758.44" x2="621.45" y2="761.82" stroke="#000" stroke-width="1"/>
<line x1="618.2" y1="758.44" x2="624.7" y2="758.44" stroke="#000" stroke-width="1.3"/>
<line x1="621.45" y1="750.54" x2="621.45" y2="753.91" stroke="#000" stroke-width="1"/>
<line x1="618.2" y1="750.54" x2="624.7" y2="750.54" stroke="#000" stroke-width="1.3"/>
<rect x="634.7" y="746.2" width="14.9" height="96.4" fill="#000"/>
<rect x="636.3" y="753.36" width="11.7" height="13.45" fill="#8a8a8a"/>
<rect x="636.3" y="768.2" width="11.7" height="19.81" fill="#dadada"/>
<rect x="636.3" y="789.41" width="11.7" height="52.49" fill="url(#hatch)"/>
<line x1="642.15" y1="842.6" x2="642.15" y2="845.4" stroke="#000" stroke-width="1"/>
<line x1="642.15" y1="785.34" x2="642.15" y2="788.71" stroke="#000" stroke-width="1"/>
<line x1="638.9" y1="785.34" x2="645.4" y2="785.34" stroke="#000" stroke-width="1.3"/>
<line x1="642.15" y1="764.13" x2="642.15" y2="767.5" stroke="#000" stroke-width="1"/>
<line x1="638.9" y1="764.13" x2="645.4" y2="764.13" stroke="#000" stroke-width="1.3"/>
<line x1="642.15" y1="749.77" x2="642.15" y2="752.66" stroke="#e8e8e8" stroke-width="1"/>
<line x1="638.9" y1="749.77" x2="645.4" y2="749.77" stroke="#e8e8e8" stroke-width="1.3"/>
<rect x="655.4" y="746.2" width="14.9" height="96.4" fill="#000"/>
<rect x="657" y="751.91" width="11.7" height="35.52" fill="#8a8a8a"/>
<rect x="657" y="788.83" width="11.7" height="23.18" fill="#dadada"/>
<rect x="657" y="813.42" width="11.7" height="28.48" fill="url(#hatch)"/>
<line x1="662.85" y1="842.6" x2="662.85" y2="845.4" stroke="#000" stroke-width="1"/>
<line x1="662.85" y1="809.34" x2="662.85" y2="812.72" stroke="#000" stroke-width="1"/>
<line x1="659.6" y1="809.34" x2="666.1" y2="809.34" stroke="#000" stroke-width="1.3"/>
<line x1="662.85" y1="784.76" x2="662.85" y2="788.13" stroke="#000" stroke-width="1"/>
<line x1="659.6" y1="784.76" x2="666.1" y2="784.76" stroke="#000" stroke-width="1.3"/>
<line x1="662.85" y1="748.32" x2="662.85" y2="751.21" stroke="#e8e8e8" stroke-width="1"/>
<line x1="659.6" y1="748.32" x2="666.1" y2="748.32" stroke="#e8e8e8" stroke-width="1.3"/>
<text x="527.6" y="695.5" font-size="10.2" font-weight="bold" text-anchor="middle" fill="#111" textLength="35.4" lengthAdjust="spacingAndGlyphs">PANC1</text>
<rect x="593.3" y="701.4" width="14" height="6.9" fill="#000"/>
<rect x="593.3" y="711.3" width="14" height="6.5" fill="#000"/>
<rect x="594.9" y="712.8" width="10.8" height="3.5" fill="#8a8a8a"/>
<rect x="593.3" y="721.4" width="14" height="6.5" fill="#000"/>
<rect x="594.9" y="722.9" width="10.8" height="3.5" fill="#dadada"/>
<rect x="593.3" y="731.3" width="14" height="6.5" fill="#000"/>
<rect x="594.9" y="732.8" width="10.8" height="3.5" fill="url(#hatchL)"/>
<text x="613.2" y="707.6" font-size="9" fill="#222" textLength="22.4" lengthAdjust="spacingAndGlyphs">Dead</text>
<text x="613.2" y="716.9" font-size="9" fill="#222" textLength="60" lengthAdjust="spacingAndGlyphs">Late Apoptotic</text>
<text x="613.2" y="727" font-size="9" fill="#222" textLength="64.3" lengthAdjust="spacingAndGlyphs">Early Apoptotic</text>
<text x="613.2" y="736.9" font-size="9" fill="#222" textLength="30.2" lengthAdjust="spacingAndGlyphs">Viable</text>
<text x="394.95" y="854.4" font-size="8.2" font-weight="bold" text-anchor="end" fill="#111" textLength="42.5" lengthAdjust="spacingAndGlyphs" transform="rotate(-45 394.95 854.4)">Untreated</text>
<text x="415.35" y="854.4" font-size="8.2" font-weight="bold" text-anchor="end" fill="#111" textLength="15" lengthAdjust="spacingAndGlyphs" transform="rotate(-45 415.35 854.4)">100</text>
<text transform="translate(435.8 854.4) rotate(-45)" font-size="8.2" font-weight="bold" text-anchor="end" fill="#111">EC<tspan font-size="7.4" font-weight="normal" fill="#999" dy="-0.8">50</tspan></text>
<text transform="translate(456.8 854.4) rotate(-45)" font-size="8.2" font-weight="bold" text-anchor="end" fill="#111">EC<tspan font-size="7.4" font-weight="normal" fill="#999" dy="-0.8">90</tspan></text>
<text x="497.85" y="854.4" font-size="8.2" font-weight="bold" text-anchor="end" fill="#111" textLength="42.5" lengthAdjust="spacingAndGlyphs" transform="rotate(-45 497.85 854.4)">Untreated</text>
<text x="518.4" y="854.4" font-size="8.2" font-weight="bold" text-anchor="end" fill="#111" textLength="15" lengthAdjust="spacingAndGlyphs" transform="rotate(-45 518.4 854.4)">100</text>
<text transform="translate(539.05 854.4) rotate(-45)" font-size="8.2" font-weight="bold" text-anchor="end" fill="#111">EC<tspan font-size="7.4" font-weight="normal" fill="#999" dy="-0.8">50</tspan></text>
<text transform="translate(560.3 854.4) rotate(-45)" font-size="8.2" font-weight="bold" text-anchor="end" fill="#111">EC<tspan font-size="7.4" font-weight="normal" fill="#999" dy="-0.8">90</tspan></text>
<text x="601.95" y="854.4" font-size="8.2" font-weight="bold" text-anchor="end" fill="#111" textLength="42.5" lengthAdjust="spacingAndGlyphs" transform="rotate(-45 601.95 854.4)">Untreated</text>
<text x="622.65" y="854.4" font-size="8.2" font-weight="bold" text-anchor="end" fill="#111" textLength="15" lengthAdjust="spacingAndGlyphs" transform="rotate(-45 622.65 854.4)">100</text>
<text transform="translate(643.35 854.4) rotate(-45)" font-size="8.2" font-weight="bold" text-anchor="end" fill="#111">EC<tspan font-size="7.4" font-weight="normal" fill="#999" dy="-0.8">50</tspan></text>
<text transform="translate(664.05 854.4) rotate(-45)" font-size="8.2" font-weight="bold" text-anchor="end" fill="#111">EC<tspan font-size="7.4" font-weight="normal" fill="#999" dy="-0.8">90</tspan></text>
<text x="423" y="891.9" font-size="9" text-anchor="middle" fill="#222" textLength="18.2" lengthAdjust="spacingAndGlyphs">24 h</text>
<line x1="385.3" y1="895.8" x2="461.9" y2="895.8" stroke="#000" stroke-width="1.2"/>
<text x="435.7" y="905.5" font-size="9" text-anchor="middle" fill="#222" textLength="45.8" lengthAdjust="spacingAndGlyphs">BPM31510</text>
<text x="532.8" y="891.9" font-size="9" text-anchor="middle" fill="#222" textLength="18.2" lengthAdjust="spacingAndGlyphs">48 h</text>
<line x1="489.5" y1="895.8" x2="565.6" y2="895.8" stroke="#000" stroke-width="1.2"/>
<text x="539.9" y="905.5" font-size="9" text-anchor="middle" fill="#222" textLength="45.8" lengthAdjust="spacingAndGlyphs">BPM31510</text>
<text x="628" y="891.9" font-size="9" text-anchor="middle" fill="#222" textLength="18.2" lengthAdjust="spacingAndGlyphs">72 h</text>
<line x1="594.3" y1="895.8" x2="672.3" y2="895.8" stroke="#000" stroke-width="1.2"/>
<text x="639.6" y="905.5" font-size="9" text-anchor="middle" fill="#222" textLength="45.8" lengthAdjust="spacingAndGlyphs">BPM31510</text>
<text x="355.8" y="783.6" font-size="9.2" text-anchor="middle" fill="#222" textLength="85.9" lengthAdjust="spacingAndGlyphs" transform="rotate(-90 355.8 783.6)">Percentage of cells</text>
</svg></body></html>
